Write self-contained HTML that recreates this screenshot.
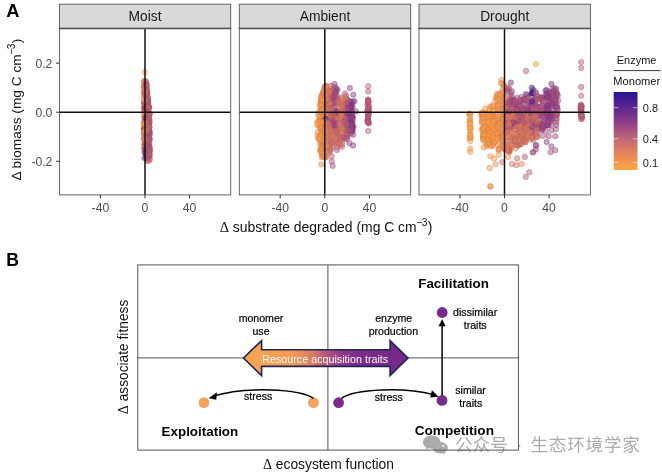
<!DOCTYPE html>
<html lang="en"><head><meta charset="utf-8"><title>Figure</title>
<style>html,body{margin:0;padding:0;background:#fff}body{width:662px;height:472px;overflow:hidden}</style></head>
<body>
<svg width="662" height="472" viewBox="0 0 662 472" style="display:block;will-change:transform">
<defs>
<linearGradient id="cb" x1="0" y1="1" x2="0" y2="0"><stop offset="0.0" stop-color="#fca545"/><stop offset="0.1" stop-color="#f3974e"/><stop offset="0.2" stop-color="#e5875a"/><stop offset="0.3" stop-color="#d47668"/><stop offset="0.4" stop-color="#c06675"/><stop offset="0.5" stop-color="#a9547f"/><stop offset="0.6" stop-color="#903f88"/><stop offset="0.7" stop-color="#76328c"/><stop offset="0.8" stop-color="#5c2790"/><stop offset="0.9" stop-color="#411c91"/><stop offset="1.0" stop-color="#27148c"/></linearGradient>
<linearGradient id="ar" gradientUnits="userSpaceOnUse" x1="243" y1="0" x2="408" y2="0"><stop offset="0" stop-color="#f6a654"/><stop offset="0.3" stop-color="#f29c56"/><stop offset="0.42" stop-color="#d87c66"/><stop offset="0.5" stop-color="#b45a7a"/><stop offset="0.6" stop-color="#8e3a88"/><stop offset="0.68" stop-color="#7c2d8c"/><stop offset="1" stop-color="#75288c"/></linearGradient>
<clipPath id="cp0"><rect x="59.5" y="28.4" width="171.2" height="166.5"/></clipPath>
<clipPath id="cp1"><rect x="239.3" y="28.4" width="171.39999999999998" height="166.5"/></clipPath>
<clipPath id="cp2"><rect x="419" y="28.4" width="171.39999999999998" height="166.5"/></clipPath>
</defs>
<rect width="662" height="472" fill="#fff"/>
<text x="6.3" y="17" font-family="Liberation Sans, Arial, Helvetica, sans-serif" font-size="18.3" font-weight="bold" fill="#000">A</text>
<text x="6.3" y="265.6" font-family="Liberation Sans, Arial, Helvetica, sans-serif" font-size="17.6" font-weight="bold" fill="#000">B</text>
<rect x="59.5" y="4.2" width="171.2" height="24.2" fill="#d9d9d9" stroke="#555" stroke-width="0.9"/>
<text x="145.1" y="21.1" font-family="Liberation Sans, Arial, Helvetica, sans-serif" font-size="13.8" fill="#1a1a1a" text-anchor="middle">Moist</text>
<g clip-path="url(#cp0)" fill-opacity="0.48" stroke-opacity="0.45" stroke-width="0.9">
<circle cx="146.5" cy="91.2" r="2.7" fill="#ae587d" stroke="#99466b"/>
<circle cx="146.3" cy="88.3" r="2.7" fill="#d1746a" stroke="#b75c5b"/>
<circle cx="146.7" cy="98.5" r="2.7" fill="#a14e82" stroke="#8d3e6f"/>
<circle cx="147.5" cy="111.9" r="2.7" fill="#ba6178" stroke="#a34d67"/>
<circle cx="144.2" cy="133.5" r="2.7" fill="#76328c" stroke="#672878"/>
<circle cx="146.6" cy="126.0" r="2.7" fill="#be6576" stroke="#a75065"/>
<circle cx="145.2" cy="105.3" r="2.7" fill="#692c8e" stroke="#5c237a"/>
<circle cx="145.6" cy="88.4" r="2.7" fill="#c36973" stroke="#ab5462"/>
<circle cx="146.7" cy="116.3" r="2.7" fill="#c66b71" stroke="#ae5561"/>
<circle cx="146.5" cy="123.9" r="2.7" fill="#d47668" stroke="#ba5e59"/>
<circle cx="145.0" cy="90.2" r="2.7" fill="#dc7e62" stroke="#c16454"/>
<circle cx="149.8" cy="148.8" r="2.7" fill="#ab567e" stroke="#96446c"/>
<circle cx="147.0" cy="157.2" r="2.7" fill="#ba6178" stroke="#a34d67"/>
<circle cx="144.1" cy="128.9" r="2.7" fill="#f4984d" stroke="#d67942"/>
<circle cx="146.7" cy="117.2" r="2.7" fill="#a55180" stroke="#91406e"/>
<circle cx="144.2" cy="107.7" r="2.7" fill="#f4984d" stroke="#d67942"/>
<circle cx="146.4" cy="94.6" r="2.7" fill="#b25b7b" stroke="#9c4869"/>
<circle cx="148.7" cy="156.0" r="2.7" fill="#ac567e" stroke="#97446c"/>
<circle cx="144.1" cy="81.0" r="2.7" fill="#f4984d" stroke="#d67942"/>
<circle cx="147.5" cy="126.6" r="2.7" fill="#e2845c" stroke="#c6694f"/>
<circle cx="144.8" cy="126.5" r="2.7" fill="#60298f" stroke="#54207a"/>
<circle cx="146.0" cy="81.2" r="2.7" fill="#cc6f6d" stroke="#b3585d"/>
<circle cx="144.7" cy="143.0" r="2.7" fill="#f59a4c" stroke="#d77b41"/>
<circle cx="145.0" cy="93.0" r="2.7" fill="#bd6476" stroke="#a65065"/>
<circle cx="146.5" cy="119.5" r="2.7" fill="#df815f" stroke="#c46751"/>
<circle cx="146.2" cy="94.6" r="2.7" fill="#aa557f" stroke="#95446d"/>
<circle cx="146.2" cy="96.5" r="2.7" fill="#ae587d" stroke="#99466b"/>
<circle cx="146.7" cy="109.8" r="2.7" fill="#dc7e61" stroke="#c16453"/>
<circle cx="146.2" cy="92.9" r="2.7" fill="#a55180" stroke="#91406e"/>
<circle cx="146.3" cy="131.9" r="2.7" fill="#ac567e" stroke="#97446c"/>
<circle cx="148.5" cy="115.9" r="2.7" fill="#c06675" stroke="#a85164"/>
<circle cx="146.1" cy="92.2" r="2.7" fill="#b65e79" stroke="#a04b68"/>
<circle cx="145.9" cy="152.3" r="2.7" fill="#652b8f" stroke="#58227a"/>
<circle cx="146.5" cy="145.2" r="2.7" fill="#cc706d" stroke="#b3595d"/>
<circle cx="144.3" cy="101.4" r="2.7" fill="#f19550" stroke="#d47744"/>
<circle cx="149.2" cy="114.3" r="2.7" fill="#b15a7c" stroke="#9b486a"/>
<circle cx="146.6" cy="91.6" r="2.7" fill="#ba6277" stroke="#a34e66"/>
<circle cx="149.6" cy="120.9" r="2.7" fill="#af587d" stroke="#9a466b"/>
<circle cx="144.9" cy="146.5" r="2.7" fill="#faa247" stroke="#dc813d"/>
<circle cx="144.7" cy="85.6" r="2.7" fill="#f3974e" stroke="#d57843"/>
<circle cx="148.7" cy="107.7" r="2.7" fill="#a14d82" stroke="#8d3d6f"/>
<circle cx="144.7" cy="148.3" r="2.7" fill="#f79d4a" stroke="#d97d3f"/>
<circle cx="149.5" cy="113.4" r="2.7" fill="#b55d7a" stroke="#9f4a68"/>
<circle cx="144.4" cy="126.2" r="2.7" fill="#f9a148" stroke="#db803d"/>
<circle cx="146.0" cy="129.1" r="2.7" fill="#b96078" stroke="#a24c67"/>
<circle cx="144.3" cy="122.8" r="2.7" fill="#f69c4b" stroke="#d87c40"/>
<circle cx="146.0" cy="86.5" r="2.7" fill="#b45d7a" stroke="#9e4a68"/>
<circle cx="147.4" cy="98.8" r="2.7" fill="#b96178" stroke="#a24d67"/>
<circle cx="146.2" cy="98.4" r="2.7" fill="#b35b7b" stroke="#9d4869"/>
<circle cx="145.1" cy="129.1" r="2.7" fill="#934287" stroke="#813474"/>
<circle cx="146.5" cy="146.9" r="2.7" fill="#b45d7a" stroke="#9e4a68"/>
<circle cx="146.5" cy="102.3" r="2.7" fill="#cf726b" stroke="#b65b5c"/>
<circle cx="147.6" cy="100.6" r="2.7" fill="#bc6377" stroke="#a54f66"/>
<circle cx="146.8" cy="110.3" r="2.7" fill="#b15b7b" stroke="#9b4869"/>
<circle cx="144.0" cy="92.3" r="2.7" fill="#f79e4a" stroke="#d97e3f"/>
<circle cx="147.5" cy="122.8" r="2.7" fill="#ae587d" stroke="#99466b"/>
<circle cx="145.7" cy="93.2" r="2.7" fill="#bf6575" stroke="#a85064"/>
<circle cx="145.6" cy="112.4" r="2.7" fill="#441d91" stroke="#3b177c"/>
<circle cx="144.9" cy="129.9" r="2.7" fill="#f3974e" stroke="#d57843"/>
<circle cx="145.7" cy="125.3" r="2.7" fill="#df815f" stroke="#c46751"/>
<circle cx="146.2" cy="102.5" r="2.7" fill="#a65180" stroke="#92406e"/>
<circle cx="146.4" cy="158.3" r="2.7" fill="#c46973" stroke="#ac5462"/>
<circle cx="148.4" cy="155.9" r="2.7" fill="#a8537f" stroke="#93426d"/>
<circle cx="146.8" cy="121.9" r="2.7" fill="#c66b71" stroke="#ae5561"/>
<circle cx="145.3" cy="115.1" r="2.7" fill="#c06675" stroke="#a85164"/>
<circle cx="149.6" cy="155.8" r="2.7" fill="#a75380" stroke="#92426e"/>
<circle cx="144.1" cy="122.2" r="2.7" fill="#f4984d" stroke="#d67942"/>
<circle cx="146.1" cy="87.0" r="2.7" fill="#c96d6f" stroke="#b0575f"/>
<circle cx="147.0" cy="143.8" r="2.7" fill="#bd6476" stroke="#a65065"/>
<circle cx="146.1" cy="105.5" r="2.7" fill="#c46a72" stroke="#ac5462"/>
<circle cx="149.0" cy="118.1" r="2.7" fill="#c36873" stroke="#ab5362"/>
<circle cx="144.2" cy="149.3" r="2.7" fill="#f69c4b" stroke="#d87c40"/>
<circle cx="146.1" cy="133.0" r="2.7" fill="#aa557f" stroke="#95446d"/>
<circle cx="143.9" cy="108.7" r="2.7" fill="#ef9351" stroke="#d27545"/>
<circle cx="146.5" cy="155.3" r="2.7" fill="#b55d7a" stroke="#9f4a68"/>
<circle cx="146.2" cy="102.6" r="2.7" fill="#7f378b" stroke="#6f2c77"/>
<circle cx="145.6" cy="88.6" r="2.7" fill="#d77966" stroke="#bd6057"/>
<circle cx="146.3" cy="92.0" r="2.7" fill="#b45d7a" stroke="#9e4a68"/>
<circle cx="148.6" cy="123.2" r="2.7" fill="#a34f81" stroke="#8f3f6e"/>
<circle cx="146.7" cy="153.6" r="2.7" fill="#af597c" stroke="#9a476a"/>
<circle cx="145.8" cy="128.3" r="2.7" fill="#672c8e" stroke="#5a237a"/>
<circle cx="146.2" cy="85.8" r="2.7" fill="#b05a7c" stroke="#9a486a"/>
<circle cx="144.5" cy="85.5" r="2.7" fill="#f09451" stroke="#d37645"/>
<circle cx="149.5" cy="143.1" r="2.7" fill="#b86078" stroke="#a14c67"/>
<circle cx="147.4" cy="114.2" r="2.7" fill="#be6476" stroke="#a75065"/>
<circle cx="145.0" cy="147.2" r="2.7" fill="#f3984e" stroke="#d57943"/>
<circle cx="146.1" cy="88.7" r="2.7" fill="#af587d" stroke="#9a466b"/>
<circle cx="144.7" cy="113.6" r="2.7" fill="#f59a4c" stroke="#d77b41"/>
<circle cx="147.6" cy="97.9" r="2.7" fill="#b96078" stroke="#a24c67"/>
<circle cx="146.5" cy="99.6" r="2.7" fill="#b55d7a" stroke="#9f4a68"/>
<circle cx="145.5" cy="108.2" r="2.7" fill="#853a8a" stroke="#752e76"/>
<circle cx="144.9" cy="109.0" r="2.7" fill="#f3974e" stroke="#d57843"/>
<circle cx="144.4" cy="81.3" r="2.7" fill="#f69c4b" stroke="#d87c40"/>
<circle cx="146.8" cy="113.1" r="2.7" fill="#b75f79" stroke="#a14c68"/>
<circle cx="144.9" cy="87.0" r="2.7" fill="#bf6575" stroke="#a85064"/>
<circle cx="145.7" cy="89.1" r="2.7" fill="#d0736b" stroke="#b75c5c"/>
<circle cx="147.3" cy="112.3" r="2.7" fill="#ad577d" stroke="#98456b"/>
<circle cx="149.4" cy="135.0" r="2.7" fill="#ab557e" stroke="#96446c"/>
<circle cx="147.0" cy="113.0" r="2.7" fill="#c16675" stroke="#a95164"/>
<circle cx="146.2" cy="96.3" r="2.7" fill="#da7c63" stroke="#bf6355"/>
<circle cx="146.8" cy="117.3" r="2.7" fill="#dc7e61" stroke="#c16453"/>
<circle cx="144.3" cy="111.6" r="2.7" fill="#ef9351" stroke="#d27545"/>
<circle cx="146.1" cy="154.7" r="2.7" fill="#b35c7b" stroke="#9d4969"/>
<circle cx="144.9" cy="139.9" r="2.7" fill="#7e368b" stroke="#6e2b77"/>
<circle cx="145.8" cy="144.3" r="2.7" fill="#702f8d" stroke="#622579"/>
<circle cx="145.8" cy="116.7" r="2.7" fill="#c66b71" stroke="#ae5561"/>
<circle cx="144.6" cy="114.9" r="2.7" fill="#d87a65" stroke="#be6156"/>
<circle cx="148.2" cy="111.7" r="2.7" fill="#c16774" stroke="#a95263"/>
<circle cx="146.0" cy="97.6" r="2.7" fill="#be6476" stroke="#a75065"/>
<circle cx="146.8" cy="91.8" r="2.7" fill="#bc6377" stroke="#a54f66"/>
<circle cx="146.6" cy="102.7" r="2.7" fill="#994785" stroke="#863872"/>
<circle cx="147.4" cy="131.7" r="2.7" fill="#aa557e" stroke="#95446c"/>
<circle cx="147.8" cy="151.2" r="2.7" fill="#b55d7a" stroke="#9f4a68"/>
<circle cx="144.4" cy="134.1" r="2.7" fill="#f79d4a" stroke="#d97d3f"/>
<circle cx="149.4" cy="140.0" r="2.7" fill="#b96078" stroke="#a24c67"/>
<circle cx="145.3" cy="90.2" r="2.7" fill="#cf726b" stroke="#b65b5c"/>
<circle cx="146.5" cy="84.4" r="2.7" fill="#d97b64" stroke="#be6256"/>
<circle cx="144.9" cy="93.7" r="2.7" fill="#ca6e6f" stroke="#b1585f"/>
<circle cx="146.1" cy="94.6" r="2.7" fill="#aa557f" stroke="#95446d"/>
<circle cx="149.4" cy="126.7" r="2.7" fill="#ac567e" stroke="#97446c"/>
<circle cx="146.5" cy="113.3" r="2.7" fill="#cc706d" stroke="#b3595d"/>
<circle cx="148.0" cy="100.0" r="2.7" fill="#ab567e" stroke="#96446c"/>
<circle cx="147.3" cy="93.4" r="2.7" fill="#c26774" stroke="#aa5263"/>
<circle cx="149.1" cy="119.6" r="2.7" fill="#a75280" stroke="#92416e"/>
<circle cx="147.1" cy="147.1" r="2.7" fill="#ba6178" stroke="#a34d67"/>
<circle cx="148.8" cy="106.1" r="2.7" fill="#bc6377" stroke="#a54f66"/>
<circle cx="147.7" cy="137.2" r="2.7" fill="#b35c7b" stroke="#9d4969"/>
<circle cx="144.8" cy="122.5" r="2.7" fill="#ed9153" stroke="#d07447"/>
<circle cx="144.9" cy="123.9" r="2.7" fill="#f19550" stroke="#d47744"/>
<circle cx="145.2" cy="104.5" r="2.7" fill="#cf726b" stroke="#b65b5c"/>
<circle cx="145.5" cy="108.4" r="2.7" fill="#61298f" stroke="#55207a"/>
<circle cx="149.8" cy="139.0" r="2.7" fill="#ab567e" stroke="#96446c"/>
<circle cx="147.5" cy="125.8" r="2.7" fill="#bd6376" stroke="#a64f65"/>
<circle cx="148.9" cy="132.6" r="2.7" fill="#bb6277" stroke="#a44e66"/>
<circle cx="148.2" cy="102.6" r="2.7" fill="#a75280" stroke="#92416e"/>
<circle cx="146.1" cy="88.9" r="2.7" fill="#b45d7a" stroke="#9e4a68"/>
<circle cx="146.2" cy="84.9" r="2.7" fill="#af597c" stroke="#9a476a"/>
<circle cx="146.4" cy="157.7" r="2.7" fill="#582590" stroke="#4d1d7b"/>
<circle cx="144.2" cy="128.9" r="2.7" fill="#61298f" stroke="#55207a"/>
<circle cx="144.4" cy="92.9" r="2.7" fill="#ee9153" stroke="#d17447"/>
<circle cx="147.2" cy="95.5" r="2.7" fill="#be6476" stroke="#a75065"/>
<circle cx="146.9" cy="122.0" r="2.7" fill="#ae587d" stroke="#99466b"/>
<circle cx="150.0" cy="159.5" r="2.7" fill="#ca6e6e" stroke="#b1585e"/>
<circle cx="146.2" cy="122.4" r="2.7" fill="#c06675" stroke="#a85164"/>
<circle cx="149.0" cy="122.5" r="2.7" fill="#d37569" stroke="#b95d5a"/>
<circle cx="146.9" cy="120.7" r="2.7" fill="#b35c7b" stroke="#9d4969"/>
<circle cx="144.0" cy="85.9" r="2.7" fill="#f19550" stroke="#d47744"/>
<circle cx="144.4" cy="102.7" r="2.7" fill="#fba446" stroke="#dc833c"/>
<circle cx="147.7" cy="149.0" r="2.7" fill="#b65e79" stroke="#a04b68"/>
<circle cx="147.0" cy="115.5" r="2.7" fill="#ca6e6f" stroke="#b1585f"/>
<circle cx="148.4" cy="151.8" r="2.7" fill="#b15b7b" stroke="#9b4869"/>
<circle cx="148.7" cy="153.5" r="2.7" fill="#ad577d" stroke="#98456b"/>
<circle cx="146.6" cy="102.6" r="2.7" fill="#bc6377" stroke="#a54f66"/>
<circle cx="148.1" cy="103.5" r="2.7" fill="#d47668" stroke="#ba5e59"/>
<circle cx="146.5" cy="87.9" r="2.7" fill="#d87a65" stroke="#be6156"/>
<circle cx="145.4" cy="111.9" r="2.7" fill="#5d2790" stroke="#511f7b"/>
<circle cx="148.2" cy="158.3" r="2.7" fill="#c16774" stroke="#a95263"/>
<circle cx="147.5" cy="107.8" r="2.7" fill="#cb6f6e" stroke="#b2585e"/>
<circle cx="144.8" cy="149.2" r="2.7" fill="#f8a049" stroke="#da803e"/>
<circle cx="146.6" cy="118.6" r="2.7" fill="#a75280" stroke="#92416e"/>
<circle cx="145.0" cy="84.4" r="2.7" fill="#c16775" stroke="#a95264"/>
<circle cx="145.7" cy="100.0" r="2.7" fill="#c96d6f" stroke="#b0575f"/>
<circle cx="147.8" cy="100.8" r="2.7" fill="#cb6f6e" stroke="#b2585e"/>
<circle cx="148.1" cy="101.4" r="2.7" fill="#b0597c" stroke="#9a476a"/>
<circle cx="148.8" cy="144.2" r="2.7" fill="#ac567e" stroke="#97446c"/>
<circle cx="144.5" cy="109.8" r="2.7" fill="#ee9153" stroke="#d17447"/>
<circle cx="145.7" cy="152.6" r="2.7" fill="#6c2e8e" stroke="#5f247a"/>
<circle cx="148.7" cy="131.7" r="2.7" fill="#ae587d" stroke="#99466b"/>
<circle cx="146.6" cy="104.6" r="2.7" fill="#c36973" stroke="#ab5462"/>
<circle cx="148.9" cy="107.1" r="2.7" fill="#af597c" stroke="#9a476a"/>
<circle cx="147.6" cy="121.9" r="2.7" fill="#c46972" stroke="#ac5462"/>
<circle cx="144.8" cy="147.5" r="2.7" fill="#fca545" stroke="#dd843b"/>
<circle cx="146.2" cy="139.8" r="2.7" fill="#b15a7c" stroke="#9b486a"/>
<circle cx="147.6" cy="140.2" r="2.7" fill="#c06675" stroke="#a85164"/>
<circle cx="148.1" cy="123.8" r="2.7" fill="#c76b71" stroke="#af5561"/>
<circle cx="144.1" cy="97.3" r="2.7" fill="#f59b4c" stroke="#d77c41"/>
<circle cx="147.4" cy="126.5" r="2.7" fill="#b55d7a" stroke="#9f4a68"/>
<circle cx="146.8" cy="121.3" r="2.7" fill="#9b4884" stroke="#883971"/>
<circle cx="149.0" cy="125.0" r="2.7" fill="#c56a72" stroke="#ad5462"/>
<circle cx="147.0" cy="96.3" r="2.7" fill="#bc6377" stroke="#a54f66"/>
<circle cx="144.3" cy="128.7" r="2.7" fill="#471f91" stroke="#3e187c"/>
<circle cx="149.7" cy="131.9" r="2.7" fill="#bc6377" stroke="#a54f66"/>
<circle cx="146.2" cy="86.4" r="2.7" fill="#b65e79" stroke="#a04b68"/>
<circle cx="144.0" cy="86.4" r="2.7" fill="#f4984d" stroke="#d67942"/>
<circle cx="146.9" cy="114.4" r="2.7" fill="#b15a7c" stroke="#9b486a"/>
<circle cx="147.8" cy="130.8" r="2.7" fill="#b96078" stroke="#a24c67"/>
<circle cx="146.1" cy="84.3" r="2.7" fill="#be6476" stroke="#a75065"/>
<circle cx="149.5" cy="134.1" r="2.7" fill="#b45d7a" stroke="#9e4a68"/>
<circle cx="147.3" cy="126.2" r="2.7" fill="#bc6377" stroke="#a54f66"/>
<circle cx="148.2" cy="106.3" r="2.7" fill="#b35c7b" stroke="#9d4969"/>
<circle cx="147.4" cy="109.4" r="2.7" fill="#b25b7b" stroke="#9c4869"/>
<circle cx="144.9" cy="83.4" r="2.7" fill="#d1746a" stroke="#b75c5b"/>
<circle cx="149.6" cy="133.9" r="2.7" fill="#ae587d" stroke="#99466b"/>
<circle cx="145.5" cy="129.7" r="2.7" fill="#82388a" stroke="#722c76"/>
<circle cx="144.6" cy="121.2" r="2.7" fill="#f69c4b" stroke="#d87c40"/>
<circle cx="147.3" cy="96.1" r="2.7" fill="#b35c7b" stroke="#9d4969"/>
<circle cx="148.2" cy="158.9" r="2.7" fill="#bc6377" stroke="#a54f66"/>
<circle cx="148.1" cy="129.0" r="2.7" fill="#bb6277" stroke="#a44e66"/>
<circle cx="145.4" cy="128.0" r="2.7" fill="#692c8e" stroke="#5c237a"/>
<circle cx="146.3" cy="84.9" r="2.7" fill="#da7c63" stroke="#bf6355"/>
<circle cx="146.0" cy="88.7" r="2.7" fill="#c06675" stroke="#a85164"/>
<circle cx="144.2" cy="148.0" r="2.7" fill="#f59a4c" stroke="#d77b41"/>
<circle cx="147.2" cy="129.5" r="2.7" fill="#c56a71" stroke="#ad5461"/>
<circle cx="144.3" cy="102.5" r="2.7" fill="#6d2e8d" stroke="#5f2479"/>
<circle cx="147.1" cy="91.3" r="2.7" fill="#d77966" stroke="#bd6057"/>
<circle cx="145.5" cy="134.5" r="2.7" fill="#5e2890" stroke="#52207b"/>
<circle cx="145.0" cy="82.3" r="2.7" fill="#cf726b" stroke="#b65b5c"/>
<circle cx="147.2" cy="92.5" r="2.7" fill="#d0736a" stroke="#b75c5b"/>
<circle cx="145.5" cy="119.8" r="2.7" fill="#ce716c" stroke="#b55a5c"/>
<circle cx="144.6" cy="105.6" r="2.7" fill="#d47668" stroke="#ba5e59"/>
<circle cx="149.2" cy="108.4" r="2.7" fill="#b15b7b" stroke="#9b4869"/>
<circle cx="145.8" cy="136.9" r="2.7" fill="#71308d" stroke="#632679"/>
<circle cx="145.9" cy="140.3" r="2.7" fill="#692c8e" stroke="#5c237a"/>
<circle cx="146.8" cy="135.2" r="2.7" fill="#af597c" stroke="#9a476a"/>
<circle cx="144.4" cy="138.9" r="2.7" fill="#6a2d8e" stroke="#5d247a"/>
<circle cx="144.5" cy="87.2" r="2.7" fill="#c46973" stroke="#ac5462"/>
<circle cx="146.5" cy="155.7" r="2.7" fill="#aa557f" stroke="#95446d"/>
<circle cx="146.4" cy="92.2" r="2.7" fill="#aa557e" stroke="#95446c"/>
<circle cx="148.3" cy="107.0" r="2.7" fill="#cb6f6e" stroke="#b2585e"/>
<circle cx="145.0" cy="123.0" r="2.7" fill="#883b89" stroke="#772f75"/>
<circle cx="146.3" cy="84.4" r="2.7" fill="#bc6377" stroke="#a54f66"/>
<circle cx="144.8" cy="72.3" r="2.7" fill="#f9a148" stroke="#db803d"/>
<circle cx="147.4" cy="153.8" r="2.7" fill="#b75f79" stroke="#a14c68"/>
<circle cx="147.5" cy="103.1" r="2.7" fill="#b96178" stroke="#a24d67"/>
<circle cx="144.1" cy="106.3" r="2.7" fill="#f69b4b" stroke="#d87c40"/>
<circle cx="146.4" cy="91.2" r="2.7" fill="#b0597c" stroke="#9a476a"/>
<circle cx="148.2" cy="115.5" r="2.7" fill="#bc6377" stroke="#a54f66"/>
<circle cx="146.2" cy="129.8" r="2.7" fill="#5f2890" stroke="#53207b"/>
<circle cx="149.5" cy="123.1" r="2.7" fill="#ad577d" stroke="#98456b"/>
<circle cx="147.5" cy="153.5" r="2.7" fill="#b45d7a" stroke="#9e4a68"/>
<circle cx="146.1" cy="92.4" r="2.7" fill="#c36873" stroke="#ab5362"/>
<circle cx="145.1" cy="107.9" r="2.7" fill="#652b8f" stroke="#58227a"/>
<circle cx="144.1" cy="85.6" r="2.7" fill="#f59a4c" stroke="#d77b41"/>
<circle cx="147.7" cy="101.4" r="2.7" fill="#d27469" stroke="#b85c5a"/>
<circle cx="147.7" cy="138.9" r="2.7" fill="#b45d7a" stroke="#9e4a68"/>
<circle cx="146.4" cy="119.5" r="2.7" fill="#ac567e" stroke="#97446c"/>
<circle cx="146.9" cy="107.7" r="2.7" fill="#a14d82" stroke="#8d3d6f"/>
<circle cx="146.5" cy="92.6" r="2.7" fill="#a24e81" stroke="#8e3e6e"/>
<circle cx="144.9" cy="93.6" r="2.7" fill="#d57767" stroke="#bb5f58"/>
<circle cx="149.4" cy="151.4" r="2.7" fill="#b05a7c" stroke="#9a486a"/>
<circle cx="147.3" cy="112.0" r="2.7" fill="#be6576" stroke="#a75065"/>
<circle cx="147.1" cy="94.1" r="2.7" fill="#b45d7a" stroke="#9e4a68"/>
<circle cx="148.4" cy="152.7" r="2.7" fill="#b45d7a" stroke="#9e4a68"/>
<circle cx="146.3" cy="134.5" r="2.7" fill="#84398a" stroke="#742d76"/>
<circle cx="146.3" cy="99.5" r="2.7" fill="#cd716c" stroke="#b45a5c"/>
<circle cx="148.5" cy="127.9" r="2.7" fill="#b55d7a" stroke="#9f4a68"/>
<circle cx="145.1" cy="85.9" r="2.7" fill="#bd6376" stroke="#a64f65"/>
<circle cx="146.1" cy="104.6" r="2.7" fill="#ab567e" stroke="#96446c"/>
<circle cx="146.2" cy="87.1" r="2.7" fill="#b45d7a" stroke="#9e4a68"/>
<circle cx="146.1" cy="151.3" r="2.7" fill="#c56a71" stroke="#ad5461"/>
<circle cx="144.8" cy="103.6" r="2.7" fill="#74318c" stroke="#662778"/>
<circle cx="148.6" cy="130.5" r="2.7" fill="#a9547f" stroke="#94436d"/>
<circle cx="146.4" cy="154.9" r="2.7" fill="#a04c82" stroke="#8c3c6f"/>
<circle cx="144.5" cy="92.8" r="2.7" fill="#cc706d" stroke="#b3595d"/>
<circle cx="144.4" cy="82.8" r="2.7" fill="#f4984d" stroke="#d67942"/>
<circle cx="149.5" cy="131.3" r="2.7" fill="#a75280" stroke="#92416e"/>
<circle cx="146.2" cy="141.5" r="2.7" fill="#a9547f" stroke="#94436d"/>
<circle cx="144.2" cy="94.7" r="2.7" fill="#f59b4c" stroke="#d77c41"/>
<circle cx="148.4" cy="121.8" r="2.7" fill="#b65e79" stroke="#a04b68"/>
<circle cx="149.0" cy="139.0" r="2.7" fill="#b86078" stroke="#a14c67"/>
<circle cx="146.5" cy="153.5" r="2.7" fill="#bf6575" stroke="#a85064"/>
<circle cx="149.8" cy="150.3" r="2.7" fill="#b55d7a" stroke="#9f4a68"/>
<circle cx="144.8" cy="104.4" r="2.7" fill="#75328c" stroke="#662878"/>
<circle cx="146.2" cy="138.0" r="2.7" fill="#ba6178" stroke="#a34d67"/>
<circle cx="144.1" cy="145.7" r="2.7" fill="#e88b57" stroke="#cc6f4a"/>
<circle cx="149.1" cy="150.3" r="2.7" fill="#9f4c83" stroke="#8b3c70"/>
<circle cx="149.7" cy="154.7" r="2.7" fill="#b86078" stroke="#a14c67"/>
<circle cx="146.8" cy="156.3" r="2.7" fill="#c26774" stroke="#aa5263"/>
<circle cx="149.3" cy="145.9" r="2.7" fill="#ac567e" stroke="#97446c"/>
<circle cx="144.2" cy="91.1" r="2.7" fill="#faa347" stroke="#dc823d"/>
<circle cx="144.4" cy="117.3" r="2.7" fill="#f3984e" stroke="#d57943"/>
<circle cx="144.2" cy="116.3" r="2.7" fill="#ef9251" stroke="#d27445"/>
<circle cx="144.3" cy="126.0" r="2.7" fill="#f4984d" stroke="#d67942"/>
<circle cx="146.2" cy="98.8" r="2.7" fill="#cf726c" stroke="#b65b5c"/>
<circle cx="146.7" cy="88.0" r="2.7" fill="#d57767" stroke="#bb5f58"/>
<circle cx="148.3" cy="127.5" r="2.7" fill="#c76c70" stroke="#af5660"/>
<circle cx="146.3" cy="90.9" r="2.7" fill="#ac567e" stroke="#97446c"/>
<circle cx="147.8" cy="98.5" r="2.7" fill="#c86d70" stroke="#b05760"/>
<circle cx="144.4" cy="137.9" r="2.7" fill="#7e368b" stroke="#6e2b77"/>
<circle cx="144.8" cy="114.1" r="2.7" fill="#f3974e" stroke="#d57843"/>
<circle cx="146.7" cy="134.9" r="2.7" fill="#b75f79" stroke="#a14c68"/>
<circle cx="149.1" cy="115.8" r="2.7" fill="#c76c70" stroke="#af5660"/>
<circle cx="149.8" cy="152.0" r="2.7" fill="#ba6277" stroke="#a34e66"/>
<circle cx="149.2" cy="155.5" r="2.7" fill="#b35c7b" stroke="#9d4969"/>
<circle cx="147.6" cy="145.7" r="2.7" fill="#a34f81" stroke="#8f3f6e"/>
<circle cx="146.2" cy="106.2" r="2.7" fill="#7d368b" stroke="#6e2b77"/>
<circle cx="146.5" cy="148.4" r="2.7" fill="#672c8e" stroke="#5a237a"/>
<circle cx="144.9" cy="86.1" r="2.7" fill="#cf726b" stroke="#b65b5c"/>
<circle cx="148.1" cy="143.6" r="2.7" fill="#ad577d" stroke="#98456b"/>
<circle cx="144.6" cy="111.1" r="2.7" fill="#f79e4a" stroke="#d97e3f"/>
<circle cx="146.3" cy="126.7" r="2.7" fill="#e0825e" stroke="#c56850"/>
<circle cx="146.3" cy="84.1" r="2.7" fill="#d67866" stroke="#bc6057"/>
<circle cx="147.7" cy="114.0" r="2.7" fill="#ac567e" stroke="#97446c"/>
<circle cx="144.3" cy="88.9" r="2.7" fill="#eb8d55" stroke="#ce7049"/>
<circle cx="146.9" cy="109.4" r="2.7" fill="#a55081" stroke="#91406e"/>
<circle cx="146.8" cy="148.7" r="2.7" fill="#b65e7a" stroke="#a04b68"/>
<circle cx="146.4" cy="90.7" r="2.7" fill="#c76c70" stroke="#af5660"/>
<circle cx="144.5" cy="95.1" r="2.7" fill="#ec8f54" stroke="#cf7248"/>
<circle cx="144.9" cy="122.0" r="2.7" fill="#ee9252" stroke="#d17446"/>
<circle cx="147.0" cy="115.5" r="2.7" fill="#b45d7a" stroke="#9e4a68"/>
<circle cx="144.4" cy="99.2" r="2.7" fill="#f79e4a" stroke="#d97e3f"/>
<circle cx="144.0" cy="133.7" r="2.7" fill="#ee9152" stroke="#d17446"/>
<circle cx="147.9" cy="111.8" r="2.7" fill="#af597c" stroke="#9a476a"/>
<circle cx="149.4" cy="138.4" r="2.7" fill="#ae587d" stroke="#99466b"/>
<circle cx="144.4" cy="87.3" r="2.7" fill="#ef9252" stroke="#d27446"/>
<circle cx="147.8" cy="107.1" r="2.7" fill="#c46972" stroke="#ac5462"/>
<circle cx="144.7" cy="85.7" r="2.7" fill="#f4984d" stroke="#d67942"/>
<circle cx="146.1" cy="140.0" r="2.7" fill="#ba6178" stroke="#a34d67"/>
<circle cx="146.7" cy="118.4" r="2.7" fill="#c76c70" stroke="#af5660"/>
<circle cx="149.8" cy="148.3" r="2.7" fill="#b75f79" stroke="#a14c68"/>
<circle cx="148.4" cy="107.3" r="2.7" fill="#cb6f6e" stroke="#b2585e"/>
<circle cx="149.4" cy="127.5" r="2.7" fill="#bf6575" stroke="#a85064"/>
<circle cx="146.1" cy="87.7" r="2.7" fill="#c66b71" stroke="#ae5561"/>
<circle cx="146.8" cy="142.9" r="2.7" fill="#bb6277" stroke="#a44e66"/>
<circle cx="147.1" cy="96.6" r="2.7" fill="#be6476" stroke="#a75065"/>
<circle cx="145.1" cy="81.8" r="2.7" fill="#d2746a" stroke="#b85c5b"/>
<circle cx="146.7" cy="120.5" r="2.7" fill="#dc7e62" stroke="#c16454"/>
<circle cx="145.0" cy="124.9" r="2.7" fill="#c36973" stroke="#ab5462"/>
<circle cx="144.7" cy="144.8" r="2.7" fill="#f4994d" stroke="#d67a42"/>
<circle cx="145.3" cy="92.7" r="2.7" fill="#c66b71" stroke="#ae5561"/>
<circle cx="146.8" cy="100.4" r="2.7" fill="#bb6277" stroke="#a44e66"/>
<circle cx="144.1" cy="106.7" r="2.7" fill="#f09351" stroke="#d37545"/>
<circle cx="144.7" cy="143.0" r="2.7" fill="#6c2e8e" stroke="#5f247a"/>
<circle cx="147.2" cy="122.0" r="2.7" fill="#ad577d" stroke="#98456b"/>
<circle cx="146.9" cy="100.7" r="2.7" fill="#b45d7a" stroke="#9e4a68"/>
<circle cx="146.3" cy="93.9" r="2.7" fill="#b65f79" stroke="#a04c68"/>
<circle cx="146.1" cy="107.1" r="2.7" fill="#c56a72" stroke="#ad5462"/>
<circle cx="147.8" cy="150.3" r="2.7" fill="#b45c7a" stroke="#9e4968"/>
<circle cx="147.2" cy="108.0" r="2.7" fill="#b45c7a" stroke="#9e4968"/>
<circle cx="148.1" cy="118.3" r="2.7" fill="#a04d82" stroke="#8c3d6f"/>
<circle cx="145.1" cy="118.3" r="2.7" fill="#5a2690" stroke="#4f1e7b"/>
<circle cx="146.1" cy="84.3" r="2.7" fill="#cc706d" stroke="#b3595d"/>
<circle cx="146.2" cy="122.3" r="2.7" fill="#b85f79" stroke="#a14c68"/>
<circle cx="149.0" cy="113.3" r="2.7" fill="#d87a65" stroke="#be6156"/>
<circle cx="145.3" cy="130.5" r="2.7" fill="#71308d" stroke="#632679"/>
<circle cx="144.5" cy="140.6" r="2.7" fill="#f3984e" stroke="#d57943"/>
<circle cx="143.9" cy="123.4" r="2.7" fill="#fca545" stroke="#dd843b"/>
<circle cx="147.8" cy="103.7" r="2.7" fill="#b96078" stroke="#a24c67"/>
<circle cx="147.5" cy="161.0" r="2.7" fill="#a9547f" stroke="#94436d"/>
<circle cx="146.0" cy="86.6" r="2.7" fill="#ad577d" stroke="#98456b"/>
<circle cx="145.0" cy="131.5" r="2.7" fill="#f4984d" stroke="#d67942"/>
<circle cx="144.8" cy="108.7" r="2.7" fill="#6a2d8e" stroke="#5d247a"/>
<circle cx="148.4" cy="128.7" r="2.7" fill="#b25b7b" stroke="#9c4869"/>
<circle cx="144.6" cy="158.1" r="2.7" fill="#6d2e8d" stroke="#5f2479"/>
<circle cx="148.6" cy="117.8" r="2.7" fill="#c76c70" stroke="#af5660"/>
<circle cx="147.2" cy="132.4" r="2.7" fill="#ae587d" stroke="#99466b"/>
<circle cx="146.2" cy="85.1" r="2.7" fill="#c46972" stroke="#ac5462"/>
<circle cx="144.7" cy="152.7" r="2.7" fill="#672c8e" stroke="#5a237a"/>
<circle cx="148.8" cy="154.3" r="2.7" fill="#be6576" stroke="#a75065"/>
<circle cx="147.0" cy="151.2" r="2.7" fill="#bb6277" stroke="#a44e66"/>
<circle cx="149.0" cy="160.5" r="2.7" fill="#d47668" stroke="#ba5e59"/>
<circle cx="144.3" cy="100.7" r="2.7" fill="#f69c4b" stroke="#d87c40"/>
<circle cx="145.5" cy="86.7" r="2.7" fill="#d37569" stroke="#b95d5a"/>
<circle cx="148.4" cy="108.4" r="2.7" fill="#e0825e" stroke="#c56850"/>
<circle cx="147.2" cy="100.8" r="2.7" fill="#bb6277" stroke="#a44e66"/>
<circle cx="145.4" cy="148.4" r="2.7" fill="#6b2e8e" stroke="#5e247a"/>
<circle cx="145.2" cy="94.3" r="2.7" fill="#d1746a" stroke="#b75c5b"/>
<circle cx="147.2" cy="156.7" r="2.7" fill="#b15a7c" stroke="#9b486a"/>
<circle cx="149.2" cy="140.1" r="2.7" fill="#b75f79" stroke="#a14c68"/>
<circle cx="146.2" cy="92.3" r="2.7" fill="#c66b71" stroke="#ae5561"/>
<circle cx="146.3" cy="109.6" r="2.7" fill="#b45d7a" stroke="#9e4a68"/>
<circle cx="147.5" cy="127.1" r="2.7" fill="#d57767" stroke="#bb5f58"/>
<circle cx="149.8" cy="113.7" r="2.7" fill="#b96178" stroke="#a24d67"/>
<circle cx="146.0" cy="96.7" r="2.7" fill="#b65f79" stroke="#a04c68"/>
<circle cx="147.6" cy="130.2" r="2.7" fill="#cb6f6e" stroke="#b2585e"/>
<circle cx="147.8" cy="107.4" r="2.7" fill="#bc6377" stroke="#a54f66"/>
<circle cx="149.0" cy="149.3" r="2.7" fill="#bc6377" stroke="#a54f66"/>
<circle cx="146.4" cy="146.9" r="2.7" fill="#b86079" stroke="#a14c68"/>
<circle cx="144.3" cy="130.8" r="2.7" fill="#f69c4b" stroke="#d87c40"/>
<circle cx="146.7" cy="111.3" r="2.7" fill="#b65e7a" stroke="#a04b68"/>
<circle cx="145.1" cy="91.4" r="2.7" fill="#d1736a" stroke="#b75c5b"/>
<circle cx="144.2" cy="137.9" r="2.7" fill="#f3974e" stroke="#d57843"/>
<circle cx="146.1" cy="84.9" r="2.7" fill="#bb6277" stroke="#a44e66"/>
<circle cx="146.7" cy="122.3" r="2.7" fill="#c76c70" stroke="#af5660"/>
</g>
<line x1="59.5" x2="230.7" y1="112.2" y2="112.2" stroke="#111" stroke-width="1.5"/>
<line x1="145.0" x2="145.0" y1="28.4" y2="194.9" stroke="#111" stroke-width="1.5"/>
<rect x="59.5" y="28.4" width="171.2" height="166.5" fill="none" stroke="#555" stroke-width="0.9"/>
<line x1="59.05" x2="231.14999999999998" y1="28.5" y2="28.5" stroke="#505050" stroke-width="1.7"/>
<line x1="100.4" x2="100.4" y1="194.9" y2="198.4" stroke="#333" stroke-width="1"/>
<text x="100.4" y="211.7" font-family="Liberation Sans, Arial, Helvetica, sans-serif" font-size="12.2" fill="#4d4d4d" text-anchor="middle">-40</text>
<line x1="145.0" x2="145.0" y1="194.9" y2="198.4" stroke="#333" stroke-width="1"/>
<text x="145.0" y="211.7" font-family="Liberation Sans, Arial, Helvetica, sans-serif" font-size="12.2" fill="#4d4d4d" text-anchor="middle">0</text>
<line x1="189.6" x2="189.6" y1="194.9" y2="198.4" stroke="#333" stroke-width="1"/>
<text x="189.6" y="211.7" font-family="Liberation Sans, Arial, Helvetica, sans-serif" font-size="12.2" fill="#4d4d4d" text-anchor="middle">40</text>
<rect x="239.3" y="4.2" width="171.39999999999998" height="24.2" fill="#d9d9d9" stroke="#555" stroke-width="0.9"/>
<text x="325.0" y="21.1" font-family="Liberation Sans, Arial, Helvetica, sans-serif" font-size="13.8" fill="#1a1a1a" text-anchor="middle">Ambient</text>
<g clip-path="url(#cp1)" fill-opacity="0.48" stroke-opacity="0.45" stroke-width="0.9">
<circle cx="339.7" cy="135.0" r="2.7" fill="#d57767" stroke="#bb5f58"/>
<circle cx="321.4" cy="106.7" r="2.7" fill="#f59a4c" stroke="#d77b41"/>
<circle cx="339.1" cy="113.3" r="2.7" fill="#dc7e61" stroke="#c16453"/>
<circle cx="328.3" cy="126.1" r="2.7" fill="#cd716c" stroke="#b45a5c"/>
<circle cx="335.8" cy="139.4" r="2.7" fill="#d77966" stroke="#bd6057"/>
<circle cx="318.3" cy="114.3" r="2.7" fill="#f69c4b" stroke="#d87c40"/>
<circle cx="325.5" cy="155.0" r="2.7" fill="#f09450" stroke="#d37644"/>
<circle cx="325.0" cy="133.8" r="2.7" fill="#ee9252" stroke="#d17446"/>
<circle cx="338.5" cy="110.8" r="2.7" fill="#d67866" stroke="#bc6057"/>
<circle cx="324.1" cy="93.1" r="2.7" fill="#f09351" stroke="#d37545"/>
<circle cx="336.7" cy="118.9" r="2.7" fill="#cc6f6d" stroke="#b3585d"/>
<circle cx="350.7" cy="116.0" r="2.7" fill="#9c4984" stroke="#893a71"/>
<circle cx="325.0" cy="115.1" r="2.7" fill="#f09351" stroke="#d37545"/>
<circle cx="346.5" cy="130.2" r="2.7" fill="#b05a7c" stroke="#9a486a"/>
<circle cx="335.1" cy="116.4" r="2.7" fill="#9f4b83" stroke="#8b3c70"/>
<circle cx="338.5" cy="115.4" r="2.7" fill="#db7d62" stroke="#c06454"/>
<circle cx="330.1" cy="98.9" r="2.7" fill="#d0736b" stroke="#b75c5c"/>
<circle cx="341.5" cy="129.3" r="2.7" fill="#d87a64" stroke="#be6156"/>
<circle cx="324.8" cy="143.2" r="2.7" fill="#ec8f54" stroke="#cf7248"/>
<circle cx="325.9" cy="89.1" r="2.7" fill="#f4984d" stroke="#d67942"/>
<circle cx="322.5" cy="150.6" r="2.7" fill="#f19550" stroke="#d47744"/>
<circle cx="334.3" cy="116.0" r="2.7" fill="#a24e81" stroke="#8e3e6e"/>
<circle cx="321.1" cy="133.9" r="2.7" fill="#f4984d" stroke="#d67942"/>
<circle cx="330.8" cy="107.5" r="2.7" fill="#d47668" stroke="#ba5e59"/>
<circle cx="334.7" cy="124.3" r="2.7" fill="#9a4784" stroke="#873871"/>
<circle cx="326.2" cy="112.6" r="2.7" fill="#e2845d" stroke="#c6694f"/>
<circle cx="325.4" cy="137.3" r="2.7" fill="#ea8d56" stroke="#cd7049"/>
<circle cx="353.0" cy="118.3" r="2.7" fill="#954486" stroke="#833673"/>
<circle cx="325.0" cy="121.9" r="2.7" fill="#ee9153" stroke="#d17447"/>
<circle cx="326.0" cy="93.8" r="2.7" fill="#ed9053" stroke="#d07347"/>
<circle cx="324.1" cy="136.6" r="2.7" fill="#f2964f" stroke="#d47843"/>
<circle cx="368.3" cy="100.6" r="2.7" fill="#ae587d" stroke="#99466b"/>
<circle cx="322.7" cy="132.8" r="2.7" fill="#f69b4b" stroke="#d87c40"/>
<circle cx="317.6" cy="125.2" r="2.7" fill="#f69c4b" stroke="#d87c40"/>
<circle cx="324.7" cy="143.1" r="2.7" fill="#ec8f54" stroke="#cf7248"/>
<circle cx="322.1" cy="133.9" r="2.7" fill="#f9a048" stroke="#db803d"/>
<circle cx="341.9" cy="146.8" r="2.7" fill="#b45d7a" stroke="#9e4a68"/>
<circle cx="334.1" cy="95.3" r="2.7" fill="#9c4984" stroke="#893a71"/>
<circle cx="334.4" cy="91.7" r="2.7" fill="#a9547f" stroke="#94436d"/>
<circle cx="325.3" cy="99.1" r="2.7" fill="#ee9152" stroke="#d17446"/>
<circle cx="351.5" cy="102.4" r="2.7" fill="#8c3d89" stroke="#7b3075"/>
<circle cx="346.3" cy="121.7" r="2.7" fill="#b75f79" stroke="#a14c68"/>
<circle cx="325.9" cy="105.0" r="2.7" fill="#e68859" stroke="#ca6c4c"/>
<circle cx="343.8" cy="106.9" r="2.7" fill="#c46972" stroke="#ac5462"/>
<circle cx="334.5" cy="96.9" r="2.7" fill="#aa557e" stroke="#95446c"/>
<circle cx="337.2" cy="147.3" r="2.7" fill="#c86c70" stroke="#b05660"/>
<circle cx="348.3" cy="115.8" r="2.7" fill="#ab567e" stroke="#96446c"/>
<circle cx="325.2" cy="112.5" r="2.7" fill="#ea8c56" stroke="#cd7049"/>
<circle cx="368.4" cy="113.5" r="2.7" fill="#b25b7b" stroke="#9c4869"/>
<circle cx="368.1" cy="117.1" r="2.7" fill="#b0597c" stroke="#9a476a"/>
<circle cx="334.5" cy="84.0" r="2.7" fill="#8b3c89" stroke="#7a3075"/>
<circle cx="349.4" cy="121.7" r="2.7" fill="#b35c7b" stroke="#9d4969"/>
<circle cx="326.2" cy="90.4" r="2.7" fill="#ed9053" stroke="#d07347"/>
<circle cx="334.3" cy="129.6" r="2.7" fill="#cf726b" stroke="#b65b5c"/>
<circle cx="331.0" cy="115.2" r="2.7" fill="#c76b71" stroke="#af5561"/>
<circle cx="325.3" cy="88.3" r="2.7" fill="#f2964f" stroke="#d47843"/>
<circle cx="323.1" cy="93.3" r="2.7" fill="#f19550" stroke="#d47744"/>
<circle cx="325.2" cy="120.3" r="2.7" fill="#f69b4b" stroke="#d87c40"/>
<circle cx="351.7" cy="104.5" r="2.7" fill="#853a8a" stroke="#752e76"/>
<circle cx="325.2" cy="93.7" r="2.7" fill="#ee9153" stroke="#d17447"/>
<circle cx="334.0" cy="131.6" r="2.7" fill="#cc706d" stroke="#b3595d"/>
<circle cx="330.2" cy="143.7" r="2.7" fill="#d47668" stroke="#ba5e59"/>
<circle cx="368.3" cy="109.8" r="2.7" fill="#bd6376" stroke="#a64f65"/>
<circle cx="325.4" cy="97.7" r="2.7" fill="#ec8f54" stroke="#cf7248"/>
<circle cx="350.8" cy="112.7" r="2.7" fill="#903f88" stroke="#7e3274"/>
<circle cx="331.0" cy="143.2" r="2.7" fill="#d1746a" stroke="#b75c5b"/>
<circle cx="322.3" cy="131.4" r="2.7" fill="#f19450" stroke="#d47644"/>
<circle cx="321.7" cy="96.9" r="2.7" fill="#f09351" stroke="#d37545"/>
<circle cx="331.2" cy="141.7" r="2.7" fill="#cd706d" stroke="#b4595d"/>
<circle cx="324.5" cy="157.6" r="2.7" fill="#f4984d" stroke="#d67942"/>
<circle cx="350.8" cy="129.5" r="2.7" fill="#924187" stroke="#803474"/>
<circle cx="320.9" cy="127.4" r="2.7" fill="#f79d4a" stroke="#d97d3f"/>
<circle cx="324.5" cy="100.6" r="2.7" fill="#f4994d" stroke="#d67a42"/>
<circle cx="326.0" cy="108.0" r="2.7" fill="#3a1a90" stroke="#33147b"/>
<circle cx="322.9" cy="146.9" r="2.7" fill="#f2964f" stroke="#d47843"/>
<circle cx="328.5" cy="112.7" r="2.7" fill="#cb6f6e" stroke="#b2585e"/>
<circle cx="325.4" cy="90.0" r="2.7" fill="#f4994d" stroke="#d67a42"/>
<circle cx="336.2" cy="113.2" r="2.7" fill="#a24e82" stroke="#8e3e6f"/>
<circle cx="331.6" cy="114.3" r="2.7" fill="#d27569" stroke="#b85d5a"/>
<circle cx="322.5" cy="126.4" r="2.7" fill="#f59a4c" stroke="#d77b41"/>
<circle cx="320.4" cy="125.3" r="2.7" fill="#f19450" stroke="#d47644"/>
<circle cx="322.5" cy="114.4" r="2.7" fill="#f09351" stroke="#d37545"/>
<circle cx="350.8" cy="107.5" r="2.7" fill="#8b3c89" stroke="#7a3075"/>
<circle cx="324.1" cy="145.2" r="2.7" fill="#ef9251" stroke="#d27445"/>
<circle cx="368.1" cy="118.1" r="2.7" fill="#b86079" stroke="#a14c68"/>
<circle cx="325.6" cy="128.3" r="2.7" fill="#f09351" stroke="#d37545"/>
<circle cx="345.5" cy="105.5" r="2.7" fill="#b65e79" stroke="#a04b68"/>
<circle cx="325.9" cy="140.3" r="2.7" fill="#e98c57" stroke="#cd704a"/>
<circle cx="347.3" cy="136.7" r="2.7" fill="#b86079" stroke="#a14c68"/>
<circle cx="326.0" cy="93.1" r="2.7" fill="#e98b57" stroke="#cd6f4a"/>
<circle cx="319.7" cy="137.3" r="2.7" fill="#f79e4a" stroke="#d97e3f"/>
<circle cx="326.2" cy="88.5" r="2.7" fill="#e88b57" stroke="#cc6f4a"/>
<circle cx="341.4" cy="128.9" r="2.7" fill="#d87a65" stroke="#be6156"/>
<circle cx="323.3" cy="93.4" r="2.7" fill="#f09450" stroke="#d37644"/>
<circle cx="325.4" cy="94.8" r="2.7" fill="#eb8e54" stroke="#ce7148"/>
<circle cx="325.3" cy="137.3" r="2.7" fill="#f09450" stroke="#d37644"/>
<circle cx="330.5" cy="86.0" r="2.7" fill="#a9547f" stroke="#94436d"/>
<circle cx="354.4" cy="101.3" r="2.7" fill="#7e368b" stroke="#6e2b77"/>
<circle cx="327.8" cy="146.9" r="2.7" fill="#d57767" stroke="#bb5f58"/>
<circle cx="335.2" cy="124.5" r="2.7" fill="#ab557e" stroke="#96446c"/>
<circle cx="325.8" cy="86.3" r="2.7" fill="#f19550" stroke="#d47744"/>
<circle cx="325.0" cy="126.4" r="2.7" fill="#ec8f54" stroke="#cf7248"/>
<circle cx="323.6" cy="103.1" r="2.7" fill="#f69b4b" stroke="#d87c40"/>
<circle cx="324.7" cy="96.7" r="2.7" fill="#ee9252" stroke="#d17446"/>
<circle cx="325.6" cy="147.5" r="2.7" fill="#f09450" stroke="#d37644"/>
<circle cx="317.9" cy="135.5" r="2.7" fill="#f89f49" stroke="#da7f3e"/>
<circle cx="340.8" cy="127.1" r="2.7" fill="#e3855c" stroke="#c76a4f"/>
<circle cx="338.0" cy="125.9" r="2.7" fill="#d0736b" stroke="#b75c5c"/>
<circle cx="322.7" cy="104.7" r="2.7" fill="#f19550" stroke="#d47744"/>
<circle cx="323.0" cy="140.1" r="2.7" fill="#f59a4c" stroke="#d77b41"/>
<circle cx="324.4" cy="132.0" r="2.7" fill="#f4994d" stroke="#d67a42"/>
<circle cx="350.1" cy="119.4" r="2.7" fill="#913f88" stroke="#7f3274"/>
<circle cx="368.2" cy="113.7" r="2.7" fill="#be6476" stroke="#a75065"/>
<circle cx="368.6" cy="123.0" r="2.7" fill="#b15b7b" stroke="#9b4869"/>
<circle cx="330.7" cy="92.0" r="2.7" fill="#d87a65" stroke="#be6156"/>
<circle cx="319.9" cy="118.7" r="2.7" fill="#f89f49" stroke="#da7f3e"/>
<circle cx="333.5" cy="144.5" r="2.7" fill="#da7c63" stroke="#bf6355"/>
<circle cx="368.7" cy="112.0" r="2.7" fill="#b55e7a" stroke="#9f4b68"/>
<circle cx="325.5" cy="110.7" r="2.7" fill="#f3974e" stroke="#d57843"/>
<circle cx="352.7" cy="116.2" r="2.7" fill="#7f368b" stroke="#6f2b77"/>
<circle cx="337.7" cy="142.2" r="2.7" fill="#cc6f6d" stroke="#b3585d"/>
<circle cx="323.9" cy="136.8" r="2.7" fill="#f4984d" stroke="#d67942"/>
<circle cx="321.8" cy="95.4" r="2.7" fill="#f4984d" stroke="#d67942"/>
<circle cx="325.3" cy="145.8" r="2.7" fill="#e88b57" stroke="#cc6f4a"/>
<circle cx="331.4" cy="140.5" r="2.7" fill="#d97b64" stroke="#be6256"/>
<circle cx="331.2" cy="121.1" r="2.7" fill="#dd7f61" stroke="#c26553"/>
<circle cx="346.6" cy="128.8" r="2.7" fill="#b75f79" stroke="#a14c68"/>
<circle cx="338.2" cy="113.2" r="2.7" fill="#da7c63" stroke="#bf6355"/>
<circle cx="320.7" cy="114.6" r="2.7" fill="#ee9252" stroke="#d17446"/>
<circle cx="336.7" cy="127.3" r="2.7" fill="#d87a64" stroke="#be6156"/>
<circle cx="323.2" cy="123.5" r="2.7" fill="#f3964e" stroke="#d57843"/>
<circle cx="319.8" cy="124.1" r="2.7" fill="#f3984e" stroke="#d57943"/>
<circle cx="329.6" cy="119.5" r="2.7" fill="#c86c70" stroke="#b05660"/>
<circle cx="339.0" cy="134.3" r="2.7" fill="#d1746a" stroke="#b75c5b"/>
<circle cx="327.4" cy="151.8" r="2.7" fill="#ce716c" stroke="#b55a5c"/>
<circle cx="347.6" cy="121.3" r="2.7" fill="#b05a7c" stroke="#9a486a"/>
<circle cx="351.4" cy="117.7" r="2.7" fill="#934187" stroke="#813474"/>
<circle cx="324.9" cy="130.4" r="2.7" fill="#e68859" stroke="#ca6c4c"/>
<circle cx="322.8" cy="132.2" r="2.7" fill="#f59b4c" stroke="#d77c41"/>
<circle cx="329.4" cy="107.5" r="2.7" fill="#d37569" stroke="#b95d5a"/>
<circle cx="350.5" cy="119.1" r="2.7" fill="#9a4884" stroke="#873971"/>
<circle cx="321.3" cy="145.4" r="2.7" fill="#f4994d" stroke="#d67a42"/>
<circle cx="325.7" cy="157.4" r="2.7" fill="#e88a58" stroke="#cc6e4b"/>
<circle cx="343.6" cy="125.2" r="2.7" fill="#c06675" stroke="#a85164"/>
<circle cx="327.6" cy="97.5" r="2.7" fill="#d0736b" stroke="#b75c5c"/>
<circle cx="345.3" cy="108.6" r="2.7" fill="#b96178" stroke="#a24d67"/>
<circle cx="367.5" cy="104.4" r="2.7" fill="#be6576" stroke="#a75065"/>
<circle cx="327.8" cy="124.7" r="2.7" fill="#cc706d" stroke="#b3595d"/>
<circle cx="368.2" cy="121.9" r="2.7" fill="#b45d7a" stroke="#9e4a68"/>
<circle cx="330.4" cy="95.1" r="2.7" fill="#da7c63" stroke="#bf6355"/>
<circle cx="327.9" cy="112.6" r="2.7" fill="#cc6f6d" stroke="#b3585d"/>
<circle cx="321.0" cy="132.0" r="2.7" fill="#f79d4a" stroke="#d97d3f"/>
<circle cx="329.3" cy="122.0" r="2.7" fill="#c76b71" stroke="#af5561"/>
<circle cx="323.3" cy="143.8" r="2.7" fill="#ea8d56" stroke="#cd7049"/>
<circle cx="348.0" cy="114.9" r="2.7" fill="#af597c" stroke="#9a476a"/>
<circle cx="342.6" cy="112.4" r="2.7" fill="#d97b64" stroke="#be6256"/>
<circle cx="325.6" cy="87.0" r="2.7" fill="#e98b57" stroke="#cd6f4a"/>
<circle cx="337.5" cy="90.0" r="2.7" fill="#9c4a84" stroke="#893b71"/>
<circle cx="324.5" cy="131.9" r="2.7" fill="#f69c4b" stroke="#d87c40"/>
<circle cx="336.1" cy="144.6" r="2.7" fill="#d97b64" stroke="#be6256"/>
<circle cx="335.0" cy="115.5" r="2.7" fill="#a8537f" stroke="#93426d"/>
<circle cx="345.9" cy="127.9" r="2.7" fill="#bc6377" stroke="#a54f66"/>
<circle cx="352.2" cy="123.5" r="2.7" fill="#8c3d89" stroke="#7b3075"/>
<circle cx="335.8" cy="128.1" r="2.7" fill="#c26874" stroke="#aa5363"/>
<circle cx="322.2" cy="129.7" r="2.7" fill="#eb8e55" stroke="#ce7149"/>
<circle cx="336.0" cy="125.0" r="2.7" fill="#ca6e6f" stroke="#b1585f"/>
<circle cx="349.8" cy="130.5" r="2.7" fill="#9e4b83" stroke="#8b3c70"/>
<circle cx="335.8" cy="88.2" r="2.7" fill="#9e4b83" stroke="#8b3c70"/>
<circle cx="321.4" cy="129.9" r="2.7" fill="#f9a048" stroke="#db803d"/>
<circle cx="325.5" cy="87.0" r="2.7" fill="#f4994d" stroke="#d67a42"/>
<circle cx="323.3" cy="108.0" r="2.7" fill="#ee9152" stroke="#d17446"/>
<circle cx="344.6" cy="113.2" r="2.7" fill="#c16774" stroke="#a95263"/>
<circle cx="321.3" cy="132.1" r="2.7" fill="#f89e49" stroke="#da7e3e"/>
<circle cx="353.5" cy="126.9" r="2.7" fill="#83388a" stroke="#732c76"/>
<circle cx="340.8" cy="130.7" r="2.7" fill="#d37668" stroke="#b95e59"/>
<circle cx="339.0" cy="116.4" r="2.7" fill="#d27569" stroke="#b85d5a"/>
<circle cx="325.0" cy="134.0" r="2.7" fill="#f19450" stroke="#d47644"/>
<circle cx="339.8" cy="138.9" r="2.7" fill="#d77966" stroke="#bd6057"/>
<circle cx="327.1" cy="143.9" r="2.7" fill="#cb6f6e" stroke="#b2585e"/>
<circle cx="320.8" cy="135.7" r="2.7" fill="#f69c4b" stroke="#d87c40"/>
<circle cx="336.1" cy="110.4" r="2.7" fill="#934187" stroke="#813474"/>
<circle cx="320.8" cy="139.5" r="2.7" fill="#f79c4a" stroke="#d97c3f"/>
<circle cx="324.2" cy="96.2" r="2.7" fill="#f59a4c" stroke="#d77b41"/>
<circle cx="329.6" cy="134.0" r="2.7" fill="#ca6e6e" stroke="#b1585e"/>
<circle cx="339.6" cy="132.2" r="2.7" fill="#cd716c" stroke="#b45a5c"/>
<circle cx="340.3" cy="121.9" r="2.7" fill="#d0736b" stroke="#b75c5c"/>
<circle cx="324.9" cy="132.3" r="2.7" fill="#e98b57" stroke="#cd6f4a"/>
<circle cx="324.7" cy="152.4" r="2.7" fill="#f3974e" stroke="#d57843"/>
<circle cx="330.9" cy="93.9" r="2.7" fill="#c86c70" stroke="#b05660"/>
<circle cx="322.8" cy="123.3" r="2.7" fill="#e78a58" stroke="#cb6e4b"/>
<circle cx="336.8" cy="150.0" r="2.7" fill="#b45d7a" stroke="#9e4a68"/>
<circle cx="368.0" cy="100.2" r="2.7" fill="#bb6277" stroke="#a44e66"/>
<circle cx="345.7" cy="137.5" r="2.7" fill="#a9547f" stroke="#94436d"/>
<circle cx="335.7" cy="92.0" r="2.7" fill="#903f88" stroke="#7e3274"/>
<circle cx="345.1" cy="118.8" r="2.7" fill="#ba6277" stroke="#a34e66"/>
<circle cx="324.1" cy="150.6" r="2.7" fill="#f4994d" stroke="#d67a42"/>
<circle cx="325.3" cy="90.8" r="2.7" fill="#f3984e" stroke="#d57943"/>
<circle cx="325.9" cy="90.2" r="2.7" fill="#e68859" stroke="#ca6c4c"/>
<circle cx="340.8" cy="112.8" r="2.7" fill="#d97b64" stroke="#be6256"/>
<circle cx="334.0" cy="89.4" r="2.7" fill="#a65280" stroke="#92416e"/>
<circle cx="338.9" cy="99.0" r="2.7" fill="#db7d62" stroke="#c06454"/>
<circle cx="322.8" cy="142.8" r="2.7" fill="#ec8f54" stroke="#cf7248"/>
<circle cx="334.1" cy="91.5" r="2.7" fill="#974586" stroke="#843773"/>
<circle cx="349.0" cy="107.9" r="2.7" fill="#9a4784" stroke="#873871"/>
<circle cx="340.6" cy="104.9" r="2.7" fill="#db7d62" stroke="#c06454"/>
<circle cx="336.9" cy="116.2" r="2.7" fill="#ac577e" stroke="#97456c"/>
<circle cx="352.6" cy="131.3" r="2.7" fill="#8b3c89" stroke="#7a3075"/>
<circle cx="335.0" cy="101.4" r="2.7" fill="#914088" stroke="#7f3374"/>
<circle cx="325.7" cy="92.4" r="2.7" fill="#ec8f54" stroke="#cf7248"/>
<circle cx="340.8" cy="101.5" r="2.7" fill="#d0736b" stroke="#b75c5c"/>
<circle cx="330.5" cy="115.3" r="2.7" fill="#d37668" stroke="#b95e59"/>
<circle cx="324.8" cy="108.7" r="2.7" fill="#ea8d56" stroke="#cd7049"/>
<circle cx="346.6" cy="127.6" r="2.7" fill="#ae587d" stroke="#99466b"/>
<circle cx="325.2" cy="87.5" r="2.7" fill="#ef9252" stroke="#d27446"/>
<circle cx="329.8" cy="151.9" r="2.7" fill="#db7d63" stroke="#c06455"/>
<circle cx="328.1" cy="141.6" r="2.7" fill="#c46972" stroke="#ac5462"/>
<circle cx="368.4" cy="106.7" r="2.7" fill="#ad577d" stroke="#98456b"/>
<circle cx="329.7" cy="133.8" r="2.7" fill="#d87a64" stroke="#be6156"/>
<circle cx="325.6" cy="138.7" r="2.7" fill="#eb8e55" stroke="#ce7149"/>
<circle cx="328.5" cy="106.9" r="2.7" fill="#ba6178" stroke="#a34d67"/>
<circle cx="325.2" cy="100.6" r="2.7" fill="#eb8e55" stroke="#ce7149"/>
<circle cx="352.3" cy="130.1" r="2.7" fill="#75328c" stroke="#662878"/>
<circle cx="325.6" cy="129.9" r="2.7" fill="#ec8e54" stroke="#cf7148"/>
<circle cx="326.7" cy="103.6" r="2.7" fill="#d1736a" stroke="#b75c5b"/>
<circle cx="334.8" cy="104.8" r="2.7" fill="#ab567e" stroke="#96446c"/>
<circle cx="339.7" cy="143.0" r="2.7" fill="#d67866" stroke="#bc6057"/>
<circle cx="325.0" cy="149.5" r="2.7" fill="#ec8f54" stroke="#cf7248"/>
<circle cx="321.0" cy="126.5" r="2.7" fill="#f2964f" stroke="#d47843"/>
<circle cx="340.6" cy="102.6" r="2.7" fill="#d37569" stroke="#b95d5a"/>
<circle cx="323.0" cy="105.4" r="2.7" fill="#eb8e55" stroke="#ce7149"/>
<circle cx="330.1" cy="106.8" r="2.7" fill="#cf726b" stroke="#b65b5c"/>
<circle cx="320.7" cy="134.8" r="2.7" fill="#f79d4a" stroke="#d97d3f"/>
<circle cx="325.8" cy="144.7" r="2.7" fill="#e98c56" stroke="#cd7049"/>
<circle cx="329.4" cy="109.6" r="2.7" fill="#d67866" stroke="#bc6057"/>
<circle cx="322.4" cy="94.2" r="2.7" fill="#f19550" stroke="#d47744"/>
<circle cx="321.9" cy="111.4" r="2.7" fill="#ef9252" stroke="#d27446"/>
<circle cx="343.9" cy="112.5" r="2.7" fill="#b45d7a" stroke="#9e4a68"/>
<circle cx="351.6" cy="121.1" r="2.7" fill="#903f88" stroke="#7e3274"/>
<circle cx="352.3" cy="125.8" r="2.7" fill="#964486" stroke="#843673"/>
<circle cx="338.0" cy="102.7" r="2.7" fill="#de8060" stroke="#c36652"/>
<circle cx="321.9" cy="108.6" r="2.7" fill="#eb8e55" stroke="#ce7149"/>
<circle cx="346.6" cy="129.0" r="2.7" fill="#b0597c" stroke="#9a476a"/>
<circle cx="325.6" cy="113.7" r="2.7" fill="#f09351" stroke="#d37545"/>
<circle cx="335.4" cy="102.6" r="2.7" fill="#9c4984" stroke="#893a71"/>
<circle cx="324.1" cy="99.5" r="2.7" fill="#f4984d" stroke="#d67942"/>
<circle cx="368.2" cy="91.5" r="2.7" fill="#bb6277" stroke="#a44e66"/>
<circle cx="320.7" cy="137.0" r="2.7" fill="#f4994d" stroke="#d67a42"/>
<circle cx="335.7" cy="128.0" r="2.7" fill="#c86d70" stroke="#b05760"/>
<circle cx="347.5" cy="113.4" r="2.7" fill="#a04c82" stroke="#8c3c6f"/>
<circle cx="324.1" cy="93.7" r="2.7" fill="#f3974e" stroke="#d57843"/>
<circle cx="367.5" cy="110.6" r="2.7" fill="#b45c7a" stroke="#9e4968"/>
<circle cx="340.1" cy="139.4" r="2.7" fill="#d37569" stroke="#b95d5a"/>
<circle cx="326.2" cy="94.9" r="2.7" fill="#e78a58" stroke="#cb6e4b"/>
<circle cx="325.9" cy="92.4" r="2.7" fill="#e5875a" stroke="#c96c4d"/>
<circle cx="342.1" cy="113.0" r="2.7" fill="#c16774" stroke="#a95263"/>
<circle cx="332.5" cy="119.1" r="2.7" fill="#de805f" stroke="#c36651"/>
<circle cx="334.4" cy="114.6" r="2.7" fill="#ca6e6e" stroke="#b1585e"/>
<circle cx="324.6" cy="124.7" r="2.7" fill="#f59b4c" stroke="#d77c41"/>
<circle cx="345.8" cy="99.0" r="2.7" fill="#ad587d" stroke="#98466b"/>
<circle cx="323.0" cy="112.7" r="2.7" fill="#f79d4a" stroke="#d97d3f"/>
<circle cx="368.3" cy="120.1" r="2.7" fill="#b55d7a" stroke="#9f4a68"/>
<circle cx="368.7" cy="114.5" r="2.7" fill="#b45d7a" stroke="#9e4a68"/>
<circle cx="346.6" cy="117.0" r="2.7" fill="#cc6f6d" stroke="#b3585d"/>
<circle cx="325.9" cy="146.3" r="2.7" fill="#ef9252" stroke="#d27446"/>
<circle cx="320.9" cy="143.5" r="2.7" fill="#f69c4b" stroke="#d87c40"/>
<circle cx="350.5" cy="105.7" r="2.7" fill="#8f3e88" stroke="#7d3174"/>
<circle cx="324.8" cy="96.4" r="2.7" fill="#f4984d" stroke="#d67942"/>
<circle cx="329.5" cy="147.6" r="2.7" fill="#d0726b" stroke="#b75b5c"/>
<circle cx="330.2" cy="120.7" r="2.7" fill="#cc706d" stroke="#b3595d"/>
<circle cx="323.8" cy="99.6" r="2.7" fill="#ee9153" stroke="#d17447"/>
<circle cx="351.9" cy="123.9" r="2.7" fill="#924087" stroke="#803374"/>
<circle cx="332.7" cy="165.9" r="2.7" fill="#a9547f" stroke="#94436d"/>
<circle cx="324.8" cy="106.2" r="2.7" fill="#34188f" stroke="#2d137a"/>
<circle cx="336.6" cy="88.8" r="2.7" fill="#984685" stroke="#853872"/>
<circle cx="346.3" cy="106.4" r="2.7" fill="#ab567e" stroke="#96446c"/>
<circle cx="322.7" cy="139.5" r="2.7" fill="#f19450" stroke="#d47644"/>
<circle cx="346.7" cy="134.8" r="2.7" fill="#aa557f" stroke="#95446d"/>
<circle cx="338.0" cy="138.7" r="2.7" fill="#dd7f60" stroke="#c26552"/>
<circle cx="325.8" cy="151.9" r="2.7" fill="#ec8f54" stroke="#cf7248"/>
<circle cx="322.5" cy="154.7" r="2.7" fill="#f2964f" stroke="#d47843"/>
<circle cx="368.2" cy="131.0" r="2.7" fill="#bb6277" stroke="#a44e66"/>
<circle cx="340.5" cy="122.0" r="2.7" fill="#d67866" stroke="#bc6057"/>
<circle cx="331.3" cy="105.2" r="2.7" fill="#d57768" stroke="#bb5f59"/>
<circle cx="352.1" cy="129.5" r="2.7" fill="#954386" stroke="#833573"/>
<circle cx="324.7" cy="110.9" r="2.7" fill="#35188f" stroke="#2e137a"/>
<circle cx="330.2" cy="136.6" r="2.7" fill="#cf726b" stroke="#b65b5c"/>
<circle cx="340.4" cy="136.7" r="2.7" fill="#dc7e61" stroke="#c16453"/>
<circle cx="321.3" cy="103.1" r="2.7" fill="#f59a4c" stroke="#d77b41"/>
<circle cx="320.2" cy="117.1" r="2.7" fill="#f4984d" stroke="#d67942"/>
<circle cx="331.7" cy="156.3" r="2.7" fill="#b45d7a" stroke="#9e4a68"/>
<circle cx="332.2" cy="125.5" r="2.7" fill="#d2746a" stroke="#b85c5b"/>
<circle cx="322.9" cy="139.5" r="2.7" fill="#f2964e" stroke="#d47843"/>
<circle cx="351.2" cy="111.5" r="2.7" fill="#9a4784" stroke="#873871"/>
<circle cx="331.0" cy="112.7" r="2.7" fill="#cb6f6e" stroke="#b2585e"/>
<circle cx="328.8" cy="112.0" r="2.7" fill="#d37569" stroke="#b95d5a"/>
<circle cx="345.1" cy="117.5" r="2.7" fill="#b96078" stroke="#a24c67"/>
<circle cx="325.3" cy="89.9" r="2.7" fill="#f4994d" stroke="#d67a42"/>
<circle cx="346.8" cy="99.2" r="2.7" fill="#b75f79" stroke="#a14c68"/>
<circle cx="320.2" cy="150.2" r="2.7" fill="#f59b4c" stroke="#d77c41"/>
<circle cx="330.2" cy="99.9" r="2.7" fill="#cb6f6e" stroke="#b2585e"/>
<circle cx="322.5" cy="113.4" r="2.7" fill="#f79d4a" stroke="#d97d3f"/>
<circle cx="326.1" cy="133.2" r="2.7" fill="#ea8c56" stroke="#cd7049"/>
<circle cx="321.9" cy="157.4" r="2.7" fill="#f69b4b" stroke="#d87c40"/>
<circle cx="331.5" cy="113.1" r="2.7" fill="#ab567e" stroke="#96446c"/>
<circle cx="321.0" cy="102.5" r="2.7" fill="#f4994d" stroke="#d67a42"/>
<circle cx="329.7" cy="88.8" r="2.7" fill="#d57768" stroke="#bb5f59"/>
<circle cx="327.0" cy="106.7" r="2.7" fill="#cf726b" stroke="#b65b5c"/>
<circle cx="350.3" cy="108.4" r="2.7" fill="#994785" stroke="#863872"/>
<circle cx="321.0" cy="148.9" r="2.7" fill="#f4984d" stroke="#d67942"/>
<circle cx="325.4" cy="147.9" r="2.7" fill="#f2964f" stroke="#d47843"/>
<circle cx="332.3" cy="125.3" r="2.7" fill="#c86c70" stroke="#b05660"/>
<circle cx="326.6" cy="139.5" r="2.7" fill="#cd706d" stroke="#b4595d"/>
<circle cx="324.8" cy="108.4" r="2.7" fill="#27148c" stroke="#221078"/>
<circle cx="351.2" cy="125.4" r="2.7" fill="#954386" stroke="#833573"/>
<circle cx="321.2" cy="120.2" r="2.7" fill="#f59b4c" stroke="#d77c41"/>
<circle cx="329.2" cy="124.8" r="2.7" fill="#ce716c" stroke="#b55a5c"/>
<circle cx="323.9" cy="123.4" r="2.7" fill="#ed9153" stroke="#d07447"/>
<circle cx="339.3" cy="129.7" r="2.7" fill="#db7d62" stroke="#c06454"/>
<circle cx="349.5" cy="143.2" r="2.7" fill="#903f88" stroke="#7e3274"/>
<circle cx="334.5" cy="141.7" r="2.7" fill="#c96e6f" stroke="#b0585f"/>
<circle cx="368.1" cy="122.4" r="2.7" fill="#b25b7b" stroke="#9c4869"/>
<circle cx="325.2" cy="146.1" r="2.7" fill="#f09450" stroke="#d37644"/>
<circle cx="329.0" cy="95.9" r="2.7" fill="#d0736a" stroke="#b75c5b"/>
<circle cx="339.8" cy="138.2" r="2.7" fill="#da7c63" stroke="#bf6355"/>
<circle cx="344.1" cy="112.2" r="2.7" fill="#ad577d" stroke="#98456b"/>
<circle cx="347.0" cy="103.7" r="2.7" fill="#ba6277" stroke="#a34e66"/>
<circle cx="320.4" cy="120.0" r="2.7" fill="#f59a4c" stroke="#d77b41"/>
<circle cx="332.5" cy="95.5" r="2.7" fill="#924187" stroke="#803474"/>
<circle cx="321.0" cy="99.2" r="2.7" fill="#f3984e" stroke="#d57943"/>
<circle cx="367.9" cy="110.2" r="2.7" fill="#c16775" stroke="#a95264"/>
<circle cx="325.8" cy="87.3" r="2.7" fill="#f19550" stroke="#d47744"/>
<circle cx="320.5" cy="150.9" r="2.7" fill="#f69b4b" stroke="#d87c40"/>
<circle cx="339.6" cy="137.4" r="2.7" fill="#d87a64" stroke="#be6156"/>
<circle cx="351.2" cy="118.4" r="2.7" fill="#9a4785" stroke="#873872"/>
<circle cx="346.2" cy="111.0" r="2.7" fill="#c46973" stroke="#ac5462"/>
<circle cx="348.4" cy="112.5" r="2.7" fill="#8f3f88" stroke="#7d3274"/>
<circle cx="341.3" cy="139.6" r="2.7" fill="#d67866" stroke="#bc6057"/>
<circle cx="322.4" cy="142.7" r="2.7" fill="#f2964f" stroke="#d47843"/>
<circle cx="325.1" cy="102.4" r="2.7" fill="#eb8e55" stroke="#ce7149"/>
<circle cx="322.3" cy="115.3" r="2.7" fill="#f1954f" stroke="#d47743"/>
<circle cx="328.9" cy="105.1" r="2.7" fill="#ce716c" stroke="#b55a5c"/>
<circle cx="318.2" cy="138.4" r="2.7" fill="#f4984d" stroke="#d67942"/>
<circle cx="321.9" cy="131.8" r="2.7" fill="#f89e49" stroke="#da7e3e"/>
<circle cx="327.9" cy="129.6" r="2.7" fill="#d87a65" stroke="#be6156"/>
<circle cx="317.7" cy="132.2" r="2.7" fill="#f19450" stroke="#d47644"/>
<circle cx="321.7" cy="119.0" r="2.7" fill="#f79d4a" stroke="#d97d3f"/>
<circle cx="329.7" cy="144.0" r="2.7" fill="#cb6f6e" stroke="#b2585e"/>
<circle cx="324.4" cy="130.7" r="2.7" fill="#ec8f54" stroke="#cf7248"/>
<circle cx="322.9" cy="122.0" r="2.7" fill="#f19550" stroke="#d47744"/>
<circle cx="344.9" cy="111.9" r="2.7" fill="#bf6575" stroke="#a85064"/>
<circle cx="344.8" cy="125.3" r="2.7" fill="#a75280" stroke="#92416e"/>
<circle cx="322.6" cy="144.9" r="2.7" fill="#f2964f" stroke="#d47843"/>
<circle cx="323.9" cy="146.8" r="2.7" fill="#f09351" stroke="#d37545"/>
<circle cx="339.8" cy="144.4" r="2.7" fill="#d47668" stroke="#ba5e59"/>
<circle cx="352.5" cy="126.7" r="2.7" fill="#964486" stroke="#843673"/>
<circle cx="322.4" cy="148.1" r="2.7" fill="#f4994d" stroke="#d67a42"/>
<circle cx="323.2" cy="115.4" r="2.7" fill="#ed9053" stroke="#d07347"/>
<circle cx="320.4" cy="145.7" r="2.7" fill="#f59a4c" stroke="#d77b41"/>
<circle cx="350.0" cy="101.0" r="2.7" fill="#77328c" stroke="#682878"/>
<circle cx="324.8" cy="117.9" r="2.7" fill="#f2964f" stroke="#d47843"/>
<circle cx="323.2" cy="97.4" r="2.7" fill="#ef9251" stroke="#d27445"/>
<circle cx="326.0" cy="104.5" r="2.7" fill="#ea8c56" stroke="#cd7049"/>
<circle cx="323.8" cy="113.9" r="2.7" fill="#3a1a90" stroke="#33147b"/>
<circle cx="325.7" cy="153.8" r="2.7" fill="#f09351" stroke="#d37545"/>
<circle cx="321.3" cy="164.4" r="2.7" fill="#f09450" stroke="#d37644"/>
<circle cx="322.5" cy="97.3" r="2.7" fill="#f2964f" stroke="#d47843"/>
<circle cx="325.7" cy="136.0" r="2.7" fill="#ee9153" stroke="#d17447"/>
<circle cx="331.3" cy="148.8" r="2.7" fill="#d47668" stroke="#ba5e59"/>
<circle cx="349.9" cy="111.6" r="2.7" fill="#9a4784" stroke="#873871"/>
<circle cx="334.3" cy="97.7" r="2.7" fill="#b45d7a" stroke="#9e4a68"/>
<circle cx="340.5" cy="144.5" r="2.7" fill="#dc7e61" stroke="#c16453"/>
<circle cx="326.7" cy="133.3" r="2.7" fill="#d0736b" stroke="#b75c5c"/>
<circle cx="324.5" cy="125.5" r="2.7" fill="#ec8e54" stroke="#cf7148"/>
<circle cx="326.0" cy="90.5" r="2.7" fill="#e78a58" stroke="#cb6e4b"/>
<circle cx="338.6" cy="135.2" r="2.7" fill="#cd706d" stroke="#b4595d"/>
<circle cx="324.7" cy="127.9" r="2.7" fill="#f19550" stroke="#d47744"/>
<circle cx="321.1" cy="151.4" r="2.7" fill="#f5994c" stroke="#d77a41"/>
<circle cx="323.9" cy="98.4" r="2.7" fill="#ef9251" stroke="#d27445"/>
<circle cx="343.1" cy="129.4" r="2.7" fill="#e5875a" stroke="#c96c4d"/>
<circle cx="341.8" cy="106.6" r="2.7" fill="#d67866" stroke="#bc6057"/>
<circle cx="368.8" cy="123.4" r="2.7" fill="#b75f79" stroke="#a14c68"/>
<circle cx="334.8" cy="112.8" r="2.7" fill="#b65e79" stroke="#a04b68"/>
<circle cx="332.1" cy="115.4" r="2.7" fill="#994785" stroke="#863872"/>
<circle cx="343.7" cy="118.2" r="2.7" fill="#d87a64" stroke="#be6156"/>
<circle cx="321.6" cy="96.6" r="2.7" fill="#f09351" stroke="#d37545"/>
<circle cx="324.4" cy="116.7" r="2.7" fill="#f19550" stroke="#d47744"/>
<circle cx="336.2" cy="98.7" r="2.7" fill="#b25b7b" stroke="#9c4869"/>
<circle cx="341.2" cy="118.9" r="2.7" fill="#d37568" stroke="#b95d59"/>
<circle cx="324.0" cy="104.8" r="2.7" fill="#e88b57" stroke="#cc6f4a"/>
<circle cx="325.4" cy="152.0" r="2.7" fill="#e98b57" stroke="#cd6f4a"/>
<circle cx="328.1" cy="127.4" r="2.7" fill="#c86d70" stroke="#b05760"/>
<circle cx="350.4" cy="105.7" r="2.7" fill="#893b89" stroke="#782f75"/>
<circle cx="340.2" cy="131.4" r="2.7" fill="#e98b57" stroke="#cd6f4a"/>
<circle cx="325.9" cy="90.8" r="2.7" fill="#f4984d" stroke="#d67942"/>
<circle cx="327.6" cy="131.9" r="2.7" fill="#d37569" stroke="#b95d5a"/>
<circle cx="349.9" cy="113.5" r="2.7" fill="#9c4984" stroke="#893a71"/>
<circle cx="334.5" cy="87.0" r="2.7" fill="#ac577e" stroke="#97456c"/>
<circle cx="325.0" cy="114.2" r="2.7" fill="#f19550" stroke="#d47744"/>
<circle cx="319.6" cy="127.7" r="2.7" fill="#f79d4a" stroke="#d97d3f"/>
<circle cx="330.2" cy="150.6" r="2.7" fill="#cc6f6d" stroke="#b3585d"/>
<circle cx="325.4" cy="104.3" r="2.7" fill="#eb8e55" stroke="#ce7149"/>
<circle cx="345.8" cy="101.9" r="2.7" fill="#bd6376" stroke="#a64f65"/>
<circle cx="324.9" cy="100.4" r="2.7" fill="#f59a4c" stroke="#d77b41"/>
<circle cx="325.6" cy="145.6" r="2.7" fill="#f09351" stroke="#d37545"/>
<circle cx="346.3" cy="110.7" r="2.7" fill="#b25b7b" stroke="#9c4869"/>
<circle cx="325.5" cy="95.4" r="2.7" fill="#eb8e55" stroke="#ce7149"/>
<circle cx="325.8" cy="103.5" r="2.7" fill="#ef9251" stroke="#d27445"/>
<circle cx="336.8" cy="130.0" r="2.7" fill="#d1746a" stroke="#b75c5b"/>
<circle cx="331.7" cy="161.4" r="2.7" fill="#a9547f" stroke="#94436d"/>
<circle cx="325.6" cy="134.8" r="2.7" fill="#eb8e55" stroke="#ce7149"/>
<circle cx="325.7" cy="91.9" r="2.7" fill="#ef9252" stroke="#d27446"/>
<circle cx="328.5" cy="99.7" r="2.7" fill="#d27569" stroke="#b85d5a"/>
<circle cx="327.9" cy="125.5" r="2.7" fill="#d37569" stroke="#b95d5a"/>
<circle cx="325.8" cy="135.8" r="2.7" fill="#f2964f" stroke="#d47843"/>
<circle cx="319.6" cy="120.1" r="2.7" fill="#f69c4b" stroke="#d87c40"/>
<circle cx="346.7" cy="125.0" r="2.7" fill="#a55180" stroke="#91406e"/>
<circle cx="325.8" cy="89.7" r="2.7" fill="#ee9252" stroke="#d17446"/>
<circle cx="334.7" cy="116.0" r="2.7" fill="#9f4c83" stroke="#8b3c70"/>
<circle cx="326.0" cy="90.2" r="2.7" fill="#e4865b" stroke="#c86b4e"/>
<circle cx="336.2" cy="133.6" r="2.7" fill="#c46973" stroke="#ac5462"/>
<circle cx="336.2" cy="128.6" r="2.7" fill="#ca6e6e" stroke="#b1585e"/>
<circle cx="337.0" cy="134.6" r="2.7" fill="#cb6f6e" stroke="#b2585e"/>
<circle cx="335.5" cy="122.3" r="2.7" fill="#b75f79" stroke="#a14c68"/>
<circle cx="338.1" cy="135.6" r="2.7" fill="#dc7e62" stroke="#c16454"/>
<circle cx="321.4" cy="152.4" r="2.7" fill="#f2964f" stroke="#d47843"/>
<circle cx="368.4" cy="101.9" r="2.7" fill="#b25b7b" stroke="#9c4869"/>
<circle cx="321.4" cy="127.6" r="2.7" fill="#f2964f" stroke="#d47843"/>
<circle cx="350.2" cy="108.1" r="2.7" fill="#70308d" stroke="#622679"/>
<circle cx="367.9" cy="119.0" r="2.7" fill="#b45d7a" stroke="#9e4a68"/>
<circle cx="333.3" cy="98.1" r="2.7" fill="#a55180" stroke="#91406e"/>
<circle cx="325.6" cy="99.6" r="2.7" fill="#ee9252" stroke="#d17446"/>
<circle cx="324.8" cy="113.8" r="2.7" fill="#e88b57" stroke="#cc6f4a"/>
<circle cx="340.0" cy="139.0" r="2.7" fill="#cc706d" stroke="#b3595d"/>
<circle cx="350.7" cy="131.0" r="2.7" fill="#954386" stroke="#833573"/>
<circle cx="323.5" cy="91.8" r="2.7" fill="#f3974e" stroke="#d57843"/>
<circle cx="320.8" cy="104.8" r="2.7" fill="#f69c4b" stroke="#d87c40"/>
<circle cx="325.0" cy="114.3" r="2.7" fill="#36198f" stroke="#2f147a"/>
<circle cx="346.5" cy="111.6" r="2.7" fill="#be6576" stroke="#a75065"/>
<circle cx="338.4" cy="99.9" r="2.7" fill="#da7c63" stroke="#bf6355"/>
<circle cx="368.7" cy="109.4" r="2.7" fill="#b96078" stroke="#a24c67"/>
<circle cx="324.8" cy="101.3" r="2.7" fill="#f3984e" stroke="#d57943"/>
<circle cx="368.3" cy="102.3" r="2.7" fill="#c26874" stroke="#aa5363"/>
<circle cx="324.4" cy="95.2" r="2.7" fill="#f4984d" stroke="#d67942"/>
<circle cx="332.9" cy="120.6" r="2.7" fill="#c36873" stroke="#ab5362"/>
<circle cx="341.6" cy="138.8" r="2.7" fill="#d27569" stroke="#b85d5a"/>
<circle cx="345.5" cy="132.0" r="2.7" fill="#b75f79" stroke="#a14c68"/>
<circle cx="340.3" cy="125.1" r="2.7" fill="#d87a65" stroke="#be6156"/>
<circle cx="325.6" cy="86.1" r="2.7" fill="#f09451" stroke="#d37645"/>
<circle cx="326.0" cy="86.2" r="2.7" fill="#ed9053" stroke="#d07347"/>
<circle cx="349.0" cy="108.9" r="2.7" fill="#934287" stroke="#813474"/>
<circle cx="323.1" cy="146.4" r="2.7" fill="#f4984d" stroke="#d67942"/>
<circle cx="317.4" cy="122.0" r="2.7" fill="#f69c4b" stroke="#d87c40"/>
<circle cx="334.5" cy="130.5" r="2.7" fill="#c26873" stroke="#aa5362"/>
<circle cx="325.8" cy="88.9" r="2.7" fill="#e88b57" stroke="#cc6f4a"/>
<circle cx="324.5" cy="88.9" r="2.7" fill="#ed9053" stroke="#d07347"/>
<circle cx="328.3" cy="142.4" r="2.7" fill="#c56a72" stroke="#ad5462"/>
<circle cx="334.6" cy="115.6" r="2.7" fill="#a34f81" stroke="#8f3f6e"/>
<circle cx="338.4" cy="143.2" r="2.7" fill="#d1746a" stroke="#b75c5b"/>
<circle cx="323.7" cy="143.6" r="2.7" fill="#f19450" stroke="#d47644"/>
<circle cx="333.6" cy="119.0" r="2.7" fill="#d1736a" stroke="#b75c5b"/>
<circle cx="334.3" cy="131.8" r="2.7" fill="#c76c70" stroke="#af5660"/>
<circle cx="320.8" cy="151.5" r="2.7" fill="#f59b4c" stroke="#d77c41"/>
<circle cx="355.8" cy="111.4" r="2.7" fill="#8c3d89" stroke="#7b3075"/>
<circle cx="333.2" cy="115.7" r="2.7" fill="#9c4984" stroke="#893a71"/>
<circle cx="323.4" cy="120.2" r="2.7" fill="#f59a4c" stroke="#d77b41"/>
<circle cx="335.7" cy="121.9" r="2.7" fill="#a14d82" stroke="#8d3d6f"/>
<circle cx="325.9" cy="86.3" r="2.7" fill="#e4865b" stroke="#c86b4e"/>
<circle cx="349.3" cy="118.2" r="2.7" fill="#8d3e88" stroke="#7c3174"/>
<circle cx="319.6" cy="139.3" r="2.7" fill="#fba446" stroke="#dc833c"/>
<circle cx="325.7" cy="96.2" r="2.7" fill="#f19450" stroke="#d47644"/>
<circle cx="346.0" cy="96.0" r="2.7" fill="#a9547f" stroke="#94436d"/>
<circle cx="342.6" cy="100.9" r="2.7" fill="#d77966" stroke="#bd6057"/>
<circle cx="352.5" cy="121.2" r="2.7" fill="#934287" stroke="#813474"/>
<circle cx="322.2" cy="156.1" r="2.7" fill="#f59b4c" stroke="#d77c41"/>
<circle cx="351.4" cy="117.8" r="2.7" fill="#a44f81" stroke="#903f6e"/>
<circle cx="326.1" cy="117.8" r="2.7" fill="#e88a57" stroke="#cc6e4a"/>
<circle cx="333.7" cy="127.8" r="2.7" fill="#cb6e6e" stroke="#b2585e"/>
<circle cx="327.1" cy="107.6" r="2.7" fill="#cb6e6e" stroke="#b2585e"/>
<circle cx="328.4" cy="140.2" r="2.7" fill="#ca6e6f" stroke="#b1585f"/>
<circle cx="368.0" cy="101.0" r="2.7" fill="#bc6377" stroke="#a54f66"/>
<circle cx="353.0" cy="134.7" r="2.7" fill="#8b3c89" stroke="#7a3075"/>
<circle cx="345.9" cy="107.7" r="2.7" fill="#ab557e" stroke="#96446c"/>
<circle cx="347.1" cy="129.8" r="2.7" fill="#b55d7a" stroke="#9f4a68"/>
<circle cx="340.3" cy="120.5" r="2.7" fill="#d47668" stroke="#ba5e59"/>
<circle cx="325.9" cy="102.1" r="2.7" fill="#e68859" stroke="#ca6c4c"/>
<circle cx="350.9" cy="133.3" r="2.7" fill="#a45081" stroke="#90406e"/>
<circle cx="328.3" cy="116.9" r="2.7" fill="#d67866" stroke="#bc6057"/>
<circle cx="323.4" cy="116.8" r="2.7" fill="#ef9351" stroke="#d27545"/>
<circle cx="341.9" cy="141.0" r="2.7" fill="#df815f" stroke="#c46751"/>
<circle cx="322.6" cy="149.7" r="2.7" fill="#f4994d" stroke="#d67a42"/>
<circle cx="348.6" cy="106.3" r="2.7" fill="#8e3e88" stroke="#7c3174"/>
<circle cx="323.4" cy="120.2" r="2.7" fill="#f4994d" stroke="#d67a42"/>
<circle cx="322.9" cy="108.0" r="2.7" fill="#f3974e" stroke="#d57843"/>
<circle cx="325.2" cy="94.0" r="2.7" fill="#f2964f" stroke="#d47843"/>
<circle cx="341.8" cy="131.0" r="2.7" fill="#e0825e" stroke="#c56850"/>
<circle cx="339.0" cy="129.3" r="2.7" fill="#cf726c" stroke="#b65b5c"/>
<circle cx="329.0" cy="126.0" r="2.7" fill="#d57767" stroke="#bb5f58"/>
<circle cx="368.0" cy="99.5" r="2.7" fill="#b15a7b" stroke="#9b4869"/>
<circle cx="325.4" cy="148.1" r="2.7" fill="#ef9252" stroke="#d27446"/>
<circle cx="324.7" cy="134.3" r="2.7" fill="#e88a58" stroke="#cc6e4b"/>
<circle cx="325.4" cy="86.5" r="2.7" fill="#e88a57" stroke="#cc6e4a"/>
<circle cx="368.5" cy="102.4" r="2.7" fill="#c26774" stroke="#aa5263"/>
<circle cx="351.4" cy="106.8" r="2.7" fill="#984685" stroke="#853872"/>
<circle cx="324.4" cy="154.7" r="2.7" fill="#ea8d55" stroke="#cd7049"/>
<circle cx="323.8" cy="152.3" r="2.7" fill="#ec8f54" stroke="#cf7248"/>
<circle cx="324.3" cy="118.1" r="2.7" fill="#421c91" stroke="#3a167c"/>
<circle cx="367.4" cy="120.2" r="2.7" fill="#b65f79" stroke="#a04c68"/>
<circle cx="330.4" cy="145.5" r="2.7" fill="#d77966" stroke="#bd6057"/>
<circle cx="335.0" cy="142.3" r="2.7" fill="#cf726c" stroke="#b65b5c"/>
<circle cx="324.1" cy="112.5" r="2.7" fill="#f2964f" stroke="#d47843"/>
<circle cx="320.1" cy="141.7" r="2.7" fill="#f89f49" stroke="#da7f3e"/>
<circle cx="324.5" cy="154.6" r="2.7" fill="#ed9153" stroke="#d07447"/>
<circle cx="324.5" cy="101.5" r="2.7" fill="#e78959" stroke="#cb6d4c"/>
<circle cx="353.1" cy="145.5" r="2.7" fill="#903f88" stroke="#7e3274"/>
<circle cx="334.1" cy="101.4" r="2.7" fill="#b15a7c" stroke="#9b486a"/>
<circle cx="330.4" cy="149.4" r="2.7" fill="#ce726c" stroke="#b55b5c"/>
<circle cx="325.0" cy="99.2" r="2.7" fill="#f1954f" stroke="#d47743"/>
<circle cx="323.6" cy="116.8" r="2.7" fill="#ed9053" stroke="#d07347"/>
<circle cx="341.2" cy="132.5" r="2.7" fill="#dc7e61" stroke="#c16453"/>
<circle cx="324.3" cy="109.8" r="2.7" fill="#2d168d" stroke="#271179"/>
<circle cx="323.0" cy="142.9" r="2.7" fill="#eb8d55" stroke="#ce7049"/>
<circle cx="335.0" cy="117.0" r="2.7" fill="#c86c70" stroke="#b05660"/>
<circle cx="321.0" cy="122.8" r="2.7" fill="#fca545" stroke="#dd843b"/>
<circle cx="329.5" cy="115.8" r="2.7" fill="#c86d70" stroke="#b05760"/>
<circle cx="323.8" cy="113.1" r="2.7" fill="#ee9152" stroke="#d17446"/>
<circle cx="325.8" cy="90.3" r="2.7" fill="#e78958" stroke="#cb6d4b"/>
<circle cx="339.9" cy="128.4" r="2.7" fill="#d87a65" stroke="#be6156"/>
<circle cx="328.9" cy="146.9" r="2.7" fill="#d47668" stroke="#ba5e59"/>
<circle cx="324.7" cy="143.4" r="2.7" fill="#ef9351" stroke="#d27545"/>
<circle cx="342.3" cy="127.7" r="2.7" fill="#db7d62" stroke="#c06454"/>
<circle cx="321.8" cy="112.9" r="2.7" fill="#ed9053" stroke="#d07347"/>
<circle cx="337.5" cy="126.4" r="2.7" fill="#d27569" stroke="#b85d5a"/>
<circle cx="325.4" cy="126.7" r="2.7" fill="#f59b4c" stroke="#d77c41"/>
<circle cx="336.1" cy="128.9" r="2.7" fill="#c96e6f" stroke="#b0585f"/>
<circle cx="347.5" cy="99.9" r="2.7" fill="#b15a7b" stroke="#9b4869"/>
<circle cx="342.6" cy="108.5" r="2.7" fill="#de8060" stroke="#c36652"/>
<circle cx="368.1" cy="100.5" r="2.7" fill="#be6576" stroke="#a75065"/>
<circle cx="335.2" cy="114.0" r="2.7" fill="#ad577d" stroke="#98456b"/>
<circle cx="326.0" cy="152.8" r="2.7" fill="#ea8c56" stroke="#cd7049"/>
<circle cx="325.4" cy="136.7" r="2.7" fill="#ee9152" stroke="#d17446"/>
<circle cx="325.8" cy="135.3" r="2.7" fill="#ea8d56" stroke="#cd7049"/>
<circle cx="329.1" cy="96.2" r="2.7" fill="#c36873" stroke="#ab5362"/>
<circle cx="326.6" cy="127.2" r="2.7" fill="#d47668" stroke="#ba5e59"/>
<circle cx="368.1" cy="115.4" r="2.7" fill="#bd6476" stroke="#a65065"/>
<circle cx="330.7" cy="130.8" r="2.7" fill="#da7c63" stroke="#bf6355"/>
<circle cx="323.2" cy="92.1" r="2.7" fill="#ef9252" stroke="#d27446"/>
<circle cx="352.5" cy="127.1" r="2.7" fill="#8e3e88" stroke="#7c3174"/>
<circle cx="325.9" cy="141.1" r="2.7" fill="#eb8e55" stroke="#ce7149"/>
<circle cx="320.5" cy="102.2" r="2.7" fill="#f69c4b" stroke="#d87c40"/>
<circle cx="351.4" cy="123.7" r="2.7" fill="#8f3e88" stroke="#7d3174"/>
<circle cx="330.3" cy="117.5" r="2.7" fill="#c66b71" stroke="#ae5561"/>
<circle cx="346.3" cy="103.6" r="2.7" fill="#b35c7b" stroke="#9d4969"/>
<circle cx="332.4" cy="141.9" r="2.7" fill="#cb6f6e" stroke="#b2585e"/>
<circle cx="334.7" cy="135.0" r="2.7" fill="#c96d6f" stroke="#b0575f"/>
<circle cx="324.8" cy="110.5" r="2.7" fill="#ed9053" stroke="#d07347"/>
<circle cx="323.2" cy="156.5" r="2.7" fill="#eb8e55" stroke="#ce7149"/>
<circle cx="325.4" cy="124.6" r="2.7" fill="#d27469" stroke="#b85c5a"/>
<circle cx="323.6" cy="146.1" r="2.7" fill="#f2964f" stroke="#d47843"/>
<circle cx="334.8" cy="111.1" r="2.7" fill="#8f3e88" stroke="#7d3174"/>
<circle cx="327.2" cy="131.3" r="2.7" fill="#c26873" stroke="#aa5362"/>
<circle cx="326.0" cy="102.5" r="2.7" fill="#f09351" stroke="#d37545"/>
<circle cx="324.2" cy="98.2" r="2.7" fill="#f2964e" stroke="#d47843"/>
<circle cx="350.6" cy="119.1" r="2.7" fill="#83388a" stroke="#732c76"/>
<circle cx="320.5" cy="106.4" r="2.7" fill="#f69c4b" stroke="#d87c40"/>
<circle cx="331.2" cy="127.7" r="2.7" fill="#d47668" stroke="#ba5e59"/>
<circle cx="329.1" cy="102.2" r="2.7" fill="#cc706d" stroke="#b3595d"/>
<circle cx="345.0" cy="93.5" r="2.7" fill="#b45d7a" stroke="#9e4a68"/>
<circle cx="320.8" cy="109.9" r="2.7" fill="#ef9252" stroke="#d27446"/>
<circle cx="334.8" cy="99.8" r="2.7" fill="#a04d82" stroke="#8c3d6f"/>
<circle cx="323.6" cy="101.4" r="2.7" fill="#f2954f" stroke="#d47743"/>
<circle cx="331.8" cy="90.7" r="2.7" fill="#d27569" stroke="#b85d5a"/>
<circle cx="335.7" cy="132.9" r="2.7" fill="#c86d70" stroke="#b05760"/>
<circle cx="321.2" cy="97.1" r="2.7" fill="#f69b4b" stroke="#d87c40"/>
<circle cx="324.4" cy="113.5" r="2.7" fill="#eb8e55" stroke="#ce7149"/>
<circle cx="335.2" cy="136.4" r="2.7" fill="#d1736a" stroke="#b75c5b"/>
<circle cx="325.6" cy="145.3" r="2.7" fill="#f09351" stroke="#d37545"/>
<circle cx="321.7" cy="99.3" r="2.7" fill="#f4994d" stroke="#d67a42"/>
<circle cx="323.6" cy="138.1" r="2.7" fill="#eb8e55" stroke="#ce7149"/>
<circle cx="350.0" cy="129.8" r="2.7" fill="#aa557e" stroke="#95446c"/>
<circle cx="367.6" cy="120.2" r="2.7" fill="#b55d7a" stroke="#9f4a68"/>
<circle cx="325.9" cy="114.9" r="2.7" fill="#f19450" stroke="#d47644"/>
<circle cx="335.4" cy="93.6" r="2.7" fill="#a34f81" stroke="#8f3f6e"/>
<circle cx="322.8" cy="109.3" r="2.7" fill="#f4994d" stroke="#d67a42"/>
<circle cx="368.7" cy="111.6" r="2.7" fill="#b75f79" stroke="#a14c68"/>
<circle cx="340.6" cy="107.6" r="2.7" fill="#db7d62" stroke="#c06454"/>
<circle cx="352.0" cy="117.1" r="2.7" fill="#944287" stroke="#823474"/>
<circle cx="326.1" cy="141.6" r="2.7" fill="#e78958" stroke="#cb6d4b"/>
<circle cx="326.1" cy="86.5" r="2.7" fill="#ee9152" stroke="#d17446"/>
<circle cx="321.2" cy="103.4" r="2.7" fill="#f4984d" stroke="#d67942"/>
<circle cx="336.1" cy="100.7" r="2.7" fill="#9a4784" stroke="#873871"/>
<circle cx="368.5" cy="113.3" r="2.7" fill="#be6476" stroke="#a75065"/>
<circle cx="346.5" cy="123.8" r="2.7" fill="#b55d7a" stroke="#9f4a68"/>
<circle cx="324.8" cy="89.6" r="2.7" fill="#f2954f" stroke="#d47743"/>
<circle cx="324.4" cy="93.4" r="2.7" fill="#e78a58" stroke="#cb6e4b"/>
<circle cx="332.7" cy="125.3" r="2.7" fill="#cc706d" stroke="#b3595d"/>
<circle cx="327.4" cy="118.0" r="2.7" fill="#d57767" stroke="#bb5f58"/>
<circle cx="339.0" cy="107.9" r="2.7" fill="#d87a64" stroke="#be6156"/>
<circle cx="322.9" cy="109.2" r="2.7" fill="#f69c4b" stroke="#d87c40"/>
<circle cx="335.7" cy="116.6" r="2.7" fill="#9c4984" stroke="#893a71"/>
<circle cx="368.3" cy="121.2" r="2.7" fill="#b0597c" stroke="#9a476a"/>
<circle cx="319.8" cy="104.5" r="2.7" fill="#f59b4c" stroke="#d77c41"/>
<circle cx="323.7" cy="112.8" r="2.7" fill="#f59a4c" stroke="#d77b41"/>
<circle cx="326.1" cy="93.4" r="2.7" fill="#ed9053" stroke="#d07347"/>
<circle cx="325.5" cy="86.1" r="2.7" fill="#ef9351" stroke="#d27545"/>
<circle cx="324.7" cy="142.5" r="2.7" fill="#eb8d55" stroke="#ce7049"/>
<circle cx="345.1" cy="121.2" r="2.7" fill="#a65280" stroke="#92416e"/>
<circle cx="337.6" cy="111.9" r="2.7" fill="#9f4b83" stroke="#8b3c70"/>
<circle cx="347.6" cy="135.8" r="2.7" fill="#b05a7c" stroke="#9a486a"/>
<circle cx="332.4" cy="135.5" r="2.7" fill="#da7c63" stroke="#bf6355"/>
<circle cx="352.5" cy="106.9" r="2.7" fill="#883b89" stroke="#772f75"/>
<circle cx="341.1" cy="137.1" r="2.7" fill="#d27469" stroke="#b85c5a"/>
<circle cx="325.7" cy="109.2" r="2.7" fill="#e4865b" stroke="#c86b4e"/>
<circle cx="326.2" cy="156.5" r="2.7" fill="#eb8e54" stroke="#ce7148"/>
<circle cx="324.2" cy="108.9" r="2.7" fill="#ec8f54" stroke="#cf7248"/>
<circle cx="328.4" cy="103.6" r="2.7" fill="#ce716c" stroke="#b55a5c"/>
<circle cx="328.0" cy="110.6" r="2.7" fill="#d97b64" stroke="#be6256"/>
<circle cx="324.3" cy="141.0" r="2.7" fill="#f09450" stroke="#d37644"/>
<circle cx="319.3" cy="116.1" r="2.7" fill="#f89e49" stroke="#da7e3e"/>
<circle cx="322.6" cy="101.0" r="2.7" fill="#ee9252" stroke="#d17446"/>
<circle cx="326.0" cy="145.8" r="2.7" fill="#ee9252" stroke="#d17446"/>
<circle cx="342.2" cy="98.1" r="2.7" fill="#df815f" stroke="#c46751"/>
<circle cx="346.1" cy="118.0" r="2.7" fill="#b45c7a" stroke="#9e4968"/>
<circle cx="339.8" cy="97.0" r="2.7" fill="#db7d62" stroke="#c06454"/>
<circle cx="324.5" cy="156.4" r="2.7" fill="#eb8e55" stroke="#ce7149"/>
<circle cx="368.2" cy="106.1" r="2.7" fill="#b15a7c" stroke="#9b486a"/>
<circle cx="340.9" cy="114.3" r="2.7" fill="#dc7e61" stroke="#c16453"/>
<circle cx="329.3" cy="136.6" r="2.7" fill="#dd7f60" stroke="#c26552"/>
<circle cx="334.3" cy="111.9" r="2.7" fill="#9e4b83" stroke="#8b3c70"/>
<circle cx="323.0" cy="130.4" r="2.7" fill="#f2964f" stroke="#d47843"/>
<circle cx="329.7" cy="91.0" r="2.7" fill="#d37569" stroke="#b95d5a"/>
<circle cx="333.5" cy="125.4" r="2.7" fill="#a55180" stroke="#91406e"/>
<circle cx="346.8" cy="138.5" r="2.7" fill="#a65280" stroke="#92416e"/>
<circle cx="341.5" cy="115.2" r="2.7" fill="#e2845c" stroke="#c6694f"/>
<circle cx="352.2" cy="125.3" r="2.7" fill="#934287" stroke="#813474"/>
<circle cx="321.5" cy="104.8" r="2.7" fill="#f3984e" stroke="#d57943"/>
<circle cx="318.4" cy="121.5" r="2.7" fill="#f3974e" stroke="#d57843"/>
<circle cx="333.5" cy="125.1" r="2.7" fill="#9f4b83" stroke="#8b3c70"/>
<circle cx="346.2" cy="139.3" r="2.7" fill="#bb6277" stroke="#a44e66"/>
<circle cx="330.1" cy="123.4" r="2.7" fill="#c96d6f" stroke="#b0575f"/>
<circle cx="367.5" cy="111.3" r="2.7" fill="#b45d7a" stroke="#9e4a68"/>
<circle cx="335.7" cy="138.7" r="2.7" fill="#db7d62" stroke="#c06454"/>
<circle cx="352.0" cy="111.9" r="2.7" fill="#974585" stroke="#843772"/>
<circle cx="320.3" cy="111.3" r="2.7" fill="#ef9351" stroke="#d27545"/>
<circle cx="345.3" cy="97.7" r="2.7" fill="#df815f" stroke="#c46751"/>
<circle cx="353.3" cy="94.7" r="2.7" fill="#903f88" stroke="#7e3274"/>
<circle cx="324.7" cy="100.3" r="2.7" fill="#ec8f54" stroke="#cf7248"/>
<circle cx="326.1" cy="88.6" r="2.7" fill="#ef9252" stroke="#d27446"/>
<circle cx="324.0" cy="117.3" r="2.7" fill="#f2964f" stroke="#d47843"/>
<circle cx="333.9" cy="103.0" r="2.7" fill="#a85380" stroke="#93426e"/>
<circle cx="330.0" cy="126.6" r="2.7" fill="#d87a65" stroke="#be6156"/>
<circle cx="335.2" cy="122.1" r="2.7" fill="#cb6f6e" stroke="#b2585e"/>
<circle cx="351.8" cy="113.6" r="2.7" fill="#924187" stroke="#803474"/>
<circle cx="337.1" cy="117.9" r="2.7" fill="#c86c70" stroke="#b05660"/>
<circle cx="343.2" cy="137.7" r="2.7" fill="#a9547f" stroke="#94436d"/>
<circle cx="330.8" cy="123.9" r="2.7" fill="#d37569" stroke="#b95d5a"/>
<circle cx="334.9" cy="125.8" r="2.7" fill="#a04c82" stroke="#8c3c6f"/>
<circle cx="317.5" cy="123.9" r="2.7" fill="#faa247" stroke="#dc813d"/>
<circle cx="330.0" cy="103.2" r="2.7" fill="#cc706d" stroke="#b3595d"/>
<circle cx="328.2" cy="135.1" r="2.7" fill="#cc706d" stroke="#b3595d"/>
<circle cx="321.6" cy="135.4" r="2.7" fill="#f79e4a" stroke="#d97e3f"/>
<circle cx="368.1" cy="110.1" r="2.7" fill="#b65e79" stroke="#a04b68"/>
<circle cx="325.9" cy="116.0" r="2.7" fill="#f19450" stroke="#d47644"/>
<circle cx="318.9" cy="111.9" r="2.7" fill="#f79d4a" stroke="#d97d3f"/>
<circle cx="322.3" cy="99.8" r="2.7" fill="#f2964f" stroke="#d47843"/>
<circle cx="349.8" cy="88.1" r="2.7" fill="#8b3c89" stroke="#7a3075"/>
<circle cx="369.2" cy="106.7" r="2.7" fill="#b65e79" stroke="#a04b68"/>
<circle cx="325.4" cy="136.9" r="2.7" fill="#f3974e" stroke="#d57843"/>
<circle cx="334.3" cy="123.3" r="2.7" fill="#9d4a83" stroke="#8a3b70"/>
<circle cx="326.0" cy="132.8" r="2.7" fill="#ee9152" stroke="#d17446"/>
<circle cx="330.2" cy="103.7" r="2.7" fill="#d87a65" stroke="#be6156"/>
<circle cx="337.8" cy="101.5" r="2.7" fill="#dd7f61" stroke="#c26553"/>
<circle cx="346.2" cy="134.5" r="2.7" fill="#be6576" stroke="#a75065"/>
<circle cx="325.4" cy="129.2" r="2.7" fill="#ec8f54" stroke="#cf7248"/>
<circle cx="324.5" cy="88.1" r="2.7" fill="#ed9053" stroke="#d07347"/>
<circle cx="333.2" cy="121.0" r="2.7" fill="#9a4785" stroke="#873872"/>
<circle cx="322.1" cy="140.5" r="2.7" fill="#f09450" stroke="#d37644"/>
<circle cx="342.7" cy="105.1" r="2.7" fill="#d1736a" stroke="#b75c5b"/>
<circle cx="368.5" cy="109.3" r="2.7" fill="#ae587d" stroke="#99466b"/>
<circle cx="319.1" cy="138.7" r="2.7" fill="#f69b4b" stroke="#d87c40"/>
<circle cx="325.5" cy="96.6" r="2.7" fill="#ea8d55" stroke="#cd7049"/>
<circle cx="321.9" cy="110.2" r="2.7" fill="#f4994d" stroke="#d67a42"/>
<circle cx="347.7" cy="108.7" r="2.7" fill="#a24e82" stroke="#8e3e6f"/>
<circle cx="348.2" cy="113.8" r="2.7" fill="#82388a" stroke="#722c76"/>
<circle cx="340.5" cy="123.1" r="2.7" fill="#d1736a" stroke="#b75c5b"/>
<circle cx="352.7" cy="101.8" r="2.7" fill="#903f88" stroke="#7e3274"/>
<circle cx="368.2" cy="86.2" r="2.7" fill="#bb6277" stroke="#a44e66"/>
<circle cx="339.5" cy="124.0" r="2.7" fill="#dd7f61" stroke="#c26553"/>
<circle cx="337.1" cy="118.1" r="2.7" fill="#dc7e62" stroke="#c16454"/>
<circle cx="327.8" cy="99.8" r="2.7" fill="#d27469" stroke="#b85c5a"/>
<circle cx="325.8" cy="119.0" r="2.7" fill="#37198f" stroke="#30147a"/>
<circle cx="325.7" cy="88.1" r="2.7" fill="#f19550" stroke="#d47744"/>
<circle cx="342.3" cy="144.3" r="2.7" fill="#d87a65" stroke="#be6156"/>
<circle cx="336.0" cy="91.6" r="2.7" fill="#a24e82" stroke="#8e3e6f"/>
<circle cx="329.6" cy="92.3" r="2.7" fill="#d67866" stroke="#bc6057"/>
<circle cx="324.0" cy="153.1" r="2.7" fill="#f4994d" stroke="#d67a42"/>
<circle cx="367.8" cy="122.1" r="2.7" fill="#b65e79" stroke="#a04b68"/>
<circle cx="333.8" cy="107.5" r="2.7" fill="#a85380" stroke="#93426e"/>
<circle cx="326.1" cy="121.8" r="2.7" fill="#e78958" stroke="#cb6d4b"/>
<circle cx="367.8" cy="113.6" r="2.7" fill="#ad577d" stroke="#98456b"/>
<circle cx="344.1" cy="121.3" r="2.7" fill="#b75f79" stroke="#a14c68"/>
<circle cx="322.9" cy="121.9" r="2.7" fill="#f79e4a" stroke="#d97e3f"/>
<circle cx="367.9" cy="109.4" r="2.7" fill="#b75f79" stroke="#a14c68"/>
<circle cx="331.8" cy="109.9" r="2.7" fill="#cf726b" stroke="#b65b5c"/>
<circle cx="332.8" cy="114.9" r="2.7" fill="#d37569" stroke="#b95d5a"/>
<circle cx="336.6" cy="96.3" r="2.7" fill="#a85380" stroke="#93426e"/>
<circle cx="340.0" cy="117.5" r="2.7" fill="#d87a65" stroke="#be6156"/>
<circle cx="326.1" cy="86.5" r="2.7" fill="#ec8f54" stroke="#cf7248"/>
<circle cx="324.2" cy="130.3" r="2.7" fill="#f09450" stroke="#d37644"/>
</g>
<line x1="239.3" x2="410.7" y1="112.2" y2="112.2" stroke="#111" stroke-width="1.5"/>
<line x1="324.8" x2="324.8" y1="28.4" y2="194.9" stroke="#111" stroke-width="1.5"/>
<rect x="239.3" y="28.4" width="171.39999999999998" height="166.5" fill="none" stroke="#555" stroke-width="0.9"/>
<line x1="238.85000000000002" x2="411.15" y1="28.5" y2="28.5" stroke="#505050" stroke-width="1.7"/>
<line x1="280.2" x2="280.2" y1="194.9" y2="198.4" stroke="#333" stroke-width="1"/>
<text x="280.2" y="211.7" font-family="Liberation Sans, Arial, Helvetica, sans-serif" font-size="12.2" fill="#4d4d4d" text-anchor="middle">-40</text>
<line x1="324.8" x2="324.8" y1="194.9" y2="198.4" stroke="#333" stroke-width="1"/>
<text x="324.8" y="211.7" font-family="Liberation Sans, Arial, Helvetica, sans-serif" font-size="12.2" fill="#4d4d4d" text-anchor="middle">0</text>
<line x1="369.40000000000003" x2="369.40000000000003" y1="194.9" y2="198.4" stroke="#333" stroke-width="1"/>
<text x="369.40000000000003" y="211.7" font-family="Liberation Sans, Arial, Helvetica, sans-serif" font-size="12.2" fill="#4d4d4d" text-anchor="middle">40</text>
<rect x="419" y="4.2" width="171.39999999999998" height="24.2" fill="#d9d9d9" stroke="#555" stroke-width="0.9"/>
<text x="504.7" y="21.1" font-family="Liberation Sans, Arial, Helvetica, sans-serif" font-size="13.8" fill="#1a1a1a" text-anchor="middle">Drought</text>
<g clip-path="url(#cp2)" fill-opacity="0.48" stroke-opacity="0.45" stroke-width="0.9">
<circle cx="502.8" cy="88.9" r="2.7" fill="#ee9152" stroke="#d17446"/>
<circle cx="537.4" cy="110.5" r="2.7" fill="#bc6377" stroke="#a54f66"/>
<circle cx="542.7" cy="129.1" r="2.7" fill="#ac567e" stroke="#97446c"/>
<circle cx="493.8" cy="138.3" r="2.7" fill="#f9a048" stroke="#db803d"/>
<circle cx="481.4" cy="122.0" r="2.7" fill="#fba446" stroke="#dc833c"/>
<circle cx="551.0" cy="115.5" r="2.7" fill="#903f88" stroke="#7e3274"/>
<circle cx="469.7" cy="125.3" r="2.7" fill="#f9a048" stroke="#db803d"/>
<circle cx="503.1" cy="113.5" r="2.7" fill="#e78a58" stroke="#cb6e4b"/>
<circle cx="551.6" cy="92.9" r="2.7" fill="#a24e82" stroke="#8e3e6f"/>
<circle cx="506.8" cy="114.1" r="2.7" fill="#df815f" stroke="#c46751"/>
<circle cx="519.1" cy="106.0" r="2.7" fill="#a65180" stroke="#92406e"/>
<circle cx="551.4" cy="113.0" r="2.7" fill="#a8537f" stroke="#93426d"/>
<circle cx="496.4" cy="126.5" r="2.7" fill="#f89f49" stroke="#da7f3e"/>
<circle cx="548.8" cy="117.1" r="2.7" fill="#853a8a" stroke="#752e76"/>
<circle cx="469.2" cy="114.1" r="2.7" fill="#f79d4a" stroke="#d97d3f"/>
<circle cx="515.4" cy="142.2" r="2.7" fill="#d0736a" stroke="#b75c5b"/>
<circle cx="493.8" cy="128.5" r="2.7" fill="#f9a048" stroke="#db803d"/>
<circle cx="496.2" cy="133.4" r="2.7" fill="#f79d4a" stroke="#d97d3f"/>
<circle cx="512.8" cy="124.5" r="2.7" fill="#db7d62" stroke="#c06454"/>
<circle cx="488.0" cy="125.4" r="2.7" fill="#f69c4b" stroke="#d87c40"/>
<circle cx="542.4" cy="100.8" r="2.7" fill="#a65280" stroke="#92416e"/>
<circle cx="498.6" cy="120.5" r="2.7" fill="#f59a4c" stroke="#d77b41"/>
<circle cx="506.5" cy="89.3" r="2.7" fill="#b25b7b" stroke="#9c4869"/>
<circle cx="542.2" cy="125.8" r="2.7" fill="#ac567e" stroke="#97446c"/>
<circle cx="519.9" cy="115.1" r="2.7" fill="#e0825e" stroke="#c56850"/>
<circle cx="548.1" cy="116.7" r="2.7" fill="#964486" stroke="#843673"/>
<circle cx="488.4" cy="136.6" r="2.7" fill="#fba446" stroke="#dc833c"/>
<circle cx="495.6" cy="164.3" r="2.7" fill="#f3974e" stroke="#d57843"/>
<circle cx="524.7" cy="101.1" r="2.7" fill="#b75f79" stroke="#a14c68"/>
<circle cx="530.9" cy="127.7" r="2.7" fill="#d67867" stroke="#bc6058"/>
<circle cx="513.5" cy="117.9" r="2.7" fill="#eb8d55" stroke="#ce7049"/>
<circle cx="581.9" cy="118.9" r="2.7" fill="#bb6277" stroke="#a44e66"/>
<circle cx="490.2" cy="133.3" r="2.7" fill="#f9a148" stroke="#db803d"/>
<circle cx="529.2" cy="105.1" r="2.7" fill="#b25b7b" stroke="#9c4869"/>
<circle cx="530.5" cy="116.8" r="2.7" fill="#d27469" stroke="#b85c5a"/>
<circle cx="531.8" cy="103.5" r="2.7" fill="#38198f" stroke="#31147a"/>
<circle cx="533.2" cy="139.8" r="2.7" fill="#ce716c" stroke="#b55a5c"/>
<circle cx="514.4" cy="120.4" r="2.7" fill="#aa547f" stroke="#95436d"/>
<circle cx="487.6" cy="121.1" r="2.7" fill="#f89f49" stroke="#da7f3e"/>
<circle cx="504.6" cy="134.7" r="2.7" fill="#ed9053" stroke="#d07347"/>
<circle cx="514.4" cy="141.9" r="2.7" fill="#e0825e" stroke="#c56850"/>
<circle cx="505.7" cy="106.1" r="2.7" fill="#ef9351" stroke="#d27545"/>
<circle cx="513.8" cy="120.4" r="2.7" fill="#d1746a" stroke="#b75c5b"/>
<circle cx="536.0" cy="64.0" r="2.7" fill="#f89e4a" stroke="#da7e3f"/>
<circle cx="515.0" cy="125.5" r="2.7" fill="#d97b64" stroke="#be6256"/>
<circle cx="537.4" cy="127.0" r="2.7" fill="#a75280" stroke="#92416e"/>
<circle cx="487.6" cy="129.0" r="2.7" fill="#f79d4a" stroke="#d97d3f"/>
<circle cx="509.7" cy="137.0" r="2.7" fill="#dd7f61" stroke="#c26553"/>
<circle cx="510.2" cy="98.8" r="2.7" fill="#a8537f" stroke="#93426d"/>
<circle cx="532.0" cy="133.2" r="2.7" fill="#d47668" stroke="#ba5e59"/>
<circle cx="518.1" cy="145.9" r="2.7" fill="#d77966" stroke="#bd6057"/>
<circle cx="488.5" cy="144.8" r="2.7" fill="#f89e49" stroke="#da7e3e"/>
<circle cx="512.2" cy="126.5" r="2.7" fill="#b55e7a" stroke="#9f4b68"/>
<circle cx="514.1" cy="128.2" r="2.7" fill="#dd7f61" stroke="#c26553"/>
<circle cx="552.1" cy="95.8" r="2.7" fill="#ac567e" stroke="#97446c"/>
<circle cx="492.8" cy="120.0" r="2.7" fill="#f89f49" stroke="#da7f3e"/>
<circle cx="490.0" cy="123.4" r="2.7" fill="#f9a048" stroke="#db803d"/>
<circle cx="516.9" cy="140.8" r="2.7" fill="#d67866" stroke="#bc6057"/>
<circle cx="509.5" cy="131.0" r="2.7" fill="#d87a65" stroke="#be6156"/>
<circle cx="491.8" cy="126.0" r="2.7" fill="#f9a148" stroke="#db803d"/>
<circle cx="521.8" cy="140.2" r="2.7" fill="#d37668" stroke="#b95e59"/>
<circle cx="488.2" cy="118.3" r="2.7" fill="#f9a048" stroke="#db803d"/>
<circle cx="517.0" cy="118.8" r="2.7" fill="#d97b64" stroke="#be6256"/>
<circle cx="580.9" cy="104.6" r="2.7" fill="#c16774" stroke="#a95263"/>
<circle cx="506.9" cy="90.0" r="2.7" fill="#ab567e" stroke="#96446c"/>
<circle cx="507.4" cy="114.1" r="2.7" fill="#d27569" stroke="#b85d5a"/>
<circle cx="520.9" cy="116.8" r="2.7" fill="#e3855c" stroke="#c76a4f"/>
<circle cx="525.2" cy="116.4" r="2.7" fill="#e1835e" stroke="#c66850"/>
<circle cx="514.7" cy="138.4" r="2.7" fill="#d67867" stroke="#bc6058"/>
<circle cx="557.4" cy="107.0" r="2.7" fill="#9b4884" stroke="#883971"/>
<circle cx="521.6" cy="136.4" r="2.7" fill="#d97b64" stroke="#be6256"/>
<circle cx="496.0" cy="141.0" r="2.7" fill="#f19450" stroke="#d47644"/>
<circle cx="499.5" cy="120.1" r="2.7" fill="#f09351" stroke="#d37545"/>
<circle cx="482.7" cy="129.3" r="2.7" fill="#f9a048" stroke="#db803d"/>
<circle cx="526.2" cy="131.3" r="2.7" fill="#d47668" stroke="#ba5e59"/>
<circle cx="513.8" cy="99.5" r="2.7" fill="#a14d82" stroke="#8d3d6f"/>
<circle cx="498.7" cy="93.7" r="2.7" fill="#f79d4a" stroke="#d97d3f"/>
<circle cx="506.5" cy="118.4" r="2.7" fill="#964486" stroke="#843673"/>
<circle cx="531.5" cy="118.1" r="2.7" fill="#d27469" stroke="#b85c5a"/>
<circle cx="470.3" cy="137.7" r="2.7" fill="#f9a148" stroke="#db803d"/>
<circle cx="514.9" cy="114.6" r="2.7" fill="#db7d62" stroke="#c06454"/>
<circle cx="492.9" cy="127.9" r="2.7" fill="#f89f49" stroke="#da7f3e"/>
<circle cx="526.5" cy="115.0" r="2.7" fill="#a34f81" stroke="#8f3f6e"/>
<circle cx="515.0" cy="109.1" r="2.7" fill="#934287" stroke="#813474"/>
<circle cx="512.6" cy="100.3" r="2.7" fill="#9c4984" stroke="#893a71"/>
<circle cx="527.0" cy="94.9" r="2.7" fill="#9d4a83" stroke="#8a3b70"/>
<circle cx="529.7" cy="113.0" r="2.7" fill="#924087" stroke="#803374"/>
<circle cx="497.4" cy="109.0" r="2.7" fill="#f69b4b" stroke="#d87c40"/>
<circle cx="541.7" cy="97.4" r="2.7" fill="#984685" stroke="#853872"/>
<circle cx="555.4" cy="113.1" r="2.7" fill="#a65180" stroke="#92406e"/>
<circle cx="493.4" cy="129.9" r="2.7" fill="#f79e4a" stroke="#d97e3f"/>
<circle cx="554.6" cy="101.9" r="2.7" fill="#a34f81" stroke="#8f3f6e"/>
<circle cx="485.8" cy="117.5" r="2.7" fill="#f79d4a" stroke="#d97d3f"/>
<circle cx="503.5" cy="100.0" r="2.7" fill="#ee9252" stroke="#d17446"/>
<circle cx="532.7" cy="118.9" r="2.7" fill="#db7d62" stroke="#c06454"/>
<circle cx="503.8" cy="123.7" r="2.7" fill="#f1954f" stroke="#d47743"/>
<circle cx="556.8" cy="110.6" r="2.7" fill="#a55180" stroke="#91406e"/>
<circle cx="537.0" cy="116.9" r="2.7" fill="#9d4a83" stroke="#8a3b70"/>
<circle cx="547.8" cy="119.6" r="2.7" fill="#903f88" stroke="#7e3274"/>
<circle cx="549.9" cy="122.2" r="2.7" fill="#84398a" stroke="#742d76"/>
<circle cx="532.7" cy="152.4" r="2.7" fill="#a9547f" stroke="#94436d"/>
<circle cx="512.6" cy="122.0" r="2.7" fill="#d97b64" stroke="#be6256"/>
<circle cx="508.5" cy="126.3" r="2.7" fill="#ae587d" stroke="#99466b"/>
<circle cx="483.1" cy="113.6" r="2.7" fill="#f9a148" stroke="#db803d"/>
<circle cx="470.7" cy="127.9" r="2.7" fill="#f59a4c" stroke="#d77b41"/>
<circle cx="519.5" cy="137.3" r="2.7" fill="#d57767" stroke="#bb5f58"/>
<circle cx="513.9" cy="120.3" r="2.7" fill="#df815f" stroke="#c46751"/>
<circle cx="504.0" cy="85.8" r="2.7" fill="#f2964f" stroke="#d47843"/>
<circle cx="488.6" cy="143.9" r="2.7" fill="#f79e4a" stroke="#d97e3f"/>
<circle cx="508.9" cy="114.2" r="2.7" fill="#b25b7b" stroke="#9c4869"/>
<circle cx="499.5" cy="122.2" r="2.7" fill="#f2964f" stroke="#d47843"/>
<circle cx="520.5" cy="102.5" r="2.7" fill="#a9547f" stroke="#94436d"/>
<circle cx="580.8" cy="106.8" r="2.7" fill="#bd6376" stroke="#a64f65"/>
<circle cx="502.1" cy="100.8" r="2.7" fill="#faa247" stroke="#dc813d"/>
<circle cx="499.3" cy="129.6" r="2.7" fill="#f79d4a" stroke="#d97d3f"/>
<circle cx="517.8" cy="112.0" r="2.7" fill="#d1736a" stroke="#b75c5b"/>
<circle cx="513.7" cy="122.8" r="2.7" fill="#d47668" stroke="#ba5e59"/>
<circle cx="581.1" cy="111.1" r="2.7" fill="#bc6377" stroke="#a54f66"/>
<circle cx="513.0" cy="139.0" r="2.7" fill="#d77966" stroke="#bd6057"/>
<circle cx="520.9" cy="129.0" r="2.7" fill="#d1736a" stroke="#b75c5b"/>
<circle cx="519.6" cy="115.4" r="2.7" fill="#d57767" stroke="#bb5f58"/>
<circle cx="520.3" cy="101.4" r="2.7" fill="#a04c82" stroke="#8c3c6f"/>
<circle cx="511.9" cy="163.9" r="2.7" fill="#d47668" stroke="#ba5e59"/>
<circle cx="489.1" cy="123.5" r="2.7" fill="#f89f49" stroke="#da7f3e"/>
<circle cx="516.3" cy="112.1" r="2.7" fill="#df815f" stroke="#c46751"/>
<circle cx="526.2" cy="114.5" r="2.7" fill="#944287" stroke="#823474"/>
<circle cx="537.0" cy="96.5" r="2.7" fill="#b65f79" stroke="#a04c68"/>
<circle cx="505.1" cy="128.3" r="2.7" fill="#e68959" stroke="#ca6d4c"/>
<circle cx="531.6" cy="95.1" r="2.7" fill="#4f2290" stroke="#451b7b"/>
<circle cx="520.3" cy="114.3" r="2.7" fill="#d77966" stroke="#bd6057"/>
<circle cx="494.8" cy="134.4" r="2.7" fill="#f79e4a" stroke="#d97e3f"/>
<circle cx="528.0" cy="118.3" r="2.7" fill="#d87a65" stroke="#be6156"/>
<circle cx="493.0" cy="117.5" r="2.7" fill="#f79e4a" stroke="#d97e3f"/>
<circle cx="543.4" cy="113.3" r="2.7" fill="#b15a7c" stroke="#9b486a"/>
<circle cx="508.9" cy="106.3" r="2.7" fill="#b65e79" stroke="#a04b68"/>
<circle cx="501.0" cy="134.3" r="2.7" fill="#f4994d" stroke="#d67a42"/>
<circle cx="580.6" cy="109.6" r="2.7" fill="#b96178" stroke="#a24d67"/>
<circle cx="482.9" cy="138.3" r="2.7" fill="#faa147" stroke="#dc803d"/>
<circle cx="503.1" cy="96.4" r="2.7" fill="#e78959" stroke="#cb6d4c"/>
<circle cx="491.0" cy="119.4" r="2.7" fill="#f5994c" stroke="#d77a41"/>
<circle cx="490.9" cy="116.0" r="2.7" fill="#f9a048" stroke="#db803d"/>
<circle cx="507.9" cy="115.5" r="2.7" fill="#dc7e62" stroke="#c16454"/>
<circle cx="530.1" cy="109.6" r="2.7" fill="#9f4b83" stroke="#8b3c70"/>
<circle cx="538.8" cy="128.0" r="2.7" fill="#b05a7c" stroke="#9a486a"/>
<circle cx="519.3" cy="132.5" r="2.7" fill="#da7c63" stroke="#bf6355"/>
<circle cx="488.4" cy="124.5" r="2.7" fill="#faa247" stroke="#dc813d"/>
<circle cx="519.8" cy="144.5" r="2.7" fill="#dc7e61" stroke="#c16453"/>
<circle cx="527.2" cy="130.2" r="2.7" fill="#cd706c" stroke="#b4595c"/>
<circle cx="496.8" cy="135.7" r="2.7" fill="#fca545" stroke="#dd843b"/>
<circle cx="528.4" cy="136.6" r="2.7" fill="#d77965" stroke="#bd6056"/>
<circle cx="509.1" cy="108.7" r="2.7" fill="#d87a64" stroke="#be6156"/>
<circle cx="541.6" cy="113.8" r="2.7" fill="#964486" stroke="#843673"/>
<circle cx="482.8" cy="114.4" r="2.7" fill="#f59a4c" stroke="#d77b41"/>
<circle cx="524.8" cy="156.9" r="2.7" fill="#b45d7a" stroke="#9e4a68"/>
<circle cx="504.5" cy="143.9" r="2.7" fill="#ed9053" stroke="#d07347"/>
<circle cx="535.3" cy="99.0" r="2.7" fill="#954386" stroke="#833573"/>
<circle cx="509.0" cy="116.4" r="2.7" fill="#da7c63" stroke="#bf6355"/>
<circle cx="518.6" cy="107.0" r="2.7" fill="#a34f81" stroke="#8f3f6e"/>
<circle cx="545.1" cy="114.1" r="2.7" fill="#984585" stroke="#853772"/>
<circle cx="489.5" cy="134.3" r="2.7" fill="#f79d4a" stroke="#d97d3f"/>
<circle cx="531.1" cy="126.6" r="2.7" fill="#ac577e" stroke="#97456c"/>
<circle cx="502.0" cy="118.0" r="2.7" fill="#ee9252" stroke="#d17446"/>
<circle cx="497.8" cy="103.4" r="2.7" fill="#f4994d" stroke="#d67a42"/>
<circle cx="519.2" cy="125.1" r="2.7" fill="#9e4b83" stroke="#8b3c70"/>
<circle cx="551.9" cy="99.4" r="2.7" fill="#9c4984" stroke="#893a71"/>
<circle cx="470.3" cy="137.8" r="2.7" fill="#faa147" stroke="#dc803d"/>
<circle cx="506.9" cy="116.1" r="2.7" fill="#a75280" stroke="#92416e"/>
<circle cx="530.9" cy="133.6" r="2.7" fill="#d1736a" stroke="#b75c5b"/>
<circle cx="515.7" cy="110.2" r="2.7" fill="#d1746a" stroke="#b75c5b"/>
<circle cx="535.9" cy="116.0" r="2.7" fill="#cf726b" stroke="#b65b5c"/>
<circle cx="543.0" cy="103.7" r="2.7" fill="#a04c82" stroke="#8c3c6f"/>
<circle cx="509.5" cy="127.4" r="2.7" fill="#d67866" stroke="#bc6057"/>
<circle cx="552.0" cy="118.0" r="2.7" fill="#a45081" stroke="#90406e"/>
<circle cx="529.4" cy="108.2" r="2.7" fill="#984685" stroke="#853872"/>
<circle cx="536.0" cy="110.5" r="2.7" fill="#a8537f" stroke="#93426d"/>
<circle cx="537.4" cy="136.7" r="2.7" fill="#d27569" stroke="#b85d5a"/>
<circle cx="555.2" cy="150.2" r="2.7" fill="#a9547f" stroke="#94436d"/>
<circle cx="535.7" cy="116.8" r="2.7" fill="#d37569" stroke="#b95d5a"/>
<circle cx="492.8" cy="122.2" r="2.7" fill="#f9a148" stroke="#db803d"/>
<circle cx="542.3" cy="97.4" r="2.7" fill="#964486" stroke="#843673"/>
<circle cx="515.2" cy="126.0" r="2.7" fill="#ac577d" stroke="#97456b"/>
<circle cx="496.5" cy="97.6" r="2.7" fill="#f19450" stroke="#d47644"/>
<circle cx="514.5" cy="102.2" r="2.7" fill="#ae587d" stroke="#99466b"/>
<circle cx="505.4" cy="144.0" r="2.7" fill="#e68859" stroke="#ca6c4c"/>
<circle cx="529.8" cy="100.5" r="2.7" fill="#a24f81" stroke="#8e3f6e"/>
<circle cx="499.6" cy="134.9" r="2.7" fill="#f59a4c" stroke="#d77b41"/>
<circle cx="509.9" cy="104.3" r="2.7" fill="#a14e82" stroke="#8d3e6f"/>
<circle cx="508.5" cy="151.3" r="2.7" fill="#d87a65" stroke="#be6156"/>
<circle cx="536.3" cy="123.6" r="2.7" fill="#c86d70" stroke="#b05760"/>
<circle cx="523.2" cy="126.7" r="2.7" fill="#a55081" stroke="#91406e"/>
<circle cx="531.8" cy="104.8" r="2.7" fill="#a45081" stroke="#90406e"/>
<circle cx="519.3" cy="144.6" r="2.7" fill="#d47668" stroke="#ba5e59"/>
<circle cx="523.5" cy="118.5" r="2.7" fill="#a65180" stroke="#92406e"/>
<circle cx="527.8" cy="121.1" r="2.7" fill="#d57767" stroke="#bb5f58"/>
<circle cx="539.8" cy="123.8" r="2.7" fill="#c66b71" stroke="#ae5561"/>
<circle cx="526.6" cy="126.3" r="2.7" fill="#b05a7c" stroke="#9a486a"/>
<circle cx="552.2" cy="114.5" r="2.7" fill="#984685" stroke="#853872"/>
<circle cx="518.4" cy="106.2" r="2.7" fill="#ac567e" stroke="#97446c"/>
<circle cx="548.6" cy="97.0" r="2.7" fill="#84398a" stroke="#742d76"/>
<circle cx="541.3" cy="109.9" r="2.7" fill="#b0597c" stroke="#9a476a"/>
<circle cx="551.7" cy="105.5" r="2.7" fill="#a75380" stroke="#92426e"/>
<circle cx="485.3" cy="108.4" r="2.7" fill="#f79d4a" stroke="#d97d3f"/>
<circle cx="503.5" cy="109.9" r="2.7" fill="#f3974e" stroke="#d57843"/>
<circle cx="536.7" cy="105.7" r="2.7" fill="#aa557e" stroke="#95446c"/>
<circle cx="528.1" cy="115.1" r="2.7" fill="#ac567e" stroke="#97446c"/>
<circle cx="494.2" cy="116.7" r="2.7" fill="#f89e49" stroke="#da7e3e"/>
<circle cx="521.1" cy="112.8" r="2.7" fill="#db7d62" stroke="#c06454"/>
<circle cx="505.8" cy="101.6" r="2.7" fill="#ec8f54" stroke="#cf7248"/>
<circle cx="493.2" cy="145.5" r="2.7" fill="#f59a4c" stroke="#d77b41"/>
<circle cx="491.5" cy="141.5" r="2.7" fill="#f59b4c" stroke="#d77c41"/>
<circle cx="485.4" cy="127.3" r="2.7" fill="#f9a048" stroke="#db803d"/>
<circle cx="548.8" cy="93.1" r="2.7" fill="#8e3e88" stroke="#7c3174"/>
<circle cx="538.9" cy="115.2" r="2.7" fill="#ac567e" stroke="#97446c"/>
<circle cx="527.1" cy="112.2" r="2.7" fill="#ab557e" stroke="#96446c"/>
<circle cx="508.1" cy="108.5" r="2.7" fill="#da7c63" stroke="#bf6355"/>
<circle cx="541.5" cy="98.5" r="2.7" fill="#9c4984" stroke="#893a71"/>
<circle cx="521.9" cy="108.3" r="2.7" fill="#a8537f" stroke="#93426d"/>
<circle cx="497.6" cy="112.8" r="2.7" fill="#f89e49" stroke="#da7e3e"/>
<circle cx="483.2" cy="136.2" r="2.7" fill="#f9a048" stroke="#db803d"/>
<circle cx="509.5" cy="152.0" r="2.7" fill="#df815f" stroke="#c46751"/>
<circle cx="508.6" cy="137.2" r="2.7" fill="#d77966" stroke="#bd6057"/>
<circle cx="492.8" cy="116.4" r="2.7" fill="#f9a148" stroke="#db803d"/>
<circle cx="536.2" cy="145.5" r="2.7" fill="#a9547f" stroke="#94436d"/>
<circle cx="547.6" cy="107.8" r="2.7" fill="#81388a" stroke="#712c76"/>
<circle cx="522.0" cy="110.7" r="2.7" fill="#aa557f" stroke="#95446d"/>
<circle cx="483.1" cy="123.0" r="2.7" fill="#f89f49" stroke="#da7f3e"/>
<circle cx="482.8" cy="116.5" r="2.7" fill="#f69c4b" stroke="#d87c40"/>
<circle cx="525.5" cy="141.8" r="2.7" fill="#de8060" stroke="#c36652"/>
<circle cx="547.1" cy="125.4" r="2.7" fill="#8e3e88" stroke="#7c3174"/>
<circle cx="548.6" cy="136.0" r="2.7" fill="#9c4a84" stroke="#893b71"/>
<circle cx="546.5" cy="93.5" r="2.7" fill="#81378a" stroke="#712c76"/>
<circle cx="518.0" cy="144.4" r="2.7" fill="#d2746a" stroke="#b85c5b"/>
<circle cx="484.3" cy="134.9" r="2.7" fill="#f9a148" stroke="#db803d"/>
<circle cx="555.1" cy="107.5" r="2.7" fill="#924087" stroke="#803374"/>
<circle cx="545.3" cy="109.6" r="2.7" fill="#b96078" stroke="#a24c67"/>
<circle cx="553.1" cy="88.3" r="2.7" fill="#984685" stroke="#853872"/>
<circle cx="504.6" cy="148.8" r="2.7" fill="#e68859" stroke="#ca6c4c"/>
<circle cx="498.7" cy="119.3" r="2.7" fill="#f4984d" stroke="#d67942"/>
<circle cx="509.4" cy="123.9" r="2.7" fill="#d97b64" stroke="#be6256"/>
<circle cx="519.7" cy="116.9" r="2.7" fill="#984685" stroke="#853872"/>
<circle cx="482.1" cy="118.6" r="2.7" fill="#faa147" stroke="#dc803d"/>
<circle cx="526.5" cy="113.4" r="2.7" fill="#aa547f" stroke="#95436d"/>
<circle cx="512.7" cy="120.2" r="2.7" fill="#b75f79" stroke="#a14c68"/>
<circle cx="538.3" cy="127.2" r="2.7" fill="#c86d70" stroke="#b05760"/>
<circle cx="555.2" cy="136.3" r="2.7" fill="#a9547f" stroke="#94436d"/>
<circle cx="556.2" cy="122.2" r="2.7" fill="#a24e82" stroke="#8e3e6f"/>
<circle cx="535.7" cy="121.3" r="2.7" fill="#af597c" stroke="#9a476a"/>
<circle cx="581.0" cy="119.0" r="2.7" fill="#bc6377" stroke="#a54f66"/>
<circle cx="536.0" cy="99.2" r="2.7" fill="#b96178" stroke="#a24d67"/>
<circle cx="520.5" cy="125.9" r="2.7" fill="#d57767" stroke="#bb5f58"/>
<circle cx="497.2" cy="113.6" r="2.7" fill="#f69c4b" stroke="#d87c40"/>
<circle cx="519.3" cy="118.9" r="2.7" fill="#e88a58" stroke="#cc6e4b"/>
<circle cx="492.6" cy="117.1" r="2.7" fill="#f69c4b" stroke="#d87c40"/>
<circle cx="547.9" cy="104.7" r="2.7" fill="#80378a" stroke="#702c76"/>
<circle cx="490.4" cy="156.2" r="2.7" fill="#f79d4a" stroke="#d97d3f"/>
<circle cx="530.6" cy="102.2" r="2.7" fill="#ad577d" stroke="#98456b"/>
<circle cx="513.6" cy="117.5" r="2.7" fill="#d47668" stroke="#ba5e59"/>
<circle cx="551.3" cy="117.2" r="2.7" fill="#994685" stroke="#863872"/>
<circle cx="512.2" cy="118.2" r="2.7" fill="#e4865a" stroke="#c86b4d"/>
<circle cx="519.3" cy="117.5" r="2.7" fill="#dd7f61" stroke="#c26553"/>
<circle cx="498.5" cy="105.3" r="2.7" fill="#ee9252" stroke="#d17446"/>
<circle cx="532.0" cy="123.9" r="2.7" fill="#aa547f" stroke="#95436d"/>
<circle cx="508.2" cy="106.7" r="2.7" fill="#a75280" stroke="#92416e"/>
<circle cx="551.4" cy="130.2" r="2.7" fill="#9c4a84" stroke="#893b71"/>
<circle cx="556.5" cy="94.3" r="2.7" fill="#ac577e" stroke="#97456c"/>
<circle cx="556.7" cy="119.2" r="2.7" fill="#b15a7c" stroke="#9b486a"/>
<circle cx="524.5" cy="140.7" r="2.7" fill="#d77966" stroke="#bd6057"/>
<circle cx="490.7" cy="143.2" r="2.7" fill="#f69b4b" stroke="#d87c40"/>
<circle cx="531.3" cy="126.4" r="2.7" fill="#b0597c" stroke="#9a476a"/>
<circle cx="514.1" cy="137.6" r="2.7" fill="#d1746a" stroke="#b75c5b"/>
<circle cx="530.6" cy="125.9" r="2.7" fill="#be6476" stroke="#a75065"/>
<circle cx="487.0" cy="128.2" r="2.7" fill="#f3974e" stroke="#d57843"/>
<circle cx="501.0" cy="123.7" r="2.7" fill="#f3974e" stroke="#d57843"/>
<circle cx="504.0" cy="138.9" r="2.7" fill="#f9a048" stroke="#db803d"/>
<circle cx="506.3" cy="120.1" r="2.7" fill="#ac577e" stroke="#97456c"/>
<circle cx="553.8" cy="100.3" r="2.7" fill="#9b4884" stroke="#883971"/>
<circle cx="519.5" cy="101.1" r="2.7" fill="#994785" stroke="#863872"/>
<circle cx="526.8" cy="134.8" r="2.7" fill="#dd7f61" stroke="#c26553"/>
<circle cx="501.3" cy="138.4" r="2.7" fill="#f59a4c" stroke="#d77b41"/>
<circle cx="541.8" cy="128.2" r="2.7" fill="#8e3e88" stroke="#7c3174"/>
<circle cx="525.7" cy="142.2" r="2.7" fill="#d27569" stroke="#b85d5a"/>
<circle cx="522.8" cy="138.8" r="2.7" fill="#cc706d" stroke="#b3595d"/>
<circle cx="551.3" cy="120.0" r="2.7" fill="#a75280" stroke="#92416e"/>
<circle cx="509.1" cy="96.1" r="2.7" fill="#ae587d" stroke="#99466b"/>
<circle cx="526.3" cy="136.3" r="2.7" fill="#d97b64" stroke="#be6256"/>
<circle cx="581.6" cy="116.6" r="2.7" fill="#b96178" stroke="#a24d67"/>
<circle cx="553.3" cy="95.9" r="2.7" fill="#bb6277" stroke="#a44e66"/>
<circle cx="529.7" cy="129.6" r="2.7" fill="#a65180" stroke="#92406e"/>
<circle cx="546.6" cy="95.7" r="2.7" fill="#893b89" stroke="#782f75"/>
<circle cx="514.2" cy="118.9" r="2.7" fill="#9e4b83" stroke="#8b3c70"/>
<circle cx="542.9" cy="136.0" r="2.7" fill="#a9547f" stroke="#94436d"/>
<circle cx="508.7" cy="128.3" r="2.7" fill="#ca6e6f" stroke="#b1585f"/>
<circle cx="534.9" cy="120.4" r="2.7" fill="#c56a72" stroke="#ad5462"/>
<circle cx="520.1" cy="126.3" r="2.7" fill="#d47668" stroke="#ba5e59"/>
<circle cx="515.0" cy="130.5" r="2.7" fill="#da7c63" stroke="#bf6355"/>
<circle cx="481.2" cy="114.7" r="2.7" fill="#f89f49" stroke="#da7f3e"/>
<circle cx="581.8" cy="117.2" r="2.7" fill="#be6476" stroke="#a75065"/>
<circle cx="551.5" cy="124.8" r="2.7" fill="#9e4b83" stroke="#8b3c70"/>
<circle cx="498.2" cy="140.2" r="2.7" fill="#f69b4b" stroke="#d87c40"/>
<circle cx="515.2" cy="116.5" r="2.7" fill="#da7c63" stroke="#bf6355"/>
<circle cx="536.5" cy="111.1" r="2.7" fill="#a24e81" stroke="#8e3e6e"/>
<circle cx="511.1" cy="93.6" r="2.7" fill="#a75380" stroke="#92426e"/>
<circle cx="503.8" cy="145.0" r="2.7" fill="#e88a58" stroke="#cc6e4b"/>
<circle cx="537.7" cy="131.8" r="2.7" fill="#cc706d" stroke="#b3595d"/>
<circle cx="529.7" cy="115.1" r="2.7" fill="#cc6f6d" stroke="#b3585d"/>
<circle cx="532.6" cy="137.7" r="2.7" fill="#d47668" stroke="#ba5e59"/>
<circle cx="516.4" cy="137.9" r="2.7" fill="#d67867" stroke="#bc6058"/>
<circle cx="521.2" cy="119.2" r="2.7" fill="#a14d82" stroke="#8d3d6f"/>
<circle cx="519.6" cy="126.2" r="2.7" fill="#b86078" stroke="#a14c67"/>
<circle cx="509.4" cy="124.8" r="2.7" fill="#e0825e" stroke="#c56850"/>
<circle cx="537.7" cy="128.3" r="2.7" fill="#d37569" stroke="#b95d5a"/>
<circle cx="514.2" cy="141.0" r="2.7" fill="#e3855c" stroke="#c76a4f"/>
<circle cx="470.0" cy="134.4" r="2.7" fill="#f79d4a" stroke="#d97d3f"/>
<circle cx="519.6" cy="123.5" r="2.7" fill="#a04d82" stroke="#8c3d6f"/>
<circle cx="531.1" cy="113.3" r="2.7" fill="#aa547f" stroke="#95436d"/>
<circle cx="498.3" cy="144.7" r="2.7" fill="#f3974e" stroke="#d57843"/>
<circle cx="500.0" cy="104.7" r="2.7" fill="#f2954f" stroke="#d47743"/>
<circle cx="517.1" cy="158.4" r="2.7" fill="#ca6e6e" stroke="#b1585e"/>
<circle cx="519.6" cy="114.4" r="2.7" fill="#d87a65" stroke="#be6156"/>
<circle cx="514.6" cy="102.0" r="2.7" fill="#b15b7b" stroke="#9b4869"/>
<circle cx="546.7" cy="98.1" r="2.7" fill="#863a89" stroke="#752e75"/>
<circle cx="581.8" cy="106.6" r="2.7" fill="#b35b7b" stroke="#9d4869"/>
<circle cx="494.8" cy="119.0" r="2.7" fill="#f89e49" stroke="#da7e3e"/>
<circle cx="521.6" cy="106.7" r="2.7" fill="#a65280" stroke="#92416e"/>
<circle cx="520.2" cy="120.7" r="2.7" fill="#de8060" stroke="#c36652"/>
<circle cx="520.8" cy="99.8" r="2.7" fill="#974585" stroke="#843772"/>
<circle cx="493.6" cy="142.7" r="2.7" fill="#f9a048" stroke="#db803d"/>
<circle cx="544.5" cy="119.0" r="2.7" fill="#a8537f" stroke="#93426d"/>
<circle cx="520.0" cy="139.1" r="2.7" fill="#d87a65" stroke="#be6156"/>
<circle cx="508.1" cy="128.0" r="2.7" fill="#de8060" stroke="#c36652"/>
<circle cx="515.0" cy="117.0" r="2.7" fill="#af597c" stroke="#9a476a"/>
<circle cx="530.4" cy="122.7" r="2.7" fill="#da7c63" stroke="#bf6355"/>
<circle cx="527.4" cy="97.2" r="2.7" fill="#9b4884" stroke="#883971"/>
<circle cx="518.7" cy="127.1" r="2.7" fill="#a34f81" stroke="#8f3f6e"/>
<circle cx="510.0" cy="129.0" r="2.7" fill="#dc7e61" stroke="#c16453"/>
<circle cx="556.1" cy="93.5" r="2.7" fill="#a45081" stroke="#90406e"/>
<circle cx="514.5" cy="108.0" r="2.7" fill="#a04c82" stroke="#8c3c6f"/>
<circle cx="511.1" cy="115.3" r="2.7" fill="#a55081" stroke="#91406e"/>
<circle cx="515.3" cy="114.3" r="2.7" fill="#d27469" stroke="#b85c5a"/>
<circle cx="580.8" cy="112.4" r="2.7" fill="#c36873" stroke="#ab5362"/>
<circle cx="535.3" cy="122.1" r="2.7" fill="#cc706d" stroke="#b3595d"/>
<circle cx="523.8" cy="130.1" r="2.7" fill="#d27469" stroke="#b85c5a"/>
<circle cx="490.7" cy="186.6" r="2.7" fill="#f59a4c" stroke="#d77b41"/>
<circle cx="501.5" cy="125.1" r="2.7" fill="#ef9351" stroke="#d27545"/>
<circle cx="548.4" cy="101.3" r="2.7" fill="#7e368b" stroke="#6e2b77"/>
<circle cx="541.9" cy="123.4" r="2.7" fill="#ae587d" stroke="#99466b"/>
<circle cx="496.9" cy="107.0" r="2.7" fill="#f9a048" stroke="#db803d"/>
<circle cx="540.5" cy="97.4" r="2.7" fill="#a34f81" stroke="#8f3f6e"/>
<circle cx="517.2" cy="98.0" r="2.7" fill="#ab567e" stroke="#96446c"/>
<circle cx="509.5" cy="150.4" r="2.7" fill="#de8060" stroke="#c36652"/>
<circle cx="531.2" cy="111.7" r="2.7" fill="#a34f81" stroke="#8f3f6e"/>
<circle cx="500.0" cy="146.9" r="2.7" fill="#f79d4a" stroke="#d97d3f"/>
<circle cx="470.1" cy="120.9" r="2.7" fill="#f89f49" stroke="#da7f3e"/>
<circle cx="581.3" cy="105.5" r="2.7" fill="#b35c7b" stroke="#9d4969"/>
<circle cx="518.5" cy="115.1" r="2.7" fill="#da7c63" stroke="#bf6355"/>
<circle cx="515.5" cy="144.0" r="2.7" fill="#e3855c" stroke="#c76a4f"/>
<circle cx="526.2" cy="121.3" r="2.7" fill="#cd706d" stroke="#b4595d"/>
<circle cx="535.0" cy="122.6" r="2.7" fill="#c26874" stroke="#aa5363"/>
<circle cx="530.7" cy="131.8" r="2.7" fill="#cf726c" stroke="#b65b5c"/>
<circle cx="519.5" cy="115.1" r="2.7" fill="#9b4984" stroke="#883a71"/>
<circle cx="535.5" cy="106.2" r="2.7" fill="#ad577d" stroke="#98456b"/>
<circle cx="482.9" cy="116.1" r="2.7" fill="#f9a048" stroke="#db803d"/>
<circle cx="483.1" cy="133.8" r="2.7" fill="#f79d4a" stroke="#d97d3f"/>
<circle cx="554.9" cy="88.5" r="2.7" fill="#af597c" stroke="#9a476a"/>
<circle cx="497.3" cy="125.6" r="2.7" fill="#f3974e" stroke="#d57843"/>
<circle cx="502.3" cy="162.1" r="2.7" fill="#c46972" stroke="#ac5462"/>
<circle cx="489.2" cy="142.0" r="2.7" fill="#f9a048" stroke="#db803d"/>
<circle cx="536.3" cy="136.6" r="2.7" fill="#d87a64" stroke="#be6156"/>
<circle cx="505.4" cy="129.7" r="2.7" fill="#dc7e61" stroke="#c16453"/>
<circle cx="556.2" cy="105.5" r="2.7" fill="#ab557e" stroke="#96446c"/>
<circle cx="500.1" cy="127.3" r="2.7" fill="#ef9252" stroke="#d27446"/>
<circle cx="556.6" cy="102.9" r="2.7" fill="#ab567e" stroke="#96446c"/>
<circle cx="501.5" cy="109.6" r="2.7" fill="#e98c56" stroke="#cd7049"/>
<circle cx="497.3" cy="99.5" r="2.7" fill="#f4994d" stroke="#d67a42"/>
<circle cx="554.5" cy="103.6" r="2.7" fill="#994685" stroke="#863872"/>
<circle cx="503.6" cy="98.6" r="2.7" fill="#ef9351" stroke="#d27545"/>
<circle cx="531.8" cy="103.8" r="2.7" fill="#9e4a83" stroke="#8b3b70"/>
<circle cx="536.7" cy="109.2" r="2.7" fill="#b45d7a" stroke="#9e4a68"/>
<circle cx="531.6" cy="132.2" r="2.7" fill="#cc706d" stroke="#b3595d"/>
<circle cx="537.3" cy="123.7" r="2.7" fill="#ce716c" stroke="#b55a5c"/>
<circle cx="509.0" cy="127.3" r="2.7" fill="#d97b64" stroke="#be6256"/>
<circle cx="538.0" cy="107.1" r="2.7" fill="#b35c7b" stroke="#9d4969"/>
<circle cx="554.9" cy="94.3" r="2.7" fill="#b05a7c" stroke="#9a486a"/>
<circle cx="546.1" cy="125.3" r="2.7" fill="#8a3c89" stroke="#793075"/>
<circle cx="489.5" cy="139.6" r="2.7" fill="#f9a148" stroke="#db803d"/>
<circle cx="502.2" cy="91.7" r="2.7" fill="#eb8e55" stroke="#ce7149"/>
<circle cx="525.9" cy="124.9" r="2.7" fill="#b0597c" stroke="#9a476a"/>
<circle cx="482.4" cy="116.8" r="2.7" fill="#f79c4a" stroke="#d97c3f"/>
<circle cx="519.0" cy="117.8" r="2.7" fill="#a04c82" stroke="#8c3c6f"/>
<circle cx="531.6" cy="129.8" r="2.7" fill="#ad577d" stroke="#98456b"/>
<circle cx="545.4" cy="90.6" r="2.7" fill="#903f88" stroke="#7e3274"/>
<circle cx="488.5" cy="138.9" r="2.7" fill="#f79e4a" stroke="#d97e3f"/>
<circle cx="556.0" cy="129.3" r="2.7" fill="#a9547f" stroke="#94436d"/>
<circle cx="550.5" cy="152.1" r="2.7" fill="#a9547f" stroke="#94436d"/>
<circle cx="535.7" cy="145.0" r="2.7" fill="#9c4a84" stroke="#893b71"/>
<circle cx="556.2" cy="89.0" r="2.7" fill="#9c4a84" stroke="#893b71"/>
<circle cx="541.6" cy="123.6" r="2.7" fill="#a04c82" stroke="#8c3c6f"/>
<circle cx="501.2" cy="134.3" r="2.7" fill="#f79d4a" stroke="#d97d3f"/>
<circle cx="513.6" cy="115.5" r="2.7" fill="#e2845c" stroke="#c6694f"/>
<circle cx="581.2" cy="86.9" r="2.7" fill="#a9547f" stroke="#94436d"/>
<circle cx="499.3" cy="119.7" r="2.7" fill="#f9a048" stroke="#db803d"/>
<circle cx="513.1" cy="120.3" r="2.7" fill="#d77966" stroke="#bd6057"/>
<circle cx="552.0" cy="118.7" r="2.7" fill="#914088" stroke="#7f3374"/>
<circle cx="509.5" cy="149.5" r="2.7" fill="#dd7f60" stroke="#c26552"/>
<circle cx="552.8" cy="102.0" r="2.7" fill="#a04c82" stroke="#8c3c6f"/>
<circle cx="519.9" cy="143.1" r="2.7" fill="#dc7e61" stroke="#c16453"/>
<circle cx="498.8" cy="122.7" r="2.7" fill="#ef9351" stroke="#d27545"/>
<circle cx="520.7" cy="132.5" r="2.7" fill="#e0825e" stroke="#c56850"/>
<circle cx="509.0" cy="150.3" r="2.7" fill="#d77965" stroke="#bd6056"/>
<circle cx="541.6" cy="130.3" r="2.7" fill="#9b4884" stroke="#883971"/>
<circle cx="525.5" cy="126.2" r="2.7" fill="#d97b64" stroke="#be6256"/>
<circle cx="483.0" cy="136.5" r="2.7" fill="#f59a4c" stroke="#d77b41"/>
<circle cx="484.0" cy="116.8" r="2.7" fill="#f79d4a" stroke="#d97d3f"/>
<circle cx="501.9" cy="145.5" r="2.7" fill="#f4984d" stroke="#d67942"/>
<circle cx="503.3" cy="93.7" r="2.7" fill="#f2964f" stroke="#d47843"/>
<circle cx="504.5" cy="104.3" r="2.7" fill="#f09451" stroke="#d37645"/>
<circle cx="484.3" cy="121.6" r="2.7" fill="#f59a4c" stroke="#d77b41"/>
<circle cx="526.4" cy="133.7" r="2.7" fill="#d1746a" stroke="#b75c5b"/>
<circle cx="517.0" cy="136.9" r="2.7" fill="#d67866" stroke="#bc6057"/>
<circle cx="483.5" cy="137.5" r="2.7" fill="#f89e49" stroke="#da7e3e"/>
<circle cx="519.7" cy="136.2" r="2.7" fill="#e4865b" stroke="#c86b4e"/>
<circle cx="533.3" cy="125.7" r="2.7" fill="#da7c63" stroke="#bf6355"/>
<circle cx="503.7" cy="107.9" r="2.7" fill="#dc7e62" stroke="#c16454"/>
<circle cx="512.0" cy="101.4" r="2.7" fill="#ac577d" stroke="#97456b"/>
<circle cx="497.9" cy="105.1" r="2.7" fill="#f69b4b" stroke="#d87c40"/>
<circle cx="494.2" cy="135.0" r="2.7" fill="#f5994c" stroke="#d77a41"/>
<circle cx="532.5" cy="117.6" r="2.7" fill="#9b4984" stroke="#883a71"/>
<circle cx="557.8" cy="95.5" r="2.7" fill="#a45081" stroke="#90406e"/>
<circle cx="520.1" cy="123.0" r="2.7" fill="#a45081" stroke="#90406e"/>
<circle cx="498.3" cy="94.7" r="2.7" fill="#f3974e" stroke="#d57843"/>
<circle cx="532.0" cy="123.1" r="2.7" fill="#ce716c" stroke="#b55a5c"/>
<circle cx="488.9" cy="141.1" r="2.7" fill="#faa247" stroke="#dc813d"/>
<circle cx="536.1" cy="111.7" r="2.7" fill="#bd6476" stroke="#a65065"/>
<circle cx="547.2" cy="107.8" r="2.7" fill="#984585" stroke="#853772"/>
<circle cx="528.0" cy="110.0" r="2.7" fill="#9d4a83" stroke="#8a3b70"/>
<circle cx="492.0" cy="107.0" r="2.7" fill="#f89e49" stroke="#da7e3e"/>
<circle cx="526.4" cy="116.9" r="2.7" fill="#ac567e" stroke="#97446c"/>
<circle cx="508.3" cy="118.9" r="2.7" fill="#db7d62" stroke="#c06454"/>
<circle cx="519.4" cy="133.5" r="2.7" fill="#da7c63" stroke="#bf6355"/>
<circle cx="520.4" cy="107.2" r="2.7" fill="#ab567e" stroke="#96446c"/>
<circle cx="489.0" cy="133.1" r="2.7" fill="#f89f49" stroke="#da7f3e"/>
<circle cx="512.3" cy="123.6" r="2.7" fill="#a04c82" stroke="#8c3c6f"/>
<circle cx="521.6" cy="163.9" r="2.7" fill="#ec8f54" stroke="#cf7248"/>
<circle cx="490.5" cy="106.5" r="2.7" fill="#f3974e" stroke="#d57843"/>
<circle cx="542.2" cy="105.5" r="2.7" fill="#a24e82" stroke="#8e3e6f"/>
<circle cx="509.3" cy="147.7" r="2.7" fill="#d1746a" stroke="#b75c5b"/>
<circle cx="483.6" cy="112.9" r="2.7" fill="#f4994d" stroke="#d67a42"/>
<circle cx="488.2" cy="128.0" r="2.7" fill="#f89f49" stroke="#da7f3e"/>
<circle cx="536.0" cy="105.7" r="2.7" fill="#a75380" stroke="#92426e"/>
<circle cx="482.3" cy="122.6" r="2.7" fill="#f9a048" stroke="#db803d"/>
<circle cx="547.9" cy="108.1" r="2.7" fill="#8c3d89" stroke="#7b3075"/>
<circle cx="492.4" cy="121.3" r="2.7" fill="#f79d4a" stroke="#d97d3f"/>
<circle cx="492.5" cy="145.9" r="2.7" fill="#f69b4b" stroke="#d87c40"/>
<circle cx="490.3" cy="146.3" r="2.7" fill="#f3984e" stroke="#d57943"/>
<circle cx="532.2" cy="105.7" r="2.7" fill="#a8547f" stroke="#93436d"/>
<circle cx="482.1" cy="115.3" r="2.7" fill="#f79e4a" stroke="#d97e3f"/>
<circle cx="532.5" cy="118.9" r="2.7" fill="#dc7e61" stroke="#c16453"/>
<circle cx="495.0" cy="136.7" r="2.7" fill="#f9a048" stroke="#db803d"/>
<circle cx="499.1" cy="132.1" r="2.7" fill="#f2964f" stroke="#d47843"/>
<circle cx="521.5" cy="130.7" r="2.7" fill="#ca6e6f" stroke="#b1585f"/>
<circle cx="510.2" cy="139.3" r="2.7" fill="#d67867" stroke="#bc6058"/>
<circle cx="470.3" cy="128.9" r="2.7" fill="#f9a048" stroke="#db803d"/>
<circle cx="536.0" cy="111.7" r="2.7" fill="#b05a7c" stroke="#9a486a"/>
<circle cx="526.2" cy="126.5" r="2.7" fill="#e0825e" stroke="#c56850"/>
<circle cx="527.4" cy="118.9" r="2.7" fill="#aa557f" stroke="#95446d"/>
<circle cx="581.3" cy="112.5" r="2.7" fill="#b65e7a" stroke="#a04b68"/>
<circle cx="511.9" cy="96.5" r="2.7" fill="#ae587d" stroke="#99466b"/>
<circle cx="514.7" cy="121.7" r="2.7" fill="#934187" stroke="#813474"/>
<circle cx="535.4" cy="122.0" r="2.7" fill="#d67866" stroke="#bc6057"/>
<circle cx="531.3" cy="101.6" r="2.7" fill="#aa547f" stroke="#95436d"/>
<circle cx="551.4" cy="146.4" r="2.7" fill="#9c4a84" stroke="#893b71"/>
<circle cx="538.1" cy="120.8" r="2.7" fill="#cd716c" stroke="#b45a5c"/>
<circle cx="525.6" cy="100.2" r="2.7" fill="#a75280" stroke="#92416e"/>
<circle cx="493.9" cy="119.3" r="2.7" fill="#f9a148" stroke="#db803d"/>
<circle cx="483.3" cy="140.5" r="2.7" fill="#f69c4b" stroke="#d87c40"/>
<circle cx="488.3" cy="138.8" r="2.7" fill="#f9a048" stroke="#db803d"/>
<circle cx="503.3" cy="130.7" r="2.7" fill="#d97b64" stroke="#be6256"/>
<circle cx="509.9" cy="103.8" r="2.7" fill="#ab557e" stroke="#96446c"/>
<circle cx="513.8" cy="111.5" r="2.7" fill="#df815f" stroke="#c46751"/>
<circle cx="532.4" cy="92.8" r="2.7" fill="#401c91" stroke="#38167c"/>
<circle cx="526.7" cy="126.6" r="2.7" fill="#af597c" stroke="#9a476a"/>
<circle cx="536.8" cy="111.4" r="2.7" fill="#974585" stroke="#843772"/>
<circle cx="488.8" cy="119.1" r="2.7" fill="#faa147" stroke="#dc803d"/>
<circle cx="497.5" cy="134.4" r="2.7" fill="#f4994d" stroke="#d67a42"/>
<circle cx="490.7" cy="131.9" r="2.7" fill="#faa247" stroke="#dc813d"/>
<circle cx="521.1" cy="97.0" r="2.7" fill="#a34f81" stroke="#8f3f6e"/>
<circle cx="515.3" cy="104.3" r="2.7" fill="#aa557f" stroke="#95446d"/>
<circle cx="496.7" cy="94.0" r="2.7" fill="#f69c4b" stroke="#d87c40"/>
<circle cx="498.2" cy="105.6" r="2.7" fill="#f4994d" stroke="#d67a42"/>
<circle cx="487.9" cy="126.6" r="2.7" fill="#f89e49" stroke="#da7e3e"/>
<circle cx="498.8" cy="129.1" r="2.7" fill="#f4984d" stroke="#d67942"/>
<circle cx="499.0" cy="149.3" r="2.7" fill="#f4994d" stroke="#d67a42"/>
<circle cx="581.2" cy="106.9" r="2.7" fill="#b0597c" stroke="#9a476a"/>
<circle cx="525.5" cy="136.9" r="2.7" fill="#d77965" stroke="#bd6056"/>
<circle cx="515.7" cy="148.3" r="2.7" fill="#e4865b" stroke="#c86b4e"/>
<circle cx="528.2" cy="135.6" r="2.7" fill="#cf726b" stroke="#b65b5c"/>
<circle cx="484.1" cy="133.1" r="2.7" fill="#f79e4a" stroke="#d97e3f"/>
<circle cx="507.4" cy="133.1" r="2.7" fill="#d47668" stroke="#ba5e59"/>
<circle cx="515.2" cy="122.0" r="2.7" fill="#aa557f" stroke="#95446d"/>
<circle cx="504.4" cy="119.7" r="2.7" fill="#ee9153" stroke="#d17447"/>
<circle cx="527.1" cy="134.7" r="2.7" fill="#d37569" stroke="#b95d5a"/>
<circle cx="469.5" cy="113.8" r="2.7" fill="#f79e4a" stroke="#d97e3f"/>
<circle cx="530.5" cy="131.5" r="2.7" fill="#da7c63" stroke="#bf6355"/>
<circle cx="514.0" cy="104.2" r="2.7" fill="#a34f81" stroke="#8f3f6e"/>
<circle cx="483.2" cy="128.2" r="2.7" fill="#f89e49" stroke="#da7e3e"/>
<circle cx="489.2" cy="109.6" r="2.7" fill="#f69b4b" stroke="#d87c40"/>
<circle cx="514.0" cy="124.9" r="2.7" fill="#e68859" stroke="#ca6c4c"/>
<circle cx="514.4" cy="124.9" r="2.7" fill="#bc6377" stroke="#a54f66"/>
<circle cx="524.4" cy="98.9" r="2.7" fill="#ac567e" stroke="#97446c"/>
<circle cx="547.6" cy="124.9" r="2.7" fill="#903f88" stroke="#7e3274"/>
<circle cx="508.9" cy="127.9" r="2.7" fill="#dd7f60" stroke="#c26552"/>
<circle cx="529.5" cy="131.8" r="2.7" fill="#bc6377" stroke="#a54f66"/>
<circle cx="504.1" cy="146.9" r="2.7" fill="#f09450" stroke="#d37644"/>
<circle cx="522.1" cy="139.0" r="2.7" fill="#d97b64" stroke="#be6256"/>
<circle cx="508.6" cy="103.7" r="2.7" fill="#914088" stroke="#7f3374"/>
<circle cx="503.7" cy="115.5" r="2.7" fill="#ed9053" stroke="#d07347"/>
<circle cx="496.5" cy="126.8" r="2.7" fill="#f3974e" stroke="#d57843"/>
<circle cx="503.5" cy="140.8" r="2.7" fill="#ef9251" stroke="#d27445"/>
<circle cx="540.6" cy="114.9" r="2.7" fill="#af597c" stroke="#9a476a"/>
<circle cx="556.9" cy="107.3" r="2.7" fill="#9f4c83" stroke="#8b3c70"/>
<circle cx="489.7" cy="136.3" r="2.7" fill="#f89f49" stroke="#da7f3e"/>
<circle cx="490.9" cy="115.7" r="2.7" fill="#f3974e" stroke="#d57843"/>
<circle cx="516.4" cy="165.1" r="2.7" fill="#d47668" stroke="#ba5e59"/>
<circle cx="509.2" cy="123.8" r="2.7" fill="#a55180" stroke="#91406e"/>
<circle cx="520.6" cy="117.8" r="2.7" fill="#a9547f" stroke="#94436d"/>
<circle cx="486.3" cy="145.9" r="2.7" fill="#f3974e" stroke="#d57843"/>
<circle cx="537.0" cy="121.1" r="2.7" fill="#c06675" stroke="#a85164"/>
<circle cx="487.5" cy="121.4" r="2.7" fill="#f69c4b" stroke="#d87c40"/>
<circle cx="519.0" cy="131.5" r="2.7" fill="#cb6f6e" stroke="#b2585e"/>
<circle cx="534.9" cy="100.5" r="2.7" fill="#ae587d" stroke="#99466b"/>
<circle cx="483.3" cy="119.7" r="2.7" fill="#f9a148" stroke="#db803d"/>
<circle cx="484.3" cy="125.9" r="2.7" fill="#fba446" stroke="#dc833c"/>
<circle cx="552.7" cy="115.5" r="2.7" fill="#9d4a83" stroke="#8a3b70"/>
<circle cx="470.0" cy="118.3" r="2.7" fill="#faa147" stroke="#dc803d"/>
<circle cx="501.7" cy="137.2" r="2.7" fill="#f89f49" stroke="#da7f3e"/>
<circle cx="546.3" cy="106.3" r="2.7" fill="#8e3e88" stroke="#7c3174"/>
<circle cx="484.0" cy="136.4" r="2.7" fill="#f9a148" stroke="#db803d"/>
<circle cx="514.0" cy="125.8" r="2.7" fill="#da7c63" stroke="#bf6355"/>
<circle cx="529.3" cy="172.2" r="2.7" fill="#c06675" stroke="#a85164"/>
<circle cx="550.4" cy="103.5" r="2.7" fill="#914088" stroke="#7f3374"/>
<circle cx="581.5" cy="107.4" r="2.7" fill="#b05a7c" stroke="#9a486a"/>
<circle cx="557.2" cy="113.5" r="2.7" fill="#ac577e" stroke="#97456c"/>
<circle cx="488.3" cy="126.9" r="2.7" fill="#f9a148" stroke="#db803d"/>
<circle cx="509.2" cy="88.5" r="2.7" fill="#a14e82" stroke="#8d3e6f"/>
<circle cx="504.8" cy="145.3" r="2.7" fill="#f09450" stroke="#d37644"/>
<circle cx="487.4" cy="131.8" r="2.7" fill="#f89f49" stroke="#da7f3e"/>
<circle cx="553.6" cy="99.9" r="2.7" fill="#a14d82" stroke="#8d3d6f"/>
<circle cx="504.8" cy="149.0" r="2.7" fill="#e98c56" stroke="#cd7049"/>
<circle cx="531.6" cy="120.0" r="2.7" fill="#cc706d" stroke="#b3595d"/>
<circle cx="483.7" cy="147.3" r="2.7" fill="#f89e4a" stroke="#da7e3f"/>
<circle cx="523.8" cy="123.8" r="2.7" fill="#e78958" stroke="#cb6d4b"/>
<circle cx="535.7" cy="149.5" r="2.7" fill="#903f88" stroke="#7e3274"/>
<circle cx="499.6" cy="116.1" r="2.7" fill="#f4984d" stroke="#d67942"/>
<circle cx="514.5" cy="110.2" r="2.7" fill="#d87a65" stroke="#be6156"/>
<circle cx="470.2" cy="113.9" r="2.7" fill="#f79e4a" stroke="#d97e3f"/>
<circle cx="484.3" cy="115.2" r="2.7" fill="#f89e49" stroke="#da7e3e"/>
<circle cx="520.5" cy="118.1" r="2.7" fill="#a14d82" stroke="#8d3d6f"/>
<circle cx="498.2" cy="138.0" r="2.7" fill="#f2954f" stroke="#d47743"/>
<circle cx="508.0" cy="109.1" r="2.7" fill="#e2845d" stroke="#c6694f"/>
<circle cx="528.6" cy="121.4" r="2.7" fill="#ae587d" stroke="#99466b"/>
<circle cx="521.8" cy="119.1" r="2.7" fill="#e0825e" stroke="#c56850"/>
<circle cx="483.6" cy="113.8" r="2.7" fill="#fba446" stroke="#dc833c"/>
<circle cx="525.8" cy="98.7" r="2.7" fill="#b55e7a" stroke="#9f4b68"/>
<circle cx="496.4" cy="97.1" r="2.7" fill="#f59a4c" stroke="#d77b41"/>
<circle cx="492.1" cy="137.9" r="2.7" fill="#f89e49" stroke="#da7e3e"/>
<circle cx="536.5" cy="134.0" r="2.7" fill="#cb6f6e" stroke="#b2585e"/>
<circle cx="548.0" cy="125.3" r="2.7" fill="#893b89" stroke="#782f75"/>
<circle cx="508.8" cy="124.5" r="2.7" fill="#dc7e61" stroke="#c16453"/>
<circle cx="507.6" cy="123.4" r="2.7" fill="#a65180" stroke="#92406e"/>
<circle cx="487.1" cy="127.8" r="2.7" fill="#f9a048" stroke="#db803d"/>
<circle cx="514.8" cy="133.4" r="2.7" fill="#de8060" stroke="#c36652"/>
<circle cx="508.2" cy="115.4" r="2.7" fill="#ab567e" stroke="#96446c"/>
<circle cx="532.7" cy="117.9" r="2.7" fill="#c76b71" stroke="#af5561"/>
<circle cx="470.0" cy="121.1" r="2.7" fill="#f9a048" stroke="#db803d"/>
<circle cx="545.3" cy="109.6" r="2.7" fill="#a24e82" stroke="#8e3e6f"/>
<circle cx="557.1" cy="115.3" r="2.7" fill="#ab557e" stroke="#96446c"/>
<circle cx="548.8" cy="97.8" r="2.7" fill="#974586" stroke="#843773"/>
<circle cx="505.6" cy="107.3" r="2.7" fill="#ec8e54" stroke="#cf7148"/>
<circle cx="503.6" cy="142.0" r="2.7" fill="#ee9153" stroke="#d17447"/>
<circle cx="548.8" cy="95.5" r="2.7" fill="#974585" stroke="#843772"/>
<circle cx="470.2" cy="141.0" r="2.7" fill="#f89e4a" stroke="#da7e3f"/>
<circle cx="532.4" cy="102.8" r="2.7" fill="#a55081" stroke="#91406e"/>
<circle cx="521.4" cy="109.3" r="2.7" fill="#a9547f" stroke="#94436d"/>
<circle cx="546.7" cy="90.0" r="2.7" fill="#8b3c89" stroke="#7a3075"/>
<circle cx="509.0" cy="149.3" r="2.7" fill="#e4865b" stroke="#c86b4e"/>
<circle cx="517.5" cy="138.8" r="2.7" fill="#db7d62" stroke="#c06454"/>
<circle cx="540.3" cy="97.7" r="2.7" fill="#b05a7c" stroke="#9a486a"/>
<circle cx="535.2" cy="104.7" r="2.7" fill="#a24e82" stroke="#8e3e6f"/>
<circle cx="525.6" cy="112.4" r="2.7" fill="#9f4c82" stroke="#8b3c6f"/>
<circle cx="507.1" cy="115.9" r="2.7" fill="#e0825e" stroke="#c56850"/>
<circle cx="522.2" cy="126.7" r="2.7" fill="#d77965" stroke="#bd6056"/>
<circle cx="533.0" cy="92.8" r="2.7" fill="#3f1b91" stroke="#37157c"/>
<circle cx="519.8" cy="136.9" r="2.7" fill="#d37569" stroke="#b95d5a"/>
<circle cx="499.5" cy="124.9" r="2.7" fill="#f4984d" stroke="#d67942"/>
<circle cx="525.7" cy="94.2" r="2.7" fill="#974586" stroke="#843773"/>
<circle cx="523.0" cy="108.5" r="2.7" fill="#ad577d" stroke="#98456b"/>
<circle cx="514.9" cy="113.7" r="2.7" fill="#e0825e" stroke="#c56850"/>
<circle cx="526.7" cy="116.4" r="2.7" fill="#d47668" stroke="#ba5e59"/>
<circle cx="509.6" cy="129.1" r="2.7" fill="#d97b64" stroke="#be6256"/>
<circle cx="514.0" cy="100.3" r="2.7" fill="#984685" stroke="#853872"/>
<circle cx="532.7" cy="136.9" r="2.7" fill="#d27469" stroke="#b85c5a"/>
<circle cx="470.4" cy="131.0" r="2.7" fill="#faa347" stroke="#dc823d"/>
<circle cx="481.4" cy="112.4" r="2.7" fill="#f89f49" stroke="#da7f3e"/>
<circle cx="509.4" cy="151.2" r="2.7" fill="#d87a64" stroke="#be6156"/>
<circle cx="535.9" cy="128.6" r="2.7" fill="#c66b71" stroke="#ae5561"/>
<circle cx="514.5" cy="134.4" r="2.7" fill="#dd7f61" stroke="#c26553"/>
<circle cx="498.9" cy="154.7" r="2.7" fill="#f79d4a" stroke="#d97d3f"/>
<circle cx="533.3" cy="90.1" r="2.7" fill="#411c91" stroke="#39167c"/>
<circle cx="504.1" cy="148.7" r="2.7" fill="#ed9053" stroke="#d07347"/>
<circle cx="505.1" cy="101.5" r="2.7" fill="#f69c4b" stroke="#d87c40"/>
<circle cx="504.4" cy="136.0" r="2.7" fill="#f59a4c" stroke="#d77b41"/>
<circle cx="506.4" cy="125.5" r="2.7" fill="#e0825e" stroke="#c56850"/>
<circle cx="499.2" cy="128.8" r="2.7" fill="#f4984d" stroke="#d67942"/>
<circle cx="514.2" cy="103.8" r="2.7" fill="#a55081" stroke="#91406e"/>
<circle cx="525.7" cy="176.9" r="2.7" fill="#bb6277" stroke="#a44e66"/>
<circle cx="532.1" cy="127.4" r="2.7" fill="#c96d6f" stroke="#b0575f"/>
<circle cx="508.0" cy="91.8" r="2.7" fill="#b25b7b" stroke="#9c4869"/>
<circle cx="519.9" cy="99.8" r="2.7" fill="#bb6277" stroke="#a44e66"/>
<circle cx="555.2" cy="93.2" r="2.7" fill="#ad577d" stroke="#98456b"/>
<circle cx="517.9" cy="115.2" r="2.7" fill="#dd7f61" stroke="#c26553"/>
<circle cx="489.1" cy="111.5" r="2.7" fill="#faa247" stroke="#dc813d"/>
<circle cx="515.4" cy="101.5" r="2.7" fill="#af597c" stroke="#9a476a"/>
<circle cx="496.6" cy="120.2" r="2.7" fill="#f89f49" stroke="#da7f3e"/>
<circle cx="530.7" cy="139.4" r="2.7" fill="#dc7e61" stroke="#c16453"/>
<circle cx="539.9" cy="107.0" r="2.7" fill="#9f4c83" stroke="#8b3c70"/>
<circle cx="537.8" cy="108.0" r="2.7" fill="#b55d7a" stroke="#9f4a68"/>
<circle cx="531.5" cy="117.7" r="2.7" fill="#a8547f" stroke="#93436d"/>
<circle cx="535.1" cy="133.7" r="2.7" fill="#d97b64" stroke="#be6256"/>
<circle cx="509.7" cy="111.7" r="2.7" fill="#de805f" stroke="#c36651"/>
<circle cx="526.3" cy="104.8" r="2.7" fill="#9e4b83" stroke="#8b3c70"/>
<circle cx="533.3" cy="120.9" r="2.7" fill="#aa547f" stroke="#95436d"/>
<circle cx="533.6" cy="135.0" r="2.7" fill="#d0736a" stroke="#b75c5b"/>
<circle cx="549.6" cy="115.6" r="2.7" fill="#8a3c89" stroke="#793075"/>
<circle cx="513.4" cy="122.3" r="2.7" fill="#ab567e" stroke="#96446c"/>
<circle cx="526.0" cy="71.0" r="2.7" fill="#bb6277" stroke="#a44e66"/>
<circle cx="514.5" cy="116.9" r="2.7" fill="#b75f79" stroke="#a14c68"/>
<circle cx="502.7" cy="115.8" r="2.7" fill="#e4865b" stroke="#c86b4e"/>
<circle cx="502.1" cy="139.2" r="2.7" fill="#f4984d" stroke="#d67942"/>
<circle cx="543.6" cy="112.8" r="2.7" fill="#934287" stroke="#813474"/>
<circle cx="515.0" cy="122.6" r="2.7" fill="#e0825e" stroke="#c56850"/>
<circle cx="525.0" cy="119.2" r="2.7" fill="#a8537f" stroke="#93426d"/>
<circle cx="488.3" cy="133.9" r="2.7" fill="#fba346" stroke="#dc823c"/>
<circle cx="487.7" cy="114.2" r="2.7" fill="#f9a148" stroke="#db803d"/>
<circle cx="521.8" cy="124.9" r="2.7" fill="#d97b64" stroke="#be6256"/>
<circle cx="489.6" cy="132.5" r="2.7" fill="#f4994d" stroke="#d67a42"/>
<circle cx="482.9" cy="130.8" r="2.7" fill="#f8a049" stroke="#da803e"/>
<circle cx="518.9" cy="120.3" r="2.7" fill="#ce716c" stroke="#b55a5c"/>
<circle cx="482.9" cy="127.8" r="2.7" fill="#f9a148" stroke="#db803d"/>
<circle cx="527.3" cy="130.2" r="2.7" fill="#d77965" stroke="#bd6056"/>
<circle cx="551.7" cy="109.2" r="2.7" fill="#a04c82" stroke="#8c3c6f"/>
<circle cx="533.0" cy="117.9" r="2.7" fill="#dc7e62" stroke="#c16454"/>
<circle cx="517.0" cy="142.6" r="2.7" fill="#d97b64" stroke="#be6256"/>
<circle cx="509.1" cy="111.0" r="2.7" fill="#a34f81" stroke="#8f3f6e"/>
<circle cx="470.0" cy="134.6" r="2.7" fill="#f69b4b" stroke="#d87c40"/>
<circle cx="537.4" cy="114.4" r="2.7" fill="#c06675" stroke="#a85164"/>
<circle cx="546.7" cy="142.0" r="2.7" fill="#903f88" stroke="#7e3274"/>
<circle cx="549.2" cy="108.8" r="2.7" fill="#964486" stroke="#843673"/>
<circle cx="520.6" cy="144.1" r="2.7" fill="#da7c63" stroke="#bf6355"/>
<circle cx="469.7" cy="128.0" r="2.7" fill="#f9a048" stroke="#db803d"/>
<circle cx="510.5" cy="108.0" r="2.7" fill="#cf726b" stroke="#b65b5c"/>
<circle cx="540.8" cy="99.9" r="2.7" fill="#a45081" stroke="#90406e"/>
<circle cx="523.5" cy="115.2" r="2.7" fill="#964486" stroke="#843673"/>
<circle cx="525.6" cy="132.5" r="2.7" fill="#cb6f6e" stroke="#b2585e"/>
<circle cx="493.9" cy="111.5" r="2.7" fill="#f4994d" stroke="#d67a42"/>
<circle cx="520.8" cy="119.3" r="2.7" fill="#e68859" stroke="#ca6c4c"/>
<circle cx="536.0" cy="107.3" r="2.7" fill="#a8537f" stroke="#93426d"/>
<circle cx="547.8" cy="110.4" r="2.7" fill="#7c358b" stroke="#6d2a77"/>
<circle cx="556.6" cy="94.9" r="2.7" fill="#a34f81" stroke="#8f3f6e"/>
<circle cx="507.8" cy="115.9" r="2.7" fill="#ad577d" stroke="#98456b"/>
<circle cx="481.5" cy="129.3" r="2.7" fill="#f89f49" stroke="#da7f3e"/>
<circle cx="521.0" cy="131.9" r="2.7" fill="#dc7e62" stroke="#c16454"/>
<circle cx="527.4" cy="125.8" r="2.7" fill="#dc7e61" stroke="#c16453"/>
<circle cx="537.7" cy="123.0" r="2.7" fill="#d57767" stroke="#bb5f58"/>
<circle cx="509.2" cy="134.6" r="2.7" fill="#d37569" stroke="#b95d5a"/>
<circle cx="501.1" cy="123.1" r="2.7" fill="#f2964f" stroke="#d47843"/>
<circle cx="469.5" cy="122.6" r="2.7" fill="#f89f49" stroke="#da7f3e"/>
<circle cx="502.6" cy="83.4" r="2.7" fill="#f3984e" stroke="#d57943"/>
<circle cx="521.9" cy="143.7" r="2.7" fill="#db7d62" stroke="#c06454"/>
<circle cx="581.1" cy="116.0" r="2.7" fill="#b35c7b" stroke="#9d4969"/>
<circle cx="526.0" cy="109.3" r="2.7" fill="#ab557e" stroke="#96446c"/>
<circle cx="510.9" cy="82.6" r="2.7" fill="#76328c" stroke="#672878"/>
<circle cx="491.9" cy="141.2" r="2.7" fill="#f79e4a" stroke="#d97e3f"/>
<circle cx="492.0" cy="121.4" r="2.7" fill="#faa147" stroke="#dc803d"/>
<circle cx="526.4" cy="113.7" r="2.7" fill="#d67866" stroke="#bc6057"/>
<circle cx="518.2" cy="115.9" r="2.7" fill="#e2845c" stroke="#c6694f"/>
<circle cx="490.9" cy="143.7" r="2.7" fill="#f79d4a" stroke="#d97d3f"/>
<circle cx="504.1" cy="102.6" r="2.7" fill="#f4994d" stroke="#d67a42"/>
<circle cx="469.7" cy="138.2" r="2.7" fill="#f9a148" stroke="#db803d"/>
<circle cx="502.0" cy="130.5" r="2.7" fill="#f9a048" stroke="#db803d"/>
<circle cx="484.1" cy="127.5" r="2.7" fill="#f79d4a" stroke="#d97d3f"/>
<circle cx="502.9" cy="119.2" r="2.7" fill="#f1954f" stroke="#d47743"/>
<circle cx="470.8" cy="136.1" r="2.7" fill="#fba346" stroke="#dc823c"/>
<circle cx="529.5" cy="117.9" r="2.7" fill="#a9547f" stroke="#94436d"/>
<circle cx="530.9" cy="119.2" r="2.7" fill="#dc7e61" stroke="#c16453"/>
<circle cx="516.9" cy="120.2" r="2.7" fill="#aa557f" stroke="#95446d"/>
<circle cx="535.0" cy="99.0" r="2.7" fill="#a75280" stroke="#92416e"/>
<circle cx="491.2" cy="133.5" r="2.7" fill="#f69c4b" stroke="#d87c40"/>
<circle cx="536.9" cy="99.9" r="2.7" fill="#bd6376" stroke="#a64f65"/>
<circle cx="486.8" cy="144.3" r="2.7" fill="#f69c4b" stroke="#d87c40"/>
<circle cx="502.4" cy="119.3" r="2.7" fill="#f79e4a" stroke="#d97e3f"/>
<circle cx="493.2" cy="123.3" r="2.7" fill="#f59a4c" stroke="#d77b41"/>
<circle cx="489.4" cy="139.8" r="2.7" fill="#f69c4b" stroke="#d87c40"/>
<circle cx="542.0" cy="116.5" r="2.7" fill="#a8537f" stroke="#93426d"/>
<circle cx="528.7" cy="135.7" r="2.7" fill="#cf726b" stroke="#b65b5c"/>
<circle cx="511.4" cy="147.4" r="2.7" fill="#d67867" stroke="#bc6058"/>
<circle cx="542.7" cy="125.2" r="2.7" fill="#994785" stroke="#863872"/>
<circle cx="525.7" cy="128.9" r="2.7" fill="#da7c63" stroke="#bf6355"/>
<circle cx="537.6" cy="126.4" r="2.7" fill="#c86c70" stroke="#b05660"/>
<circle cx="510.7" cy="137.5" r="2.7" fill="#e4865a" stroke="#c86b4d"/>
<circle cx="546.9" cy="108.5" r="2.7" fill="#873a89" stroke="#762e75"/>
<circle cx="482.8" cy="119.2" r="2.7" fill="#f79d4a" stroke="#d97d3f"/>
<circle cx="484.5" cy="113.5" r="2.7" fill="#f9a148" stroke="#db803d"/>
<circle cx="581.2" cy="62.1" r="2.7" fill="#bb6277" stroke="#a44e66"/>
<circle cx="558.2" cy="100.6" r="2.7" fill="#b05a7c" stroke="#9a486a"/>
<circle cx="496.0" cy="139.0" r="2.7" fill="#ef9252" stroke="#d27446"/>
<circle cx="535.5" cy="132.8" r="2.7" fill="#d27569" stroke="#b85d5a"/>
<circle cx="555.7" cy="118.0" r="2.7" fill="#b45d7a" stroke="#9e4a68"/>
<circle cx="530.3" cy="124.5" r="2.7" fill="#a34f81" stroke="#8f3f6e"/>
<circle cx="532.1" cy="101.3" r="2.7" fill="#491f91" stroke="#40187c"/>
<circle cx="488.4" cy="116.3" r="2.7" fill="#f79d4a" stroke="#d97d3f"/>
<circle cx="492.5" cy="137.3" r="2.7" fill="#f69b4b" stroke="#d87c40"/>
<circle cx="543.3" cy="119.8" r="2.7" fill="#974585" stroke="#843772"/>
<circle cx="518.9" cy="138.6" r="2.7" fill="#d77965" stroke="#bd6056"/>
<circle cx="510.6" cy="125.6" r="2.7" fill="#a34f81" stroke="#8f3f6e"/>
<circle cx="526.7" cy="110.3" r="2.7" fill="#a04d82" stroke="#8c3d6f"/>
<circle cx="525.0" cy="138.7" r="2.7" fill="#da7c63" stroke="#bf6355"/>
<circle cx="543.2" cy="101.1" r="2.7" fill="#b25b7b" stroke="#9c4869"/>
<circle cx="581.2" cy="114.7" r="2.7" fill="#ae587d" stroke="#99466b"/>
<circle cx="540.3" cy="111.9" r="2.7" fill="#a9547f" stroke="#94436d"/>
<circle cx="546.7" cy="114.3" r="2.7" fill="#82388a" stroke="#722c76"/>
<circle cx="522.3" cy="114.1" r="2.7" fill="#e2845c" stroke="#c6694f"/>
<circle cx="537.9" cy="99.3" r="2.7" fill="#b45c7a" stroke="#9e4968"/>
<circle cx="537.1" cy="136.7" r="2.7" fill="#d87a64" stroke="#be6156"/>
<circle cx="507.8" cy="87.4" r="2.7" fill="#b85f79" stroke="#a14c68"/>
<circle cx="541.7" cy="112.4" r="2.7" fill="#a8537f" stroke="#93426d"/>
<circle cx="506.6" cy="131.6" r="2.7" fill="#d97b64" stroke="#be6256"/>
<circle cx="540.3" cy="106.6" r="2.7" fill="#ab557e" stroke="#96446c"/>
<circle cx="520.5" cy="124.6" r="2.7" fill="#9f4c82" stroke="#8b3c6f"/>
<circle cx="581.2" cy="110.0" r="2.7" fill="#c36873" stroke="#ab5362"/>
<circle cx="509.9" cy="109.6" r="2.7" fill="#d87a64" stroke="#be6156"/>
<circle cx="552.5" cy="105.5" r="2.7" fill="#944287" stroke="#823474"/>
<circle cx="557.0" cy="92.6" r="2.7" fill="#a14d82" stroke="#8d3d6f"/>
<circle cx="556.0" cy="98.7" r="2.7" fill="#9d4a83" stroke="#8a3b70"/>
<circle cx="581.1" cy="111.1" r="2.7" fill="#ad577d" stroke="#98456b"/>
<circle cx="518.5" cy="126.2" r="2.7" fill="#da7c63" stroke="#bf6355"/>
<circle cx="547.5" cy="120.8" r="2.7" fill="#7f378b" stroke="#6f2c77"/>
<circle cx="493.6" cy="106.9" r="2.7" fill="#f59b4c" stroke="#d77c41"/>
<circle cx="531.7" cy="138.3" r="2.7" fill="#d97b64" stroke="#be6256"/>
<circle cx="511.8" cy="104.2" r="2.7" fill="#ad577d" stroke="#98456b"/>
<circle cx="509.9" cy="126.5" r="2.7" fill="#bc6377" stroke="#a54f66"/>
<circle cx="516.0" cy="117.9" r="2.7" fill="#e1835d" stroke="#c6684f"/>
<circle cx="493.5" cy="120.7" r="2.7" fill="#f9a148" stroke="#db803d"/>
<circle cx="537.6" cy="124.4" r="2.7" fill="#b45d7a" stroke="#9e4a68"/>
<circle cx="580.7" cy="105.4" r="2.7" fill="#b75f79" stroke="#a14c68"/>
<circle cx="492.8" cy="128.1" r="2.7" fill="#f69c4b" stroke="#d87c40"/>
<circle cx="483.8" cy="137.3" r="2.7" fill="#f79e4a" stroke="#d97e3f"/>
<circle cx="508.5" cy="143.4" r="2.7" fill="#de8060" stroke="#c36652"/>
<circle cx="551.4" cy="84.0" r="2.7" fill="#76328c" stroke="#672878"/>
<circle cx="515.7" cy="109.6" r="2.7" fill="#9a4784" stroke="#873871"/>
<circle cx="536.1" cy="120.5" r="2.7" fill="#d0736a" stroke="#b75c5b"/>
<circle cx="546.4" cy="94.6" r="2.7" fill="#984685" stroke="#853872"/>
<circle cx="580.9" cy="114.4" r="2.7" fill="#b65e79" stroke="#a04b68"/>
<circle cx="486.3" cy="138.7" r="2.7" fill="#f79d4a" stroke="#d97d3f"/>
<circle cx="526.1" cy="123.5" r="2.7" fill="#d47668" stroke="#ba5e59"/>
<circle cx="470.5" cy="123.9" r="2.7" fill="#fca545" stroke="#dd843b"/>
<circle cx="513.5" cy="136.7" r="2.7" fill="#da7c63" stroke="#bf6355"/>
<circle cx="508.2" cy="116.4" r="2.7" fill="#d97b64" stroke="#be6256"/>
<circle cx="508.0" cy="150.3" r="2.7" fill="#d97b63" stroke="#be6255"/>
<circle cx="493.8" cy="127.4" r="2.7" fill="#f3974e" stroke="#d57843"/>
<circle cx="488.7" cy="134.6" r="2.7" fill="#f79d4a" stroke="#d97d3f"/>
<circle cx="581.2" cy="111.6" r="2.7" fill="#b65e79" stroke="#a04b68"/>
<circle cx="505.8" cy="136.6" r="2.7" fill="#fca545" stroke="#dd843b"/>
<circle cx="526.6" cy="126.7" r="2.7" fill="#e2845c" stroke="#c6694f"/>
<circle cx="581.6" cy="114.0" r="2.7" fill="#c46973" stroke="#ac5462"/>
<circle cx="489.7" cy="168.0" r="2.7" fill="#f3974e" stroke="#d57843"/>
<circle cx="531.3" cy="115.3" r="2.7" fill="#a55081" stroke="#91406e"/>
<circle cx="524.6" cy="120.9" r="2.7" fill="#cc6f6d" stroke="#b3585d"/>
<circle cx="527.3" cy="124.7" r="2.7" fill="#d87a64" stroke="#be6156"/>
<circle cx="543.0" cy="127.9" r="2.7" fill="#a9547f" stroke="#94436d"/>
<circle cx="486.5" cy="125.4" r="2.7" fill="#f69c4b" stroke="#d87c40"/>
<circle cx="581.5" cy="109.9" r="2.7" fill="#a9547f" stroke="#94436d"/>
<circle cx="519.4" cy="142.4" r="2.7" fill="#cf726b" stroke="#b65b5c"/>
<circle cx="535.2" cy="121.7" r="2.7" fill="#b65e79" stroke="#a04b68"/>
<circle cx="508.3" cy="123.1" r="2.7" fill="#d57768" stroke="#bb5f59"/>
<circle cx="525.7" cy="124.6" r="2.7" fill="#e5875a" stroke="#c96c4d"/>
<circle cx="487.2" cy="122.9" r="2.7" fill="#faa247" stroke="#dc813d"/>
<circle cx="514.7" cy="120.2" r="2.7" fill="#e1835e" stroke="#c66850"/>
<circle cx="513.6" cy="114.8" r="2.7" fill="#da7c63" stroke="#bf6355"/>
<circle cx="503.1" cy="135.4" r="2.7" fill="#eb8e55" stroke="#ce7149"/>
<circle cx="527.9" cy="136.6" r="2.7" fill="#de8060" stroke="#c36652"/>
<circle cx="581.5" cy="116.2" r="2.7" fill="#bb6277" stroke="#a44e66"/>
<circle cx="525.1" cy="121.1" r="2.7" fill="#d1746a" stroke="#b75c5b"/>
<circle cx="490.3" cy="115.7" r="2.7" fill="#f4984d" stroke="#d67942"/>
<circle cx="515.9" cy="125.4" r="2.7" fill="#d27469" stroke="#b85c5a"/>
<circle cx="505.5" cy="132.4" r="2.7" fill="#d87a65" stroke="#be6156"/>
<circle cx="492.7" cy="129.3" r="2.7" fill="#f69b4b" stroke="#d87c40"/>
<circle cx="499.3" cy="112.1" r="2.7" fill="#fba446" stroke="#dc833c"/>
<circle cx="516.6" cy="145.1" r="2.7" fill="#cd706d" stroke="#b4595d"/>
<circle cx="513.1" cy="123.1" r="2.7" fill="#994785" stroke="#863872"/>
<circle cx="554.1" cy="102.9" r="2.7" fill="#a14e82" stroke="#8d3e6f"/>
<circle cx="517.3" cy="113.5" r="2.7" fill="#a34f81" stroke="#8f3f6e"/>
<circle cx="493.6" cy="121.3" r="2.7" fill="#f69b4b" stroke="#d87c40"/>
<circle cx="500.6" cy="95.1" r="2.7" fill="#f4984d" stroke="#d67942"/>
<circle cx="506.8" cy="116.0" r="2.7" fill="#cf726b" stroke="#b65b5c"/>
<circle cx="554.3" cy="99.3" r="2.7" fill="#a34f81" stroke="#8f3f6e"/>
<circle cx="530.8" cy="132.8" r="2.7" fill="#da7c63" stroke="#bf6355"/>
<circle cx="527.2" cy="123.1" r="2.7" fill="#de8060" stroke="#c36652"/>
<circle cx="492.0" cy="121.8" r="2.7" fill="#f9a048" stroke="#db803d"/>
<circle cx="526.9" cy="138.0" r="2.7" fill="#da7c63" stroke="#bf6355"/>
<circle cx="514.8" cy="129.1" r="2.7" fill="#d57767" stroke="#bb5f58"/>
<circle cx="493.4" cy="110.7" r="2.7" fill="#faa247" stroke="#dc813d"/>
<circle cx="537.0" cy="96.1" r="2.7" fill="#a55180" stroke="#91406e"/>
<circle cx="520.0" cy="115.8" r="2.7" fill="#ad577d" stroke="#98456b"/>
<circle cx="533.3" cy="152.1" r="2.7" fill="#b45d7a" stroke="#9e4a68"/>
<circle cx="536.1" cy="124.3" r="2.7" fill="#c16675" stroke="#a95164"/>
<circle cx="509.1" cy="116.5" r="2.7" fill="#e0825e" stroke="#c56850"/>
<circle cx="510.0" cy="140.7" r="2.7" fill="#d97b64" stroke="#be6256"/>
<circle cx="493.8" cy="142.6" r="2.7" fill="#f59a4c" stroke="#d77b41"/>
<circle cx="498.6" cy="109.5" r="2.7" fill="#f2964f" stroke="#d47843"/>
<circle cx="548.1" cy="105.2" r="2.7" fill="#8c3d89" stroke="#7b3075"/>
<circle cx="484.2" cy="127.0" r="2.7" fill="#f89f49" stroke="#da7f3e"/>
<circle cx="532.3" cy="131.1" r="2.7" fill="#aa557e" stroke="#95446c"/>
<circle cx="484.2" cy="140.4" r="2.7" fill="#f69b4b" stroke="#d87c40"/>
<circle cx="495.2" cy="128.9" r="2.7" fill="#f69b4b" stroke="#d87c40"/>
<circle cx="511.3" cy="145.7" r="2.7" fill="#df815f" stroke="#c46751"/>
<circle cx="532.7" cy="127.2" r="2.7" fill="#ce726c" stroke="#b55b5c"/>
<circle cx="470.3" cy="115.1" r="2.7" fill="#f89e49" stroke="#da7e3e"/>
<circle cx="557.7" cy="109.8" r="2.7" fill="#a04c82" stroke="#8c3c6f"/>
<circle cx="516.4" cy="139.0" r="2.7" fill="#da7c63" stroke="#bf6355"/>
<circle cx="483.3" cy="134.8" r="2.7" fill="#faa147" stroke="#dc803d"/>
<circle cx="496.2" cy="138.8" r="2.7" fill="#fba446" stroke="#dc833c"/>
<circle cx="520.5" cy="142.0" r="2.7" fill="#de8060" stroke="#c36652"/>
<circle cx="527.4" cy="109.6" r="2.7" fill="#954386" stroke="#833573"/>
<circle cx="515.0" cy="101.2" r="2.7" fill="#a75280" stroke="#92416e"/>
<circle cx="541.8" cy="125.8" r="2.7" fill="#9c4984" stroke="#893a71"/>
<circle cx="556.2" cy="125.0" r="2.7" fill="#a9547f" stroke="#94436d"/>
<circle cx="493.6" cy="123.8" r="2.7" fill="#f3974e" stroke="#d57843"/>
<circle cx="520.4" cy="124.3" r="2.7" fill="#e68959" stroke="#ca6d4c"/>
<circle cx="554.0" cy="90.6" r="2.7" fill="#924087" stroke="#803374"/>
<circle cx="520.3" cy="105.7" r="2.7" fill="#a65280" stroke="#92416e"/>
<circle cx="515.7" cy="135.4" r="2.7" fill="#e3855c" stroke="#c76a4f"/>
<circle cx="470.2" cy="148.7" r="2.7" fill="#f89e4a" stroke="#da7e3f"/>
<circle cx="483.5" cy="138.8" r="2.7" fill="#f9a148" stroke="#db803d"/>
<circle cx="499.5" cy="123.8" r="2.7" fill="#f9a048" stroke="#db803d"/>
<circle cx="581.2" cy="68.0" r="2.7" fill="#bb6277" stroke="#a44e66"/>
<circle cx="489.4" cy="124.9" r="2.7" fill="#f69c4b" stroke="#d87c40"/>
<circle cx="523.9" cy="99.5" r="2.7" fill="#964486" stroke="#843673"/>
<circle cx="498.4" cy="149.8" r="2.7" fill="#ed9153" stroke="#d07447"/>
<circle cx="509.3" cy="124.1" r="2.7" fill="#d47668" stroke="#ba5e59"/>
<circle cx="518.4" cy="121.1" r="2.7" fill="#954486" stroke="#833673"/>
<circle cx="521.2" cy="112.6" r="2.7" fill="#aa547f" stroke="#95436d"/>
<circle cx="532.3" cy="116.3" r="2.7" fill="#cf726b" stroke="#b65b5c"/>
<circle cx="581.2" cy="95.8" r="2.7" fill="#c46972" stroke="#ac5462"/>
<circle cx="494.1" cy="158.4" r="2.7" fill="#f69b4b" stroke="#d87c40"/>
<circle cx="532.7" cy="107.6" r="2.7" fill="#a55180" stroke="#91406e"/>
<circle cx="503.2" cy="145.3" r="2.7" fill="#f79e4a" stroke="#d97e3f"/>
<circle cx="502.7" cy="136.3" r="2.7" fill="#f69b4b" stroke="#d87c40"/>
<circle cx="507.5" cy="126.2" r="2.7" fill="#b96078" stroke="#a24c67"/>
<circle cx="513.3" cy="122.2" r="2.7" fill="#984685" stroke="#853872"/>
<circle cx="490.2" cy="186.2" r="2.7" fill="#f3974e" stroke="#d57843"/>
<circle cx="498.4" cy="125.2" r="2.7" fill="#f3974e" stroke="#d57843"/>
<circle cx="525.1" cy="122.8" r="2.7" fill="#a8547f" stroke="#93436d"/>
<circle cx="509.0" cy="102.0" r="2.7" fill="#a24e82" stroke="#8e3e6f"/>
<circle cx="514.4" cy="139.2" r="2.7" fill="#ce716c" stroke="#b55a5c"/>
<circle cx="531.0" cy="116.5" r="2.7" fill="#954386" stroke="#833573"/>
<circle cx="488.1" cy="139.9" r="2.7" fill="#f9a048" stroke="#db803d"/>
<circle cx="484.2" cy="134.9" r="2.7" fill="#f79d4a" stroke="#d97d3f"/>
<circle cx="548.1" cy="121.9" r="2.7" fill="#984685" stroke="#853872"/>
<circle cx="503.9" cy="125.5" r="2.7" fill="#ec8f54" stroke="#cf7248"/>
<circle cx="488.0" cy="142.5" r="2.7" fill="#f59b4c" stroke="#d77c41"/>
<circle cx="532.8" cy="126.4" r="2.7" fill="#b05a7c" stroke="#9a486a"/>
<circle cx="501.8" cy="128.3" r="2.7" fill="#f3974e" stroke="#d57843"/>
<circle cx="503.1" cy="99.5" r="2.7" fill="#f3974e" stroke="#d57843"/>
<circle cx="504.3" cy="85.2" r="2.7" fill="#ee9152" stroke="#d17446"/>
<circle cx="507.2" cy="108.6" r="2.7" fill="#d57767" stroke="#bb5f58"/>
<circle cx="535.9" cy="118.4" r="2.7" fill="#b96178" stroke="#a24d67"/>
<circle cx="537.5" cy="121.7" r="2.7" fill="#dc7e61" stroke="#c16453"/>
<circle cx="534.0" cy="115.1" r="2.7" fill="#cb6e6e" stroke="#b2585e"/>
<circle cx="532.4" cy="121.9" r="2.7" fill="#b55d7a" stroke="#9f4a68"/>
<circle cx="580.6" cy="108.1" r="2.7" fill="#b15b7b" stroke="#9b4869"/>
<circle cx="531.8" cy="87.8" r="2.7" fill="#3f1b91" stroke="#37157c"/>
<circle cx="495.2" cy="100.7" r="2.7" fill="#f4994d" stroke="#d67a42"/>
<circle cx="545.6" cy="130.9" r="2.7" fill="#9f4c83" stroke="#8b3c70"/>
<circle cx="489.0" cy="116.5" r="2.7" fill="#f89f49" stroke="#da7f3e"/>
<circle cx="535.6" cy="116.8" r="2.7" fill="#d47668" stroke="#ba5e59"/>
<circle cx="511.1" cy="144.8" r="2.7" fill="#d87a65" stroke="#be6156"/>
<circle cx="527.7" cy="133.6" r="2.7" fill="#e98c56" stroke="#cd7049"/>
<circle cx="547.2" cy="98.2" r="2.7" fill="#903f88" stroke="#7e3274"/>
<circle cx="509.2" cy="104.7" r="2.7" fill="#b0597c" stroke="#9a476a"/>
<circle cx="548.3" cy="120.2" r="2.7" fill="#9f4b83" stroke="#8b3c70"/>
<circle cx="532.0" cy="118.5" r="2.7" fill="#db7d62" stroke="#c06454"/>
<circle cx="515.2" cy="140.9" r="2.7" fill="#d77966" stroke="#bd6057"/>
<circle cx="492.5" cy="105.5" r="2.7" fill="#faa147" stroke="#dc803d"/>
<circle cx="550.0" cy="117.6" r="2.7" fill="#8d3e88" stroke="#7c3174"/>
<circle cx="531.6" cy="93.1" r="2.7" fill="#391a90" stroke="#32147b"/>
<circle cx="503.3" cy="118.3" r="2.7" fill="#e88b57" stroke="#cc6f4a"/>
<circle cx="506.2" cy="150.3" r="2.7" fill="#e0825e" stroke="#c56850"/>
<circle cx="556.0" cy="115.1" r="2.7" fill="#a14e82" stroke="#8d3e6f"/>
<circle cx="484.1" cy="122.2" r="2.7" fill="#f79d4a" stroke="#d97d3f"/>
<circle cx="520.1" cy="127.7" r="2.7" fill="#de8060" stroke="#c36652"/>
<circle cx="511.9" cy="91.3" r="2.7" fill="#a24e82" stroke="#8e3e6f"/>
<circle cx="553.2" cy="94.8" r="2.7" fill="#a65280" stroke="#92416e"/>
<circle cx="542.9" cy="117.0" r="2.7" fill="#a24e81" stroke="#8e3e6e"/>
<circle cx="527.4" cy="117.3" r="2.7" fill="#dc7e62" stroke="#c16454"/>
<circle cx="519.9" cy="140.5" r="2.7" fill="#de805f" stroke="#c36651"/>
<circle cx="502.7" cy="137.2" r="2.7" fill="#e98c57" stroke="#cd704a"/>
<circle cx="499.1" cy="149.5" r="2.7" fill="#f19450" stroke="#d47644"/>
<circle cx="510.4" cy="100.8" r="2.7" fill="#a34f81" stroke="#8f3f6e"/>
<circle cx="501.5" cy="80.0" r="2.7" fill="#f59a4c" stroke="#d77b41"/>
<circle cx="528.2" cy="121.2" r="2.7" fill="#9c4984" stroke="#893a71"/>
<circle cx="531.7" cy="126.7" r="2.7" fill="#9a4884" stroke="#873971"/>
<circle cx="552.0" cy="103.0" r="2.7" fill="#984685" stroke="#853872"/>
<circle cx="489.4" cy="143.6" r="2.7" fill="#f59a4c" stroke="#d77b41"/>
<circle cx="527.1" cy="118.8" r="2.7" fill="#db7d62" stroke="#c06454"/>
<circle cx="582.1" cy="115.7" r="2.7" fill="#bf6576" stroke="#a85065"/>
<circle cx="504.6" cy="137.6" r="2.7" fill="#f09450" stroke="#d37644"/>
<circle cx="508.2" cy="156.9" r="2.7" fill="#f09450" stroke="#d37644"/>
<circle cx="498.2" cy="98.8" r="2.7" fill="#f3974e" stroke="#d57843"/>
<circle cx="483.1" cy="128.9" r="2.7" fill="#f79d4a" stroke="#d97d3f"/>
<circle cx="482.5" cy="113.0" r="2.7" fill="#faa147" stroke="#dc803d"/>
<circle cx="527.1" cy="106.2" r="2.7" fill="#9f4b83" stroke="#8b3c70"/>
<circle cx="491.5" cy="125.9" r="2.7" fill="#faa247" stroke="#dc813d"/>
<circle cx="529.2" cy="123.7" r="2.7" fill="#d97b64" stroke="#be6256"/>
<circle cx="530.5" cy="132.1" r="2.7" fill="#d47668" stroke="#ba5e59"/>
<circle cx="523.4" cy="141.3" r="2.7" fill="#cb6f6e" stroke="#b2585e"/>
<circle cx="470.2" cy="151.7" r="2.7" fill="#f89e4a" stroke="#da7e3f"/>
<circle cx="538.9" cy="124.9" r="2.7" fill="#9c4984" stroke="#893a71"/>
<circle cx="535.7" cy="92.4" r="2.7" fill="#a8537f" stroke="#93426d"/>
<circle cx="483.6" cy="117.9" r="2.7" fill="#f79d4a" stroke="#d97d3f"/>
<circle cx="548.1" cy="109.9" r="2.7" fill="#9d4a83" stroke="#8a3b70"/>
<circle cx="535.9" cy="92.8" r="2.7" fill="#b25b7b" stroke="#9c4869"/>
<circle cx="547.8" cy="111.2" r="2.7" fill="#974585" stroke="#843772"/>
<circle cx="536.1" cy="110.3" r="2.7" fill="#be6476" stroke="#a75065"/>
<circle cx="509.1" cy="111.0" r="2.7" fill="#9a4884" stroke="#873971"/>
<circle cx="548.7" cy="91.4" r="2.7" fill="#934187" stroke="#813474"/>
<circle cx="501.0" cy="83.3" r="2.7" fill="#ed9053" stroke="#d07347"/>
<circle cx="555.4" cy="100.2" r="2.7" fill="#a24e82" stroke="#8e3e6f"/>
<circle cx="509.3" cy="124.1" r="2.7" fill="#e0825e" stroke="#c56850"/>
<circle cx="504.7" cy="97.7" r="2.7" fill="#f69b4b" stroke="#d87c40"/>
<circle cx="522.6" cy="117.0" r="2.7" fill="#b25b7b" stroke="#9c4869"/>
<circle cx="511.1" cy="117.5" r="2.7" fill="#db7d62" stroke="#c06454"/>
<circle cx="516.8" cy="110.6" r="2.7" fill="#a24e82" stroke="#8e3e6f"/>
<circle cx="529.0" cy="131.5" r="2.7" fill="#dc7e62" stroke="#c16454"/>
<circle cx="507.9" cy="146.3" r="2.7" fill="#e1835d" stroke="#c6684f"/>
<circle cx="551.3" cy="92.6" r="2.7" fill="#9d4a83" stroke="#8a3b70"/>
<circle cx="488.8" cy="122.3" r="2.7" fill="#f9a148" stroke="#db803d"/>
<circle cx="497.5" cy="126.9" r="2.7" fill="#f4984d" stroke="#d67942"/>
<circle cx="487.0" cy="139.8" r="2.7" fill="#f59b4c" stroke="#d77c41"/>
<circle cx="502.9" cy="140.6" r="2.7" fill="#ee9152" stroke="#d17446"/>
<circle cx="488.7" cy="135.9" r="2.7" fill="#f79d4a" stroke="#d97d3f"/>
<circle cx="497.1" cy="133.3" r="2.7" fill="#f4994d" stroke="#d67a42"/>
</g>
<line x1="419" x2="590.4" y1="112.2" y2="112.2" stroke="#111" stroke-width="1.5"/>
<line x1="504.5" x2="504.5" y1="28.4" y2="194.9" stroke="#111" stroke-width="1.5"/>
<rect x="419" y="28.4" width="171.39999999999998" height="166.5" fill="none" stroke="#555" stroke-width="0.9"/>
<line x1="418.55" x2="590.85" y1="28.5" y2="28.5" stroke="#505050" stroke-width="1.7"/>
<line x1="459.9" x2="459.9" y1="194.9" y2="198.4" stroke="#333" stroke-width="1"/>
<text x="459.9" y="211.7" font-family="Liberation Sans, Arial, Helvetica, sans-serif" font-size="12.2" fill="#4d4d4d" text-anchor="middle">-40</text>
<line x1="504.5" x2="504.5" y1="194.9" y2="198.4" stroke="#333" stroke-width="1"/>
<text x="504.5" y="211.7" font-family="Liberation Sans, Arial, Helvetica, sans-serif" font-size="12.2" fill="#4d4d4d" text-anchor="middle">0</text>
<line x1="549.1" x2="549.1" y1="194.9" y2="198.4" stroke="#333" stroke-width="1"/>
<text x="549.1" y="211.7" font-family="Liberation Sans, Arial, Helvetica, sans-serif" font-size="12.2" fill="#4d4d4d" text-anchor="middle">40</text>
<line x1="56" x2="59.5" y1="63.1" y2="63.1" stroke="#333" stroke-width="1"/>
<text x="52.4" y="67.5" font-family="Liberation Sans, Arial, Helvetica, sans-serif" font-size="12.2" fill="#4d4d4d" text-anchor="end">0.2</text>
<line x1="56" x2="59.5" y1="112.2" y2="112.2" stroke="#333" stroke-width="1"/>
<text x="52.4" y="116.60000000000001" font-family="Liberation Sans, Arial, Helvetica, sans-serif" font-size="12.2" fill="#4d4d4d" text-anchor="end">0.0</text>
<line x1="56" x2="59.5" y1="161.3" y2="161.3" stroke="#333" stroke-width="1"/>
<text x="52.4" y="165.70000000000002" font-family="Liberation Sans, Arial, Helvetica, sans-serif" font-size="12.2" fill="#4d4d4d" text-anchor="end">-0.2</text>
<text x="219.7" y="232" font-family="Liberation Sans, Arial, Helvetica, sans-serif" font-size="13.9" fill="#111" xml:space="preserve"><tspan font-family="Liberation Serif, serif" font-size="14.5">Δ</tspan> substrate degraded (mg C cm<tspan font-size="10.2" dy="-6.5" letter-spacing="-0.9">−</tspan><tspan font-size="10.2">3</tspan><tspan dy="6.5" dx="0.4">)</tspan></text>
<text transform="translate(21,180.6) rotate(-90)" font-family="Liberation Sans, Arial, Helvetica, sans-serif" font-size="13.7" fill="#111" xml:space="preserve">Δ biomass (mg C cm<tspan font-size="10.2" dy="-6.5" letter-spacing="-0.9">−</tspan><tspan font-size="10.2">3</tspan><tspan dy="6.5" dx="0.4">)</tspan></text>
<text x="636.6" y="64.3" font-family="Liberation Sans, Arial, Helvetica, sans-serif" font-size="11" fill="#111" text-anchor="middle">Enzyme</text>
<line x1="613.7" x2="660.6" y1="70.6" y2="70.6" stroke="#222" stroke-width="0.9"/>
<text x="636.8" y="85.1" font-family="Liberation Sans, Arial, Helvetica, sans-serif" font-size="11.1" fill="#111" text-anchor="middle">Monomer</text>
<rect x="613.7" y="92" width="23.8" height="78" fill="url(#cb)"/>
<line x1="613.7" x2="618.4" y1="107.7" y2="107.7" stroke="#fff" stroke-opacity="0.65" stroke-width="0.9"/>
<line x1="632.8" x2="637.5" y1="107.7" y2="107.7" stroke="#fff" stroke-opacity="0.65" stroke-width="0.9"/>
<text x="642.8" y="111.7" font-family="Liberation Sans, Arial, Helvetica, sans-serif" font-size="11" fill="#222">0.8</text>
<line x1="613.7" x2="618.4" y1="138.8" y2="138.8" stroke="#fff" stroke-opacity="0.65" stroke-width="0.9"/>
<line x1="632.8" x2="637.5" y1="138.8" y2="138.8" stroke="#fff" stroke-opacity="0.65" stroke-width="0.9"/>
<text x="642.8" y="142.8" font-family="Liberation Sans, Arial, Helvetica, sans-serif" font-size="11" fill="#222">0.4</text>
<line x1="613.7" x2="618.4" y1="162.5" y2="162.5" stroke="#fff" stroke-opacity="0.65" stroke-width="0.9"/>
<line x1="632.8" x2="637.5" y1="162.5" y2="162.5" stroke="#fff" stroke-opacity="0.65" stroke-width="0.9"/>
<text x="642.8" y="166.5" font-family="Liberation Sans, Arial, Helvetica, sans-serif" font-size="11" fill="#222">0.1</text>
<rect x="137.8" y="264.9" width="380.6" height="185.2" fill="#fff" stroke="#555" stroke-width="1"/>
<line x1="137.8" x2="518.4" y1="357.9" y2="357.9" stroke="#555" stroke-width="1"/>
<line x1="327.9" x2="327.9" y1="264.9" y2="450.1" stroke="#555" stroke-width="1"/>
<text x="263" y="468.7" font-family="Liberation Sans, Arial, Helvetica, sans-serif" font-size="13.8" fill="#111" xml:space="preserve"><tspan font-family="Liberation Serif, serif" font-size="14">Δ</tspan> ecosystem function</text>
<text transform="translate(127.6,414.2) rotate(-90)" font-family="Liberation Sans, Arial, Helvetica, sans-serif" font-size="13.75" fill="#111" xml:space="preserve"><tspan font-family="Liberation Serif, serif" font-size="14">Δ</tspan> associate fitness</text>
<path d="M243.4 358.1 L261.6 340.6 L261.6 349.8 L390.1 349.8 L390.1 340.6 L408 358.1 L390.1 375.6 L390.1 366.4 L261.6 366.4 L261.6 375.6 Z" fill="url(#ar)" stroke="#232650" stroke-width="1.6" stroke-linejoin="miter"/>
<text x="325.2" y="362.6" font-family="Liberation Sans, Arial, Helvetica, sans-serif" font-size="10.75" fill="#fffaf2" text-anchor="middle">Resource acquisition traits</text>
<text x="261" y="321.6" font-family="Liberation Sans, Arial, Helvetica, sans-serif" font-size="10.6" fill="#000" stroke="#000" stroke-width="0.2" text-anchor="middle">monomer</text><text x="261" y="335" font-family="Liberation Sans, Arial, Helvetica, sans-serif" font-size="10.6" fill="#000" stroke="#000" stroke-width="0.2" text-anchor="middle">use</text>
<text x="393.7" y="321.6" font-family="Liberation Sans, Arial, Helvetica, sans-serif" font-size="10.6" fill="#000" stroke="#000" stroke-width="0.2" text-anchor="middle">enzyme</text><text x="393.4" y="335" font-family="Liberation Sans, Arial, Helvetica, sans-serif" font-size="10.6" fill="#000" stroke="#000" stroke-width="0.2" text-anchor="middle">production</text>
<text x="475.2" y="316" font-family="Liberation Sans, Arial, Helvetica, sans-serif" font-size="10.6" fill="#000" stroke="#000" stroke-width="0.2" text-anchor="middle">dissimilar</text><text x="475.2" y="328.6" font-family="Liberation Sans, Arial, Helvetica, sans-serif" font-size="10.6" fill="#000" stroke="#000" stroke-width="0.2" text-anchor="middle">traits</text>
<text x="470.6" y="394" font-family="Liberation Sans, Arial, Helvetica, sans-serif" font-size="10.6" fill="#000" stroke="#000" stroke-width="0.2" text-anchor="middle">similar</text><text x="470.8" y="406.7" font-family="Liberation Sans, Arial, Helvetica, sans-serif" font-size="10.6" fill="#000" stroke="#000" stroke-width="0.2" text-anchor="middle">traits</text>
<text x="258.2" y="399.5" font-family="Liberation Sans, Arial, Helvetica, sans-serif" font-size="10.6" fill="#000" stroke="#000" stroke-width="0.2" text-anchor="middle">stress</text><text x="388.8" y="401" font-family="Liberation Sans, Arial, Helvetica, sans-serif" font-size="10.6" fill="#000" stroke="#000" stroke-width="0.2" text-anchor="middle">stress</text>
<text x="161.6" y="435.6" font-family="Liberation Sans, Arial, Helvetica, sans-serif" font-size="13.4" font-weight="bold" fill="#000">Exploitation</text>
<text x="414.7" y="435.4" font-family="Liberation Sans, Arial, Helvetica, sans-serif" font-size="13.6" font-weight="bold" fill="#000">Competition</text>
<text x="488.9" y="287.8" font-family="Liberation Sans, Arial, Helvetica, sans-serif" font-size="13.4" font-weight="bold" fill="#000" text-anchor="end">Facilitation</text>
<circle cx="203.9" cy="402.6" r="5.4" fill="#f5a35a"/>
<circle cx="313.4" cy="402.6" r="5.4" fill="#f5a35a"/>
<circle cx="338.6" cy="402.7" r="5.4" fill="#7a2a8c"/>
<circle cx="442" cy="400.4" r="5.4" fill="#7a2a8c"/>
<circle cx="442.2" cy="312.5" r="5.4" fill="#7a2a8c"/>
<path d="M313.4 398.4 C300 388.5 245 386.5 213.5 396" fill="none" stroke="#000" stroke-width="1.5"/>
<path d="M208.6 398.3 L216.9 392.2 L216.3 399.8 Z" fill="#000"/>
<path d="M341.5 398.3 C355 388.5 405 387 433.5 394.6" fill="none" stroke="#000" stroke-width="1.5"/>
<path d="M438.6 396.8 L431.9 390.2 L430.2 397.6 Z" fill="#000"/>
<line x1="442.1" x2="442.1" y1="395.5" y2="324" stroke="#000" stroke-width="1.5"/>
<path d="M442.1 319.2 L438.5 326.2 L445.7 326.2 Z" fill="#000"/>
<mask id="wm" maskUnits="userSpaceOnUse" x="415" y="430" width="40" height="30"><rect x="415" y="430" width="40" height="30" fill="#fff"/><path d="M440.3 441.4c-4.500 0-8.200 2.850-8.200 6.350s3.700 6.350 8.200 6.350c0.900 0 1.800-0.100 2.600-0.350l2.700 1.450-0.700-2.300c2.200-1.150 3.600-3.050 3.600-5.150 0-3.500-3.700-6.350-8.200-6.350z" fill="#000"/><circle cx="429.1" cy="439.9" r="1.15" fill="#000"/><circle cx="434.9" cy="439.9" r="1.15" fill="#000"/></mask><mask id="wm2" maskUnits="userSpaceOnUse" x="415" y="430" width="40" height="30"><rect x="415" y="430" width="40" height="30" fill="#fff"/><circle cx="438" cy="446" r="0.95" fill="#000"/><circle cx="443.1" cy="446" r="0.95" fill="#000"/></mask>
<g opacity="0.5" fill="#5a5a5a">
<path d="M431.7 435.6c-4.800 0-8.700 2.950-8.700 6.600 0 2.100 1.300 3.950 3.300 5.150l-0.900 2.500 3.100-1.550c1.000 0.300 2.100 0.500 3.200 0.500 4.800 0 8.700-2.950 8.700-6.600s-3.900-6.600-8.700-6.600z"/>
<path d="M440.3 442.1c-4.200 0-7.600 2.550-7.600 5.700s3.400 5.700 7.600 5.700c0.850 0 1.700-0.100 2.450-0.300l2.350 1.250-0.600-2.000c2.050-1.050 3.400-2.750 3.400-4.650 0-3.150-3.400-5.700-7.600-5.700z" mask="url(#wm2)"/>
<text x="455" y="451.4" font-family="Liberation Sans, Noto Sans CJK SC, sans-serif" font-size="17.6">公众号</text>
<text x="516.5" y="451" font-family="Liberation Sans, Noto Sans CJK SC, sans-serif" font-size="17.6">·</text>
<text x="530.5" y="451.4" font-family="Liberation Sans, Noto Sans CJK SC, sans-serif" font-size="17.6" letter-spacing="0.75">生态环境学家</text>
</g>
</svg>
</body></html>
